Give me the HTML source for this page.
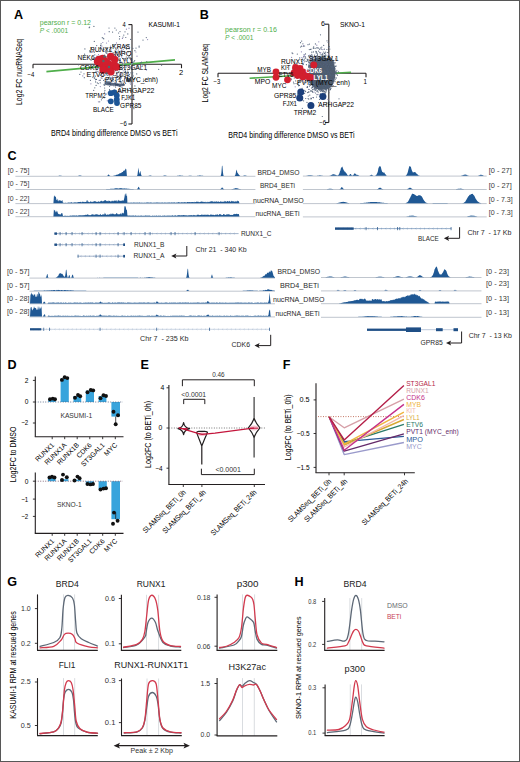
<!DOCTYPE html>
<html><head><meta charset="utf-8"><title>Figure</title><style>
html,body{margin:0;padding:0;background:#fff;}
svg{display:block;font-family:"Liberation Sans", sans-serif;}
</style></head><body>
<svg width="520" height="762" viewBox="0 0 520 762">
<text x="14.00" y="18.83" font-size="12.6" fill="#000" font-weight="bold">A</text>
<text x="199.80" y="18.53" font-size="12.6" fill="#000" font-weight="bold">B</text>
<text x="7.60" y="160.33" font-size="12.6" fill="#000" font-weight="bold">C</text>
<text x="7.60" y="369.23" font-size="12.6" fill="#000" font-weight="bold">D</text>
<text x="140.50" y="369.23" font-size="12.6" fill="#000" font-weight="bold">E</text>
<text x="282.80" y="369.23" font-size="12.6" fill="#000" font-weight="bold">F</text>
<text x="7.30" y="586.33" font-size="12.6" fill="#000" font-weight="bold">G</text>
<text x="294.50" y="586.33" font-size="12.6" fill="#000" font-weight="bold">H</text>
<line x1="33.00" y1="64.30" x2="181.50" y2="64.30" stroke="#231f20" stroke-width="1.1" />
<line x1="33.00" y1="64.30" x2="33.00" y2="68.20" stroke="#231f20" stroke-width="1.1" />
<line x1="181.50" y1="64.30" x2="181.50" y2="68.20" stroke="#231f20" stroke-width="1.1" />
<line x1="132.00" y1="24.60" x2="132.00" y2="124.00" stroke="#231f20" stroke-width="1.1" />
<line x1="128.40" y1="24.60" x2="132.00" y2="24.60" stroke="#231f20" stroke-width="1.1" />
<line x1="128.40" y1="124.00" x2="132.00" y2="124.00" stroke="#231f20" stroke-width="1.1" />
<line x1="46.40" y1="71.60" x2="175.00" y2="59.90" stroke="#4fae4a" stroke-width="1.6" />
<circle cx="100.5" cy="72.0" r="0.6" fill="#8f86b8"/>
<circle cx="130.4" cy="57.8" r="0.6" fill="#56667c"/>
<circle cx="99.1" cy="65.0" r="0.6" fill="#56667c"/>
<circle cx="123.5" cy="83.6" r="0.6" fill="#56667c"/>
<circle cx="100.6" cy="45.3" r="0.6" fill="#56667c"/>
<circle cx="126.5" cy="73.6" r="0.6" fill="#8f86b8"/>
<circle cx="137.7" cy="81.7" r="0.6" fill="#56667c"/>
<circle cx="154.0" cy="77.8" r="0.6" fill="#56667c"/>
<circle cx="106.4" cy="47.8" r="0.6" fill="#56667c"/>
<circle cx="118.3" cy="68.3" r="0.6" fill="#56667c"/>
<circle cx="112.3" cy="65.0" r="0.6" fill="#56667c"/>
<circle cx="120.7" cy="77.1" r="0.6" fill="#8f86b8"/>
<circle cx="131.8" cy="69.4" r="0.6" fill="#56667c"/>
<circle cx="92.8" cy="77.2" r="0.6" fill="#56667c"/>
<circle cx="97.8" cy="63.3" r="0.6" fill="#56667c"/>
<circle cx="97.1" cy="66.0" r="0.6" fill="#8f86b8"/>
<circle cx="106.5" cy="69.4" r="0.6" fill="#56667c"/>
<circle cx="161.6" cy="65.2" r="0.6" fill="#56667c"/>
<circle cx="113.9" cy="52.6" r="0.6" fill="#56667c"/>
<circle cx="118.4" cy="79.1" r="0.6" fill="#56667c"/>
<circle cx="124.6" cy="53.0" r="0.6" fill="#56667c"/>
<circle cx="124.4" cy="100.0" r="0.6" fill="#8f86b8"/>
<circle cx="79.8" cy="74.4" r="0.6" fill="#56667c"/>
<circle cx="112.8" cy="69.7" r="0.6" fill="#56667c"/>
<circle cx="100.9" cy="45.8" r="0.6" fill="#56667c"/>
<circle cx="116.3" cy="72.8" r="0.6" fill="#56667c"/>
<circle cx="99.7" cy="101.8" r="0.6" fill="#56667c"/>
<circle cx="117.3" cy="58.0" r="0.6" fill="#56667c"/>
<circle cx="117.1" cy="73.4" r="0.6" fill="#8f86b8"/>
<circle cx="103.3" cy="59.7" r="0.6" fill="#56667c"/>
<circle cx="125.0" cy="90.2" r="0.6" fill="#56667c"/>
<circle cx="130.2" cy="82.9" r="0.6" fill="#56667c"/>
<circle cx="127.5" cy="77.2" r="0.6" fill="#56667c"/>
<circle cx="119.5" cy="78.3" r="0.6" fill="#56667c"/>
<circle cx="124.0" cy="58.7" r="0.6" fill="#56667c"/>
<circle cx="96.1" cy="85.4" r="0.6" fill="#56667c"/>
<circle cx="113.1" cy="60.3" r="0.6" fill="#8f86b8"/>
<circle cx="126.3" cy="65.3" r="0.6" fill="#56667c"/>
<circle cx="115.8" cy="93.5" r="0.6" fill="#56667c"/>
<circle cx="111.6" cy="77.8" r="0.6" fill="#8f86b8"/>
<circle cx="122.3" cy="69.1" r="0.6" fill="#56667c"/>
<circle cx="108.3" cy="60.1" r="0.6" fill="#56667c"/>
<circle cx="106.5" cy="56.8" r="0.6" fill="#56667c"/>
<circle cx="84.3" cy="77.7" r="0.6" fill="#56667c"/>
<circle cx="99.4" cy="68.1" r="0.6" fill="#56667c"/>
<circle cx="122.7" cy="58.4" r="0.6" fill="#56667c"/>
<circle cx="133.7" cy="94.8" r="0.6" fill="#56667c"/>
<circle cx="117.0" cy="76.4" r="0.6" fill="#8f86b8"/>
<circle cx="114.9" cy="28.1" r="0.6" fill="#56667c"/>
<circle cx="127.9" cy="103.0" r="0.6" fill="#8f86b8"/>
<circle cx="130.6" cy="51.3" r="0.6" fill="#56667c"/>
<circle cx="111.4" cy="69.5" r="0.6" fill="#56667c"/>
<circle cx="114.1" cy="54.2" r="0.6" fill="#8f86b8"/>
<circle cx="125.1" cy="46.7" r="0.6" fill="#56667c"/>
<circle cx="114.7" cy="75.6" r="0.6" fill="#56667c"/>
<circle cx="116.1" cy="60.1" r="0.6" fill="#56667c"/>
<circle cx="119.3" cy="86.3" r="0.6" fill="#56667c"/>
<circle cx="128.2" cy="48.3" r="0.6" fill="#56667c"/>
<circle cx="111.3" cy="101.1" r="0.6" fill="#56667c"/>
<circle cx="117.7" cy="68.8" r="0.6" fill="#56667c"/>
<circle cx="115.2" cy="83.3" r="0.6" fill="#56667c"/>
<circle cx="124.8" cy="69.7" r="0.6" fill="#56667c"/>
<circle cx="105.1" cy="81.3" r="0.6" fill="#56667c"/>
<circle cx="125.7" cy="77.2" r="0.6" fill="#56667c"/>
<circle cx="146.3" cy="37.6" r="0.6" fill="#56667c"/>
<circle cx="110.5" cy="46.2" r="0.6" fill="#8f86b8"/>
<circle cx="119.3" cy="69.3" r="0.6" fill="#56667c"/>
<circle cx="146.5" cy="69.9" r="0.6" fill="#8f86b8"/>
<circle cx="119.7" cy="65.2" r="0.6" fill="#56667c"/>
<circle cx="106.8" cy="52.1" r="0.6" fill="#56667c"/>
<circle cx="115.6" cy="52.1" r="0.6" fill="#56667c"/>
<circle cx="122.3" cy="66.0" r="0.6" fill="#56667c"/>
<circle cx="95.9" cy="58.5" r="0.6" fill="#56667c"/>
<circle cx="134.9" cy="50.7" r="0.6" fill="#56667c"/>
<circle cx="125.0" cy="31.8" r="0.6" fill="#56667c"/>
<circle cx="104.7" cy="85.5" r="0.6" fill="#56667c"/>
<circle cx="123.8" cy="35.1" r="0.6" fill="#56667c"/>
<circle cx="100.0" cy="56.1" r="0.6" fill="#56667c"/>
<circle cx="103.8" cy="80.3" r="0.6" fill="#8f86b8"/>
<circle cx="112.7" cy="61.9" r="0.6" fill="#56667c"/>
<circle cx="89.6" cy="27.1" r="0.6" fill="#56667c"/>
<circle cx="132.9" cy="48.3" r="0.6" fill="#56667c"/>
<circle cx="100.2" cy="82.8" r="0.6" fill="#56667c"/>
<circle cx="104.3" cy="57.6" r="0.6" fill="#8f86b8"/>
<circle cx="120.0" cy="60.3" r="0.6" fill="#56667c"/>
<circle cx="117.0" cy="62.1" r="0.6" fill="#56667c"/>
<circle cx="104.6" cy="55.1" r="0.6" fill="#56667c"/>
<circle cx="119.6" cy="90.6" r="0.6" fill="#8f86b8"/>
<circle cx="98.4" cy="66.4" r="0.6" fill="#56667c"/>
<circle cx="126.1" cy="60.1" r="0.6" fill="#56667c"/>
<circle cx="128.4" cy="67.0" r="0.6" fill="#56667c"/>
<circle cx="113.0" cy="56.3" r="0.6" fill="#56667c"/>
<circle cx="131.2" cy="96.4" r="0.6" fill="#8f86b8"/>
<circle cx="109.2" cy="51.4" r="0.6" fill="#56667c"/>
<circle cx="126.3" cy="57.0" r="0.6" fill="#56667c"/>
<circle cx="112.5" cy="56.8" r="0.6" fill="#56667c"/>
<circle cx="94.8" cy="78.2" r="0.6" fill="#56667c"/>
<circle cx="106.8" cy="59.0" r="0.6" fill="#56667c"/>
<circle cx="127.4" cy="80.2" r="0.6" fill="#56667c"/>
<circle cx="130.7" cy="39.4" r="0.6" fill="#56667c"/>
<circle cx="109.0" cy="28.0" r="0.6" fill="#56667c"/>
<circle cx="115.6" cy="75.6" r="0.6" fill="#56667c"/>
<circle cx="106.7" cy="69.9" r="0.6" fill="#56667c"/>
<circle cx="120.1" cy="82.1" r="0.6" fill="#56667c"/>
<circle cx="105.9" cy="52.7" r="0.6" fill="#56667c"/>
<circle cx="106.7" cy="94.0" r="0.6" fill="#56667c"/>
<circle cx="131.7" cy="64.0" r="0.6" fill="#56667c"/>
<circle cx="120.0" cy="67.8" r="0.6" fill="#56667c"/>
<circle cx="119.7" cy="62.7" r="0.6" fill="#56667c"/>
<circle cx="112.5" cy="45.9" r="0.6" fill="#56667c"/>
<circle cx="108.3" cy="92.4" r="0.6" fill="#56667c"/>
<circle cx="124.2" cy="67.0" r="0.6" fill="#56667c"/>
<circle cx="114.1" cy="67.0" r="0.6" fill="#56667c"/>
<circle cx="121.8" cy="55.7" r="0.6" fill="#56667c"/>
<circle cx="119.7" cy="69.8" r="0.6" fill="#56667c"/>
<circle cx="106.9" cy="53.4" r="0.6" fill="#56667c"/>
<circle cx="103.5" cy="49.0" r="0.6" fill="#56667c"/>
<circle cx="129.0" cy="28.2" r="0.6" fill="#8f86b8"/>
<circle cx="113.4" cy="56.2" r="0.6" fill="#56667c"/>
<circle cx="108.6" cy="67.6" r="0.6" fill="#56667c"/>
<circle cx="132.2" cy="67.2" r="0.6" fill="#56667c"/>
<circle cx="115.1" cy="56.2" r="0.6" fill="#56667c"/>
<circle cx="115.3" cy="80.6" r="0.6" fill="#56667c"/>
<circle cx="111.7" cy="47.7" r="0.6" fill="#56667c"/>
<circle cx="99.9" cy="48.3" r="0.6" fill="#56667c"/>
<circle cx="98.2" cy="83.6" r="0.6" fill="#56667c"/>
<circle cx="121.8" cy="62.2" r="0.6" fill="#8f86b8"/>
<circle cx="98.9" cy="72.5" r="0.6" fill="#8f86b8"/>
<circle cx="128.1" cy="57.7" r="0.6" fill="#56667c"/>
<circle cx="91.8" cy="52.2" r="0.6" fill="#56667c"/>
<circle cx="126.4" cy="29.2" r="0.6" fill="#8f86b8"/>
<circle cx="97.9" cy="71.3" r="0.6" fill="#56667c"/>
<circle cx="123.0" cy="90.6" r="0.6" fill="#56667c"/>
<circle cx="125.1" cy="45.2" r="0.6" fill="#56667c"/>
<circle cx="115.1" cy="55.1" r="0.6" fill="#8f86b8"/>
<circle cx="147.6" cy="39.6" r="0.6" fill="#8f86b8"/>
<circle cx="93.8" cy="59.5" r="0.6" fill="#56667c"/>
<circle cx="104.3" cy="97.7" r="0.6" fill="#56667c"/>
<circle cx="124.7" cy="54.3" r="0.6" fill="#56667c"/>
<circle cx="129.6" cy="74.6" r="0.6" fill="#56667c"/>
<circle cx="95.1" cy="57.5" r="0.6" fill="#56667c"/>
<circle cx="113.8" cy="66.3" r="0.6" fill="#56667c"/>
<circle cx="118.8" cy="60.6" r="0.6" fill="#56667c"/>
<circle cx="119.6" cy="56.6" r="0.6" fill="#56667c"/>
<circle cx="104.9" cy="90.3" r="0.6" fill="#56667c"/>
<circle cx="121.9" cy="73.0" r="0.6" fill="#56667c"/>
<circle cx="95.5" cy="63.3" r="0.6" fill="#56667c"/>
<circle cx="128.1" cy="45.3" r="0.6" fill="#56667c"/>
<circle cx="131.8" cy="59.8" r="0.6" fill="#56667c"/>
<circle cx="122.4" cy="63.9" r="0.6" fill="#56667c"/>
<circle cx="119.9" cy="85.3" r="0.6" fill="#56667c"/>
<circle cx="111.6" cy="91.0" r="0.6" fill="#56667c"/>
<circle cx="106.4" cy="51.1" r="0.6" fill="#56667c"/>
<circle cx="126.6" cy="48.9" r="0.6" fill="#56667c"/>
<circle cx="112.0" cy="80.5" r="0.6" fill="#56667c"/>
<circle cx="138.0" cy="32.1" r="0.6" fill="#56667c"/>
<circle cx="108.9" cy="61.3" r="0.6" fill="#56667c"/>
<circle cx="101.4" cy="61.8" r="0.6" fill="#56667c"/>
<circle cx="114.5" cy="63.7" r="0.6" fill="#56667c"/>
<circle cx="133.0" cy="62.3" r="0.6" fill="#56667c"/>
<circle cx="97.3" cy="82.8" r="0.6" fill="#56667c"/>
<circle cx="102.5" cy="58.8" r="0.6" fill="#56667c"/>
<circle cx="115.2" cy="60.5" r="0.6" fill="#56667c"/>
<circle cx="103.5" cy="62.0" r="0.6" fill="#56667c"/>
<circle cx="110.1" cy="67.4" r="0.6" fill="#56667c"/>
<circle cx="94.3" cy="77.9" r="0.6" fill="#56667c"/>
<circle cx="129.5" cy="55.4" r="0.6" fill="#56667c"/>
<circle cx="113.4" cy="75.5" r="0.6" fill="#56667c"/>
<circle cx="94.3" cy="41.4" r="0.6" fill="#56667c"/>
<circle cx="120.3" cy="76.8" r="0.6" fill="#56667c"/>
<circle cx="112.4" cy="53.0" r="0.6" fill="#56667c"/>
<circle cx="105.5" cy="83.6" r="0.6" fill="#56667c"/>
<circle cx="106.8" cy="65.2" r="0.6" fill="#56667c"/>
<circle cx="122.4" cy="84.6" r="0.6" fill="#8f86b8"/>
<circle cx="104.9" cy="72.0" r="0.6" fill="#56667c"/>
<circle cx="102.8" cy="76.2" r="0.6" fill="#56667c"/>
<circle cx="121.9" cy="75.1" r="0.6" fill="#56667c"/>
<circle cx="103.9" cy="49.2" r="0.6" fill="#56667c"/>
<circle cx="91.1" cy="60.2" r="0.6" fill="#56667c"/>
<circle cx="96.7" cy="45.6" r="0.6" fill="#56667c"/>
<circle cx="119.4" cy="92.1" r="0.6" fill="#8f86b8"/>
<circle cx="127.8" cy="33.9" r="0.6" fill="#56667c"/>
<circle cx="112.3" cy="78.7" r="0.6" fill="#56667c"/>
<circle cx="125.4" cy="60.8" r="0.6" fill="#8f86b8"/>
<circle cx="118.5" cy="91.7" r="0.6" fill="#56667c"/>
<circle cx="116.6" cy="73.2" r="0.6" fill="#56667c"/>
<circle cx="124.0" cy="51.4" r="0.6" fill="#56667c"/>
<circle cx="118.7" cy="58.0" r="0.6" fill="#56667c"/>
<circle cx="100.2" cy="80.0" r="0.6" fill="#56667c"/>
<circle cx="126.0" cy="67.2" r="0.6" fill="#56667c"/>
<circle cx="104.7" cy="33.9" r="0.6" fill="#8f86b8"/>
<circle cx="123.6" cy="64.4" r="0.6" fill="#8f86b8"/>
<circle cx="94.3" cy="65.0" r="0.6" fill="#56667c"/>
<circle cx="96.5" cy="65.6" r="0.6" fill="#8f86b8"/>
<circle cx="118.9" cy="71.7" r="0.6" fill="#56667c"/>
<circle cx="119.9" cy="68.7" r="0.6" fill="#56667c"/>
<circle cx="101.6" cy="59.9" r="0.6" fill="#56667c"/>
<circle cx="110.1" cy="62.2" r="0.6" fill="#56667c"/>
<circle cx="120.6" cy="75.9" r="0.6" fill="#56667c"/>
<circle cx="121.0" cy="69.2" r="0.6" fill="#8f86b8"/>
<circle cx="131.3" cy="60.7" r="0.6" fill="#56667c"/>
<circle cx="118.1" cy="51.8" r="0.6" fill="#56667c"/>
<circle cx="101.1" cy="70.0" r="0.6" fill="#56667c"/>
<circle cx="100.4" cy="75.2" r="0.6" fill="#56667c"/>
<circle cx="137.9" cy="68.1" r="0.6" fill="#56667c"/>
<circle cx="123.2" cy="82.0" r="0.6" fill="#56667c"/>
<circle cx="116.1" cy="49.7" r="0.6" fill="#56667c"/>
<circle cx="119.7" cy="75.0" r="0.6" fill="#56667c"/>
<circle cx="114.6" cy="65.8" r="0.6" fill="#56667c"/>
<circle cx="136.0" cy="48.1" r="0.6" fill="#56667c"/>
<circle cx="129.2" cy="48.7" r="0.6" fill="#56667c"/>
<circle cx="101.9" cy="78.2" r="0.6" fill="#56667c"/>
<circle cx="78.6" cy="64.8" r="0.6" fill="#56667c"/>
<circle cx="120.5" cy="54.4" r="0.6" fill="#56667c"/>
<circle cx="135.9" cy="52.0" r="0.6" fill="#8f86b8"/>
<circle cx="122.4" cy="51.0" r="0.6" fill="#8f86b8"/>
<circle cx="139.1" cy="46.1" r="0.6" fill="#56667c"/>
<circle cx="119.5" cy="38.9" r="0.6" fill="#56667c"/>
<circle cx="99.1" cy="80.3" r="0.6" fill="#8f86b8"/>
<circle cx="128.2" cy="72.3" r="0.6" fill="#56667c"/>
<circle cx="115.1" cy="66.5" r="0.6" fill="#56667c"/>
<circle cx="105.1" cy="84.0" r="0.6" fill="#56667c"/>
<circle cx="110.0" cy="57.8" r="0.6" fill="#56667c"/>
<circle cx="107.6" cy="48.5" r="0.6" fill="#8f86b8"/>
<circle cx="103.9" cy="62.7" r="0.6" fill="#8f86b8"/>
<circle cx="136.4" cy="66.0" r="0.6" fill="#56667c"/>
<circle cx="135.5" cy="69.2" r="0.6" fill="#56667c"/>
<circle cx="116.4" cy="82.2" r="0.6" fill="#56667c"/>
<circle cx="125.5" cy="69.3" r="0.6" fill="#56667c"/>
<circle cx="112.6" cy="71.1" r="0.6" fill="#56667c"/>
<circle cx="116.8" cy="100.8" r="0.6" fill="#56667c"/>
<circle cx="101.7" cy="60.1" r="0.6" fill="#56667c"/>
<circle cx="134.1" cy="61.7" r="0.6" fill="#56667c"/>
<circle cx="101.1" cy="43.8" r="0.6" fill="#56667c"/>
<circle cx="133.2" cy="75.9" r="0.6" fill="#56667c"/>
<circle cx="108.9" cy="67.7" r="0.6" fill="#56667c"/>
<circle cx="98.5" cy="66.6" r="0.6" fill="#56667c"/>
<circle cx="99.0" cy="62.4" r="0.6" fill="#56667c"/>
<circle cx="109.6" cy="75.8" r="0.6" fill="#56667c"/>
<circle cx="107.3" cy="49.0" r="0.6" fill="#56667c"/>
<circle cx="112.5" cy="90.8" r="0.6" fill="#56667c"/>
<circle cx="116.4" cy="68.6" r="0.6" fill="#56667c"/>
<circle cx="117.1" cy="70.7" r="0.6" fill="#56667c"/>
<circle cx="129.5" cy="88.3" r="0.6" fill="#56667c"/>
<circle cx="94.8" cy="87.8" r="0.6" fill="#56667c"/>
<circle cx="117.0" cy="60.9" r="0.6" fill="#56667c"/>
<circle cx="128.9" cy="56.5" r="0.6" fill="#56667c"/>
<circle cx="81.0" cy="72.0" r="0.6" fill="#56667c"/>
<circle cx="117.6" cy="85.5" r="0.6" fill="#8f86b8"/>
<circle cx="137.0" cy="56.2" r="0.6" fill="#8f86b8"/>
<circle cx="141.6" cy="62.1" r="0.6" fill="#56667c"/>
<circle cx="131.2" cy="80.8" r="0.6" fill="#56667c"/>
<circle cx="108.2" cy="69.0" r="0.6" fill="#56667c"/>
<circle cx="132.7" cy="72.3" r="0.6" fill="#56667c"/>
<circle cx="127.4" cy="78.2" r="0.6" fill="#56667c"/>
<circle cx="109.7" cy="50.7" r="0.6" fill="#56667c"/>
<circle cx="115.6" cy="87.1" r="0.6" fill="#56667c"/>
<circle cx="96.5" cy="79.4" r="0.6" fill="#56667c"/>
<circle cx="138.5" cy="88.2" r="0.6" fill="#56667c"/>
<circle cx="108.0" cy="55.3" r="0.6" fill="#56667c"/>
<circle cx="114.2" cy="90.1" r="0.6" fill="#56667c"/>
<circle cx="100.4" cy="57.5" r="0.6" fill="#8f86b8"/>
<circle cx="101.9" cy="46.1" r="0.6" fill="#8f86b8"/>
<circle cx="120.8" cy="77.3" r="0.6" fill="#56667c"/>
<circle cx="146.8" cy="61.5" r="0.6" fill="#56667c"/>
<circle cx="121.6" cy="67.4" r="0.6" fill="#56667c"/>
<circle cx="115.1" cy="82.7" r="0.6" fill="#56667c"/>
<circle cx="112.5" cy="60.8" r="0.6" fill="#8f86b8"/>
<circle cx="111.9" cy="64.4" r="0.6" fill="#8f86b8"/>
<circle cx="134.4" cy="78.4" r="0.6" fill="#56667c"/>
<circle cx="108.1" cy="54.7" r="0.6" fill="#56667c"/>
<circle cx="107.8" cy="67.5" r="0.6" fill="#56667c"/>
<circle cx="104.6" cy="88.0" r="0.6" fill="#56667c"/>
<circle cx="119.8" cy="60.7" r="0.6" fill="#56667c"/>
<circle cx="134.9" cy="85.9" r="0.6" fill="#56667c"/>
<circle cx="118.1" cy="55.0" r="0.6" fill="#56667c"/>
<circle cx="107.7" cy="71.7" r="0.6" fill="#8f86b8"/>
<circle cx="121.8" cy="51.7" r="0.6" fill="#8f86b8"/>
<circle cx="93.9" cy="26.4" r="0.6" fill="#56667c"/>
<circle cx="109.2" cy="84.0" r="0.6" fill="#56667c"/>
<circle cx="116.3" cy="30.0" r="0.6" fill="#56667c"/>
<circle cx="105.4" cy="72.7" r="0.6" fill="#56667c"/>
<circle cx="132.1" cy="76.3" r="0.6" fill="#56667c"/>
<circle cx="96.6" cy="68.3" r="0.6" fill="#8f86b8"/>
<circle cx="109.9" cy="92.4" r="0.6" fill="#8f86b8"/>
<circle cx="125.3" cy="71.1" r="0.6" fill="#56667c"/>
<circle cx="114.1" cy="60.4" r="0.6" fill="#56667c"/>
<circle cx="109.8" cy="90.3" r="0.6" fill="#56667c"/>
<circle cx="113.2" cy="53.8" r="0.6" fill="#56667c"/>
<circle cx="124.9" cy="77.8" r="0.6" fill="#56667c"/>
<circle cx="115.1" cy="50.9" r="0.6" fill="#56667c"/>
<circle cx="132.7" cy="82.9" r="0.6" fill="#8f86b8"/>
<circle cx="89.6" cy="50.9" r="0.6" fill="#56667c"/>
<circle cx="120.8" cy="53.1" r="0.6" fill="#56667c"/>
<circle cx="111.4" cy="80.7" r="0.6" fill="#56667c"/>
<circle cx="108.7" cy="77.7" r="0.6" fill="#56667c"/>
<circle cx="108.1" cy="78.2" r="0.6" fill="#56667c"/>
<circle cx="110.2" cy="72.8" r="0.6" fill="#56667c"/>
<circle cx="94.8" cy="54.8" r="0.6" fill="#56667c"/>
<circle cx="92.1" cy="58.3" r="0.6" fill="#8f86b8"/>
<circle cx="109.2" cy="62.2" r="0.6" fill="#8f86b8"/>
<circle cx="118.6" cy="33.0" r="0.6" fill="#56667c"/>
<circle cx="116.4" cy="69.3" r="0.6" fill="#56667c"/>
<circle cx="100.2" cy="64.0" r="0.6" fill="#56667c"/>
<circle cx="84.9" cy="48.9" r="0.6" fill="#56667c"/>
<circle cx="102.8" cy="42.5" r="0.6" fill="#8f86b8"/>
<circle cx="132.6" cy="73.9" r="0.6" fill="#56667c"/>
<circle cx="118.3" cy="59.5" r="0.6" fill="#56667c"/>
<circle cx="136.2" cy="78.8" r="0.6" fill="#56667c"/>
<circle cx="116.5" cy="42.9" r="0.6" fill="#8f86b8"/>
<circle cx="117.3" cy="77.3" r="0.6" fill="#56667c"/>
<circle cx="118.6" cy="46.7" r="0.6" fill="#56667c"/>
<circle cx="118.2" cy="50.0" r="0.6" fill="#56667c"/>
<circle cx="98.4" cy="101.8" r="0.6" fill="#8f86b8"/>
<circle cx="109.6" cy="49.5" r="0.6" fill="#56667c"/>
<circle cx="96.0" cy="60.1" r="0.6" fill="#56667c"/>
<circle cx="109.2" cy="31.7" r="0.6" fill="#56667c"/>
<circle cx="95.6" cy="81.9" r="0.6" fill="#56667c"/>
<circle cx="103.8" cy="38.8" r="0.6" fill="#56667c"/>
<circle cx="125.8" cy="37.5" r="0.6" fill="#56667c"/>
<circle cx="143.0" cy="40.1" r="0.6" fill="#56667c"/>
<circle cx="96.0" cy="62.2" r="0.6" fill="#56667c"/>
<circle cx="121.6" cy="50.2" r="0.6" fill="#56667c"/>
<circle cx="110.3" cy="70.3" r="0.6" fill="#56667c"/>
<circle cx="111.2" cy="72.8" r="0.6" fill="#56667c"/>
<circle cx="121.0" cy="82.1" r="0.6" fill="#56667c"/>
<circle cx="107.7" cy="106.9" r="0.6" fill="#56667c"/>
<circle cx="127.8" cy="71.0" r="0.6" fill="#56667c"/>
<circle cx="131.6" cy="81.3" r="0.6" fill="#56667c"/>
<circle cx="118.4" cy="56.1" r="0.6" fill="#8f86b8"/>
<circle cx="130.8" cy="72.8" r="0.6" fill="#56667c"/>
<circle cx="91.5" cy="48.3" r="0.6" fill="#56667c"/>
<circle cx="123.3" cy="67.7" r="0.6" fill="#56667c"/>
<circle cx="120.8" cy="76.3" r="0.6" fill="#56667c"/>
<circle cx="119.0" cy="91.3" r="0.6" fill="#8f86b8"/>
<circle cx="109.0" cy="59.6" r="0.6" fill="#56667c"/>
<circle cx="121.4" cy="77.9" r="0.6" fill="#8f86b8"/>
<circle cx="127.6" cy="89.8" r="0.6" fill="#56667c"/>
<circle cx="110.6" cy="84.7" r="0.6" fill="#56667c"/>
<circle cx="123.3" cy="49.3" r="0.6" fill="#8f86b8"/>
<circle cx="115.1" cy="99.4" r="0.6" fill="#56667c"/>
<circle cx="127.6" cy="58.5" r="0.6" fill="#56667c"/>
<circle cx="84.6" cy="54.2" r="0.6" fill="#56667c"/>
<circle cx="107.5" cy="67.2" r="0.6" fill="#56667c"/>
<circle cx="148.2" cy="77.9" r="0.6" fill="#56667c"/>
<circle cx="104.6" cy="79.0" r="0.6" fill="#56667c"/>
<circle cx="106.2" cy="64.7" r="0.6" fill="#8f86b8"/>
<circle cx="132.2" cy="67.2" r="0.6" fill="#8f86b8"/>
<circle cx="100.3" cy="86.6" r="0.6" fill="#8f86b8"/>
<circle cx="112.8" cy="44.7" r="0.6" fill="#56667c"/>
<circle cx="121.3" cy="73.8" r="0.6" fill="#8f86b8"/>
<circle cx="112.4" cy="77.2" r="0.6" fill="#56667c"/>
<circle cx="128.1" cy="51.9" r="0.6" fill="#56667c"/>
<circle cx="89.2" cy="27.7" r="0.6" fill="#56667c"/>
<circle cx="115.3" cy="85.7" r="0.6" fill="#56667c"/>
<circle cx="130.5" cy="88.3" r="0.6" fill="#56667c"/>
<circle cx="142.1" cy="66.3" r="0.6" fill="#56667c"/>
<circle cx="119.5" cy="60.0" r="0.6" fill="#56667c"/>
<circle cx="114.3" cy="91.2" r="0.6" fill="#56667c"/>
<circle cx="129.7" cy="76.5" r="0.6" fill="#56667c"/>
<circle cx="84.0" cy="73.8" r="0.6" fill="#56667c"/>
<circle cx="94.2" cy="49.6" r="0.6" fill="#56667c"/>
<circle cx="109.1" cy="92.7" r="0.6" fill="#56667c"/>
<circle cx="90.9" cy="83.8" r="0.6" fill="#8f86b8"/>
<circle cx="101.1" cy="60.7" r="0.6" fill="#56667c"/>
<circle cx="131.0" cy="91.3" r="0.6" fill="#56667c"/>
<circle cx="112.6" cy="78.8" r="0.6" fill="#8f86b8"/>
<circle cx="127.2" cy="72.3" r="0.6" fill="#56667c"/>
<circle cx="96.1" cy="71.2" r="0.6" fill="#56667c"/>
<circle cx="103.9" cy="84.8" r="0.6" fill="#56667c"/>
<circle cx="127.6" cy="75.9" r="0.6" fill="#8f86b8"/>
<circle cx="82.8" cy="75.9" r="0.6" fill="#8f86b8"/>
<circle cx="126.4" cy="45.6" r="0.6" fill="#56667c"/>
<circle cx="130.1" cy="67.2" r="0.6" fill="#8f86b8"/>
<circle cx="114.5" cy="54.6" r="0.6" fill="#56667c"/>
<circle cx="103.3" cy="59.1" r="0.6" fill="#8f86b8"/>
<circle cx="158.7" cy="69.3" r="0.6" fill="#56667c"/>
<circle cx="122.0" cy="87.3" r="0.6" fill="#56667c"/>
<circle cx="113.7" cy="81.0" r="0.6" fill="#56667c"/>
<circle cx="106.0" cy="62.7" r="0.6" fill="#8f86b8"/>
<circle cx="110.0" cy="79.6" r="0.6" fill="#56667c"/>
<circle cx="111.8" cy="55.3" r="0.6" fill="#56667c"/>
<circle cx="123.8" cy="90.7" r="0.6" fill="#56667c"/>
<circle cx="101.4" cy="99.8" r="0.6" fill="#56667c"/>
<circle cx="97.0" cy="56.1" r="0.6" fill="#56667c"/>
<circle cx="104.6" cy="92.1" r="0.6" fill="#56667c"/>
<circle cx="123.2" cy="70.8" r="0.6" fill="#8f86b8"/>
<circle cx="133.8" cy="79.5" r="0.6" fill="#56667c"/>
<circle cx="122.8" cy="80.7" r="0.6" fill="#56667c"/>
<circle cx="126.4" cy="47.7" r="0.6" fill="#56667c"/>
<circle cx="125.2" cy="72.2" r="0.6" fill="#56667c"/>
<circle cx="120.8" cy="72.9" r="0.6" fill="#8f86b8"/>
<circle cx="112.6" cy="69.4" r="0.6" fill="#56667c"/>
<circle cx="129.5" cy="57.9" r="0.6" fill="#56667c"/>
<circle cx="97.6" cy="64.3" r="0.6" fill="#56667c"/>
<circle cx="119.6" cy="36.5" r="0.6" fill="#56667c"/>
<circle cx="107.9" cy="75.4" r="0.6" fill="#56667c"/>
<circle cx="115.0" cy="67.5" r="0.6" fill="#56667c"/>
<circle cx="100.0" cy="80.5" r="0.6" fill="#56667c"/>
<circle cx="140.7" cy="62.8" r="0.6" fill="#56667c"/>
<circle cx="115.0" cy="64.0" r="0.6" fill="#56667c"/>
<circle cx="111.0" cy="78.8" r="0.6" fill="#56667c"/>
<circle cx="113.3" cy="59.8" r="0.6" fill="#56667c"/>
<circle cx="105.4" cy="79.3" r="0.6" fill="#56667c"/>
<circle cx="123.0" cy="37.0" r="0.6" fill="#56667c"/>
<circle cx="110.9" cy="59.9" r="0.6" fill="#56667c"/>
<circle cx="120.0" cy="31.6" r="0.6" fill="#56667c"/>
<circle cx="105.0" cy="61.5" r="0.6" fill="#56667c"/>
<circle cx="109.5" cy="66.0" r="0.6" fill="#56667c"/>
<circle cx="95.7" cy="63.4" r="0.6" fill="#56667c"/>
<circle cx="121.6" cy="56.9" r="0.6" fill="#8f86b8"/>
<circle cx="125.8" cy="72.0" r="0.6" fill="#56667c"/>
<circle cx="98.5" cy="54.6" r="0.6" fill="#8f86b8"/>
<circle cx="102.2" cy="98.3" r="0.6" fill="#56667c"/>
<circle cx="107.3" cy="79.7" r="0.6" fill="#56667c"/>
<circle cx="130.9" cy="54.6" r="0.6" fill="#56667c"/>
<circle cx="100.9" cy="58.4" r="0.6" fill="#8f86b8"/>
<circle cx="114.3" cy="100.9" r="0.6" fill="#56667c"/>
<circle cx="141.9" cy="64.5" r="0.6" fill="#8f86b8"/>
<circle cx="125.0" cy="58.8" r="0.6" fill="#56667c"/>
<circle cx="94.2" cy="52.5" r="0.6" fill="#56667c"/>
<circle cx="123.7" cy="84.5" r="0.6" fill="#56667c"/>
<circle cx="120.1" cy="67.9" r="0.6" fill="#56667c"/>
<circle cx="133.9" cy="108.7" r="0.6" fill="#56667c"/>
<circle cx="110.7" cy="54.5" r="0.6" fill="#56667c"/>
<circle cx="106.5" cy="43.0" r="0.6" fill="#8f86b8"/>
<circle cx="103.7" cy="80.5" r="0.6" fill="#56667c"/>
<circle cx="117.8" cy="63.3" r="0.6" fill="#56667c"/>
<circle cx="121.7" cy="83.1" r="0.6" fill="#56667c"/>
<circle cx="125.3" cy="78.4" r="0.6" fill="#8f86b8"/>
<circle cx="109.4" cy="61.8" r="0.6" fill="#56667c"/>
<circle cx="106.5" cy="64.4" r="0.6" fill="#56667c"/>
<circle cx="106.0" cy="60.0" r="0.6" fill="#56667c"/>
<circle cx="114.6" cy="62.5" r="0.6" fill="#56667c"/>
<circle cx="113.4" cy="58.1" r="0.6" fill="#56667c"/>
<circle cx="134.7" cy="60.5" r="0.6" fill="#56667c"/>
<circle cx="101.0" cy="77.8" r="0.6" fill="#8f86b8"/>
<circle cx="108.5" cy="41.0" r="0.6" fill="#8f86b8"/>
<circle cx="117.2" cy="47.5" r="0.6" fill="#56667c"/>
<circle cx="142.8" cy="65.0" r="0.6" fill="#56667c"/>
<circle cx="104.9" cy="75.2" r="0.6" fill="#56667c"/>
<circle cx="90.2" cy="52.0" r="0.6" fill="#56667c"/>
<circle cx="100.7" cy="62.8" r="0.6" fill="#8f86b8"/>
<circle cx="90.4" cy="80.3" r="0.6" fill="#56667c"/>
<circle cx="115.1" cy="70.8" r="0.6" fill="#56667c"/>
<circle cx="112.6" cy="32.1" r="0.6" fill="#56667c"/>
<circle cx="114.9" cy="44.6" r="0.6" fill="#56667c"/>
<circle cx="117.1" cy="52.4" r="0.6" fill="#56667c"/>
<circle cx="112.7" cy="62.6" r="0.6" fill="#56667c"/>
<circle cx="127.4" cy="78.3" r="0.6" fill="#56667c"/>
<circle cx="103.4" cy="65.7" r="0.6" fill="#56667c"/>
<circle cx="136.7" cy="73.9" r="0.6" fill="#56667c"/>
<circle cx="117.8" cy="79.7" r="0.6" fill="#56667c"/>
<circle cx="109.2" cy="73.2" r="0.6" fill="#56667c"/>
<circle cx="144.0" cy="80.7" r="0.6" fill="#56667c"/>
<circle cx="103.3" cy="38.3" r="0.6" fill="#56667c"/>
<circle cx="95.5" cy="79.7" r="0.6" fill="#56667c"/>
<circle cx="120.9" cy="92.1" r="0.6" fill="#8f86b8"/>
<circle cx="90.3" cy="51.9" r="0.6" fill="#56667c"/>
<circle cx="84.8" cy="56.8" r="0.6" fill="#56667c"/>
<circle cx="127.1" cy="66.0" r="0.6" fill="#8f86b8"/>
<circle cx="113.4" cy="79.5" r="0.6" fill="#56667c"/>
<circle cx="143.5" cy="79.0" r="0.6" fill="#56667c"/>
<circle cx="106.9" cy="75.0" r="0.6" fill="#56667c"/>
<circle cx="113.4" cy="63.5" r="0.6" fill="#8f86b8"/>
<circle cx="85.5" cy="66.4" r="0.6" fill="#56667c"/>
<circle cx="132.1" cy="63.4" r="0.6" fill="#8f86b8"/>
<circle cx="120.0" cy="78.9" r="0.6" fill="#56667c"/>
<circle cx="123.6" cy="53.3" r="0.6" fill="#8f86b8"/>
<circle cx="108.8" cy="67.7" r="0.6" fill="#56667c"/>
<circle cx="111.1" cy="58.3" r="0.6" fill="#56667c"/>
<circle cx="120.2" cy="62.5" r="0.6" fill="#8f86b8"/>
<circle cx="139.1" cy="47.1" r="0.6" fill="#56667c"/>
<circle cx="130.8" cy="84.5" r="0.6" fill="#8f86b8"/>
<circle cx="130.5" cy="59.4" r="0.6" fill="#8f86b8"/>
<circle cx="125.4" cy="71.4" r="0.6" fill="#56667c"/>
<circle cx="109.5" cy="89.6" r="0.6" fill="#56667c"/>
<circle cx="119.8" cy="75.5" r="0.6" fill="#8f86b8"/>
<circle cx="118.8" cy="89.6" r="0.6" fill="#56667c"/>
<circle cx="120.3" cy="51.1" r="0.6" fill="#8f86b8"/>
<circle cx="102.3" cy="37.7" r="0.6" fill="#56667c"/>
<circle cx="108.8" cy="59.8" r="0.6" fill="#56667c"/>
<circle cx="107.3" cy="100.7" r="0.6" fill="#8f86b8"/>
<circle cx="111.6" cy="54.8" r="0.6" fill="#56667c"/>
<circle cx="113.3" cy="60.6" r="0.6" fill="#56667c"/>
<circle cx="131.5" cy="64.2" r="0.6" fill="#8f86b8"/>
<circle cx="100.7" cy="62.5" r="0.6" fill="#56667c"/>
<circle cx="116.9" cy="94.8" r="0.6" fill="#56667c"/>
<circle cx="126.4" cy="72.8" r="0.6" fill="#56667c"/>
<circle cx="117.4" cy="54.0" r="0.6" fill="#56667c"/>
<circle cx="113.9" cy="85.8" r="0.6" fill="#56667c"/>
<circle cx="128.2" cy="97.4" r="0.6" fill="#56667c"/>
<circle cx="120.5" cy="65.7" r="0.6" fill="#56667c"/>
<circle cx="95.2" cy="72.4" r="0.6" fill="#56667c"/>
<circle cx="93.7" cy="90.4" r="0.6" fill="#56667c"/>
<circle cx="108.5" cy="66.0" r="0.6" fill="#8f86b8"/>
<circle cx="98.8" cy="58.1" r="0.6" fill="#56667c"/>
<circle cx="104.4" cy="84.1" r="0.6" fill="#56667c"/>
<circle cx="120.4" cy="47.1" r="0.6" fill="#8f86b8"/>
<circle cx="90.9" cy="64.9" r="0.6" fill="#56667c"/>
<circle cx="110.4" cy="48.2" r="0.6" fill="#56667c"/>
<circle cx="125.0" cy="63.0" r="0.6" fill="#56667c"/>
<circle cx="118.5" cy="56.6" r="0.6" fill="#56667c"/>
<circle cx="109.3" cy="58.6" r="0.6" fill="#56667c"/>
<circle cx="95.4" cy="76.1" r="0.6" fill="#56667c"/>
<circle cx="122.4" cy="38.4" r="0.6" fill="#8f86b8"/>
<circle cx="118.4" cy="84.5" r="0.6" fill="#8f86b8"/>
<circle cx="120.2" cy="86.7" r="0.6" fill="#56667c"/>
<circle cx="113.4" cy="66.0" r="0.6" fill="#56667c"/>
<circle cx="99.5" cy="51.5" r="0.6" fill="#56667c"/>
<circle cx="92.4" cy="51.7" r="0.6" fill="#8f86b8"/>
<circle cx="120.3" cy="74.3" r="0.6" fill="#56667c"/>
<circle cx="132.7" cy="68.1" r="0.6" fill="#8f86b8"/>
<circle cx="103.6" cy="72.9" r="0.6" fill="#56667c"/>
<circle cx="115.0" cy="94.5" r="0.6" fill="#8f86b8"/>
<circle cx="143.4" cy="81.4" r="0.6" fill="#56667c"/>
<circle cx="94.0" cy="58.4" r="0.6" fill="#56667c"/>
<circle cx="117.6" cy="75.0" r="0.6" fill="#8f86b8"/>
<circle cx="115.5" cy="70.4" r="0.6" fill="#56667c"/>
<circle cx="109.6" cy="86.5" r="0.6" fill="#56667c"/>
<circle cx="106.5" cy="64.0" r="0.6" fill="#56667c"/>
<circle cx="112.1" cy="62.4" r="0.6" fill="#56667c"/>
<ellipse cx="112" cy="84.3" rx="7" ry="1.5" fill="#2f4260" opacity="0.8"/>
<ellipse cx="120" cy="85" rx="5" ry="1.4" fill="#2f4260" opacity="0.8"/>
<ellipse cx="108" cy="82.5" rx="3.5" ry="1.3" fill="#2f4260" opacity="0.8"/>
<ellipse cx="128.5" cy="80" rx="2.5" ry="2.2" fill="#2f4260" opacity="0.8"/>
<ellipse cx="104" cy="64" rx="2" ry="4" fill="#2f4260" opacity="0.8"/>
<circle cx="99.00" cy="59.50" r="3.7" fill="#d21f2e"/>
<circle cx="102.60" cy="58.50" r="3.7" fill="#d21f2e"/>
<circle cx="110.70" cy="56.50" r="3.7" fill="#d21f2e"/>
<circle cx="114.60" cy="59.50" r="3.7" fill="#d21f2e"/>
<circle cx="103.40" cy="65.70" r="3.7" fill="#d21f2e"/>
<circle cx="108.00" cy="63.40" r="3.7" fill="#d21f2e"/>
<circle cx="112.60" cy="66.50" r="3.7" fill="#d21f2e"/>
<circle cx="107.20" cy="70.30" r="3.7" fill="#d21f2e"/>
<circle cx="111.00" cy="71.80" r="3.7" fill="#d21f2e"/>
<circle cx="114.00" cy="64.50" r="3.7" fill="#d21f2e"/>
<circle cx="99.50" cy="63.00" r="3.7" fill="#d21f2e"/>
<circle cx="105.00" cy="61.00" r="3.7" fill="#d21f2e"/>
<circle cx="116.50" cy="67.00" r="3.7" fill="#d21f2e"/>
<circle cx="103.00" cy="70.00" r="3.7" fill="#d21f2e"/>
<circle cx="97.50" cy="61.50" r="3.7" fill="#d21f2e"/>
<circle cx="104.50" cy="56.50" r="1.2" fill="#4c6a6e"/>
<circle cx="103.40" cy="61.00" r="1.2" fill="#4c6a6e"/>
<circle cx="106.50" cy="73.40" r="1.2" fill="#4c6a6e"/>
<circle cx="109.00" cy="67.00" r="1.2" fill="#4c6a6e"/>
<circle cx="110.80" cy="93.20" r="2.9" fill="#1c5596"/>
<circle cx="114.50" cy="92.50" r="2.9" fill="#1c5596"/>
<circle cx="116.80" cy="95.50" r="2.9" fill="#1c5596"/>
<circle cx="116.80" cy="99.50" r="2.9" fill="#1c5596"/>
<circle cx="117.00" cy="103.00" r="2.9" fill="#1c5596"/>
<circle cx="110.80" cy="101.30" r="2.9" fill="#1c5596"/>
<text x="90.00" y="52.45" font-size="8.0" textLength="22.30" lengthAdjust="spacingAndGlyphs">RUNX1</text>
<text x="112.30" y="48.95" font-size="8.0" textLength="17.70" lengthAdjust="spacingAndGlyphs">KRAS</text>
<text x="77.40" y="60.15" font-size="8.0" textLength="17.20" lengthAdjust="spacingAndGlyphs">NEK6</text>
<text x="114.60" y="56.15" font-size="8.0" textLength="16.90" lengthAdjust="spacingAndGlyphs">MPO</text>
<text x="119.20" y="62.75" font-size="8.0" textLength="13.80" lengthAdjust="spacingAndGlyphs">LYL1</text>
<text x="80.00" y="70.45" font-size="8.0" textLength="18.50" lengthAdjust="spacingAndGlyphs">CDK6</text>
<text x="118.50" y="70.45" font-size="8.0" textLength="28.50" lengthAdjust="spacingAndGlyphs">ST3GAL1</text>
<text x="86.60" y="77.35" font-size="8.0" textLength="18.00" lengthAdjust="spacingAndGlyphs">ETV6</text>
<text x="116.00" y="76.55" font-size="8.0" textLength="13.00" lengthAdjust="spacingAndGlyphs">CD34</text>
<text x="105.00" y="82.45" font-size="8.0" textLength="53.00" lengthAdjust="spacingAndGlyphs">PVT1 (MYC_enh)</text>
<text x="117.20" y="92.85" font-size="8.0" textLength="37.20" lengthAdjust="spacingAndGlyphs">ARHGAP22</text>
<text x="85.20" y="98.05" font-size="8.0" textLength="20.80" lengthAdjust="spacingAndGlyphs">TRPM2</text>
<text x="121.20" y="100.25" font-size="8.0" textLength="13.80" lengthAdjust="spacingAndGlyphs">FJX1</text>
<text x="120.10" y="107.85" font-size="8.0" textLength="21.30" lengthAdjust="spacingAndGlyphs">GPR85</text>
<text x="93.00" y="111.85" font-size="8.0" textLength="20.70" lengthAdjust="spacingAndGlyphs">BLACE</text>
<text x="122.40" y="26.87" font-size="6.6" textLength="3.20" lengthAdjust="spacingAndGlyphs">4</text>
<text x="126.80" y="126.07" font-size="6.6" text-anchor="end" textLength="6.80" lengthAdjust="spacingAndGlyphs">−6</text>
<text x="27.60" y="77.47" font-size="6.6" textLength="6.80" lengthAdjust="spacingAndGlyphs">−4</text>
<text x="178.90" y="75.17" font-size="6.6" textLength="4.20" lengthAdjust="spacingAndGlyphs">2</text>
<text x="148.50" y="27.20" font-size="6.7" textLength="31.50" lengthAdjust="spacingAndGlyphs">KASUMI-1</text>
<text x="39.75" y="25.10" font-size="6.4" fill="#4fae4a" textLength="51.20" lengthAdjust="spacingAndGlyphs">pearson r = 0.12</text>
<text x="39.75" y="33.2" font-size="6.6" fill="#4fae4a" textLength="28.3" lengthAdjust="spacingAndGlyphs"><tspan font-style="italic">P</tspan> &lt; .0001</text>
<text x="51.00" y="135.50" font-size="8.7" textLength="126.50" lengthAdjust="spacingAndGlyphs">BRD4 binding difference DMSO vs BETi</text>
<text x="0" y="0" font-size="8.7" transform="translate(22.20,105.00) rotate(-90)" textLength="66.00" lengthAdjust="spacingAndGlyphs">Log2 FC nucRNASeq</text>
<line x1="218.00" y1="73.20" x2="366.00" y2="73.20" stroke="#231f20" stroke-width="1.1" />
<line x1="218.00" y1="73.20" x2="218.00" y2="77.20" stroke="#231f20" stroke-width="1.1" />
<line x1="366.00" y1="73.20" x2="366.00" y2="77.20" stroke="#231f20" stroke-width="1.1" />
<line x1="328.80" y1="24.20" x2="328.80" y2="122.50" stroke="#231f20" stroke-width="1.1" />
<line x1="325.00" y1="24.20" x2="328.80" y2="24.20" stroke="#231f20" stroke-width="1.1" />
<line x1="325.00" y1="122.50" x2="328.80" y2="122.50" stroke="#231f20" stroke-width="1.1" />
<line x1="249.60" y1="78.30" x2="351.00" y2="72.20" stroke="#4fae4a" stroke-width="1.6" />
<circle cx="304.0" cy="54.8" r="0.6" fill="#56667c"/>
<circle cx="333.9" cy="63.3" r="0.6" fill="#56667c"/>
<circle cx="291.3" cy="79.7" r="0.6" fill="#56667c"/>
<circle cx="321.4" cy="67.7" r="0.6" fill="#56667c"/>
<circle cx="317.3" cy="90.8" r="0.6" fill="#56667c"/>
<circle cx="324.7" cy="72.9" r="0.6" fill="#56667c"/>
<circle cx="318.8" cy="64.2" r="0.6" fill="#56667c"/>
<circle cx="317.5" cy="72.6" r="0.6" fill="#8f86b8"/>
<circle cx="318.9" cy="82.1" r="0.6" fill="#8f86b8"/>
<circle cx="323.3" cy="63.1" r="0.6" fill="#8f86b8"/>
<circle cx="300.9" cy="66.5" r="0.6" fill="#56667c"/>
<circle cx="332.7" cy="63.7" r="0.6" fill="#8f86b8"/>
<circle cx="324.3" cy="64.2" r="0.6" fill="#56667c"/>
<circle cx="320.1" cy="79.3" r="0.6" fill="#56667c"/>
<circle cx="312.3" cy="91.3" r="0.6" fill="#56667c"/>
<circle cx="312.6" cy="59.8" r="0.6" fill="#56667c"/>
<circle cx="322.3" cy="56.4" r="0.6" fill="#56667c"/>
<circle cx="299.9" cy="74.8" r="0.6" fill="#56667c"/>
<circle cx="319.3" cy="71.5" r="0.6" fill="#56667c"/>
<circle cx="318.2" cy="69.6" r="0.6" fill="#56667c"/>
<circle cx="307.4" cy="86.7" r="0.6" fill="#56667c"/>
<circle cx="323.7" cy="74.7" r="0.6" fill="#8f86b8"/>
<circle cx="323.1" cy="95.8" r="0.6" fill="#8f86b8"/>
<circle cx="326.4" cy="67.1" r="0.6" fill="#56667c"/>
<circle cx="298.2" cy="68.0" r="0.6" fill="#56667c"/>
<circle cx="316.8" cy="45.2" r="0.6" fill="#8f86b8"/>
<circle cx="308.8" cy="89.3" r="0.6" fill="#8f86b8"/>
<circle cx="303.6" cy="100.8" r="0.6" fill="#56667c"/>
<circle cx="313.3" cy="84.1" r="0.6" fill="#56667c"/>
<circle cx="322.5" cy="76.0" r="0.6" fill="#56667c"/>
<circle cx="323.5" cy="71.8" r="0.6" fill="#56667c"/>
<circle cx="330.5" cy="70.5" r="0.6" fill="#56667c"/>
<circle cx="318.2" cy="92.1" r="0.6" fill="#56667c"/>
<circle cx="305.9" cy="76.3" r="0.6" fill="#56667c"/>
<circle cx="319.5" cy="70.1" r="0.6" fill="#56667c"/>
<circle cx="320.1" cy="65.3" r="0.6" fill="#56667c"/>
<circle cx="331.8" cy="65.4" r="0.6" fill="#56667c"/>
<circle cx="326.2" cy="81.9" r="0.6" fill="#56667c"/>
<circle cx="322.2" cy="61.6" r="0.6" fill="#56667c"/>
<circle cx="338.5" cy="71.9" r="0.6" fill="#56667c"/>
<circle cx="299.3" cy="73.8" r="0.6" fill="#56667c"/>
<circle cx="314.1" cy="86.8" r="0.6" fill="#56667c"/>
<circle cx="293.5" cy="103.3" r="0.6" fill="#8f86b8"/>
<circle cx="308.0" cy="59.4" r="0.6" fill="#56667c"/>
<circle cx="324.4" cy="78.4" r="0.6" fill="#56667c"/>
<circle cx="324.0" cy="61.5" r="0.6" fill="#56667c"/>
<circle cx="319.6" cy="49.2" r="0.6" fill="#56667c"/>
<circle cx="317.6" cy="57.8" r="0.6" fill="#56667c"/>
<circle cx="314.6" cy="89.0" r="0.6" fill="#56667c"/>
<circle cx="313.7" cy="60.3" r="0.6" fill="#8f86b8"/>
<circle cx="308.5" cy="56.0" r="0.6" fill="#56667c"/>
<circle cx="309.0" cy="68.7" r="0.6" fill="#56667c"/>
<circle cx="297.3" cy="78.4" r="0.6" fill="#56667c"/>
<circle cx="320.0" cy="58.7" r="0.6" fill="#56667c"/>
<circle cx="315.4" cy="43.9" r="0.6" fill="#56667c"/>
<circle cx="329.2" cy="46.7" r="0.6" fill="#56667c"/>
<circle cx="310.5" cy="70.3" r="0.6" fill="#56667c"/>
<circle cx="328.6" cy="65.5" r="0.6" fill="#56667c"/>
<circle cx="313.6" cy="48.2" r="0.6" fill="#56667c"/>
<circle cx="319.8" cy="52.6" r="0.6" fill="#56667c"/>
<circle cx="303.5" cy="82.0" r="0.6" fill="#56667c"/>
<circle cx="305.5" cy="53.9" r="0.6" fill="#56667c"/>
<circle cx="323.4" cy="85.7" r="0.6" fill="#56667c"/>
<circle cx="320.2" cy="94.4" r="0.6" fill="#56667c"/>
<circle cx="329.0" cy="76.4" r="0.6" fill="#56667c"/>
<circle cx="322.6" cy="74.7" r="0.6" fill="#56667c"/>
<circle cx="320.0" cy="80.9" r="0.6" fill="#56667c"/>
<circle cx="306.5" cy="75.2" r="0.6" fill="#56667c"/>
<circle cx="310.2" cy="66.1" r="0.6" fill="#8f86b8"/>
<circle cx="328.2" cy="72.1" r="0.6" fill="#56667c"/>
<circle cx="312.4" cy="76.0" r="0.6" fill="#56667c"/>
<circle cx="314.9" cy="74.9" r="0.6" fill="#56667c"/>
<circle cx="328.4" cy="82.6" r="0.6" fill="#56667c"/>
<circle cx="292.8" cy="53.6" r="0.6" fill="#56667c"/>
<circle cx="299.4" cy="85.4" r="0.6" fill="#56667c"/>
<circle cx="312.8" cy="78.1" r="0.6" fill="#56667c"/>
<circle cx="291.6" cy="57.3" r="0.6" fill="#8f86b8"/>
<circle cx="309.1" cy="63.2" r="0.6" fill="#8f86b8"/>
<circle cx="322.3" cy="72.0" r="0.6" fill="#56667c"/>
<circle cx="312.5" cy="66.5" r="0.6" fill="#56667c"/>
<circle cx="325.3" cy="62.8" r="0.6" fill="#56667c"/>
<circle cx="318.4" cy="84.3" r="0.6" fill="#8f86b8"/>
<circle cx="296.6" cy="98.2" r="0.6" fill="#8f86b8"/>
<circle cx="310.0" cy="65.4" r="0.6" fill="#8f86b8"/>
<circle cx="305.6" cy="72.4" r="0.6" fill="#56667c"/>
<circle cx="329.7" cy="70.3" r="0.6" fill="#56667c"/>
<circle cx="311.5" cy="73.1" r="0.6" fill="#56667c"/>
<circle cx="308.4" cy="76.3" r="0.6" fill="#56667c"/>
<circle cx="317.8" cy="69.8" r="0.6" fill="#56667c"/>
<circle cx="313.2" cy="106.7" r="0.6" fill="#56667c"/>
<circle cx="317.2" cy="83.8" r="0.6" fill="#56667c"/>
<circle cx="326.1" cy="71.1" r="0.6" fill="#56667c"/>
<circle cx="301.4" cy="75.4" r="0.6" fill="#56667c"/>
<circle cx="316.8" cy="64.5" r="0.6" fill="#56667c"/>
<circle cx="312.7" cy="89.6" r="0.6" fill="#56667c"/>
<circle cx="313.1" cy="89.6" r="0.6" fill="#56667c"/>
<circle cx="305.3" cy="91.0" r="0.6" fill="#56667c"/>
<circle cx="325.2" cy="74.6" r="0.6" fill="#56667c"/>
<circle cx="301.6" cy="61.2" r="0.6" fill="#56667c"/>
<circle cx="292.9" cy="75.8" r="0.6" fill="#56667c"/>
<circle cx="300.3" cy="90.4" r="0.6" fill="#56667c"/>
<circle cx="311.0" cy="99.0" r="0.6" fill="#56667c"/>
<circle cx="325.7" cy="52.2" r="0.6" fill="#56667c"/>
<circle cx="312.7" cy="97.5" r="0.6" fill="#8f86b8"/>
<circle cx="324.8" cy="85.4" r="0.6" fill="#56667c"/>
<circle cx="307.1" cy="72.2" r="0.6" fill="#56667c"/>
<circle cx="299.7" cy="57.9" r="0.6" fill="#56667c"/>
<circle cx="319.5" cy="99.5" r="0.6" fill="#56667c"/>
<circle cx="315.7" cy="69.1" r="0.6" fill="#56667c"/>
<circle cx="300.5" cy="42.7" r="0.6" fill="#56667c"/>
<circle cx="323.1" cy="81.3" r="0.6" fill="#8f86b8"/>
<circle cx="325.9" cy="88.6" r="0.6" fill="#56667c"/>
<circle cx="325.1" cy="89.8" r="0.6" fill="#56667c"/>
<circle cx="325.4" cy="81.2" r="0.6" fill="#56667c"/>
<circle cx="330.5" cy="78.9" r="0.6" fill="#56667c"/>
<circle cx="321.3" cy="66.4" r="0.6" fill="#56667c"/>
<circle cx="311.1" cy="90.7" r="0.6" fill="#56667c"/>
<circle cx="326.9" cy="66.5" r="0.6" fill="#56667c"/>
<circle cx="315.0" cy="63.9" r="0.6" fill="#56667c"/>
<circle cx="292.9" cy="70.8" r="0.6" fill="#56667c"/>
<circle cx="310.8" cy="63.9" r="0.6" fill="#56667c"/>
<circle cx="316.5" cy="97.0" r="0.6" fill="#56667c"/>
<circle cx="322.4" cy="80.2" r="0.6" fill="#56667c"/>
<circle cx="316.4" cy="62.6" r="0.6" fill="#56667c"/>
<circle cx="314.4" cy="66.8" r="0.6" fill="#56667c"/>
<circle cx="321.8" cy="76.2" r="0.6" fill="#56667c"/>
<circle cx="318.6" cy="102.6" r="0.6" fill="#56667c"/>
<circle cx="308.3" cy="96.0" r="0.6" fill="#56667c"/>
<circle cx="316.4" cy="67.1" r="0.6" fill="#56667c"/>
<circle cx="332.9" cy="65.3" r="0.6" fill="#56667c"/>
<circle cx="339.0" cy="98.8" r="0.6" fill="#56667c"/>
<circle cx="326.8" cy="88.2" r="0.6" fill="#56667c"/>
<circle cx="317.9" cy="85.4" r="0.6" fill="#56667c"/>
<circle cx="310.7" cy="84.1" r="0.6" fill="#56667c"/>
<circle cx="324.8" cy="53.1" r="0.6" fill="#56667c"/>
<circle cx="297.4" cy="83.9" r="0.6" fill="#56667c"/>
<circle cx="305.0" cy="61.2" r="0.6" fill="#56667c"/>
<circle cx="313.1" cy="76.1" r="0.6" fill="#56667c"/>
<circle cx="317.9" cy="76.1" r="0.6" fill="#8f86b8"/>
<circle cx="298.5" cy="75.0" r="0.6" fill="#56667c"/>
<circle cx="294.3" cy="77.9" r="0.6" fill="#56667c"/>
<circle cx="305.9" cy="79.3" r="0.6" fill="#56667c"/>
<circle cx="320.7" cy="79.3" r="0.6" fill="#56667c"/>
<circle cx="299.9" cy="92.3" r="0.6" fill="#56667c"/>
<circle cx="316.8" cy="84.1" r="0.6" fill="#56667c"/>
<circle cx="315.1" cy="82.7" r="0.6" fill="#56667c"/>
<circle cx="332.5" cy="63.3" r="0.6" fill="#56667c"/>
<circle cx="290.9" cy="78.4" r="0.6" fill="#56667c"/>
<circle cx="312.5" cy="61.2" r="0.6" fill="#56667c"/>
<circle cx="316.1" cy="63.1" r="0.6" fill="#56667c"/>
<circle cx="324.9" cy="73.7" r="0.6" fill="#56667c"/>
<circle cx="292.9" cy="95.5" r="0.6" fill="#56667c"/>
<circle cx="312.3" cy="87.6" r="0.6" fill="#56667c"/>
<circle cx="315.1" cy="48.3" r="0.6" fill="#56667c"/>
<circle cx="318.0" cy="94.4" r="0.6" fill="#8f86b8"/>
<circle cx="309.9" cy="59.4" r="0.6" fill="#8f86b8"/>
<circle cx="320.9" cy="72.2" r="0.6" fill="#56667c"/>
<circle cx="314.2" cy="74.4" r="0.6" fill="#56667c"/>
<circle cx="330.3" cy="70.8" r="0.6" fill="#56667c"/>
<circle cx="320.5" cy="75.2" r="0.6" fill="#8f86b8"/>
<circle cx="291.3" cy="74.0" r="0.6" fill="#56667c"/>
<circle cx="317.1" cy="76.8" r="0.6" fill="#56667c"/>
<circle cx="324.9" cy="76.3" r="0.6" fill="#56667c"/>
<circle cx="315.8" cy="76.6" r="0.6" fill="#56667c"/>
<circle cx="323.8" cy="70.3" r="0.6" fill="#56667c"/>
<circle cx="305.9" cy="82.6" r="0.6" fill="#56667c"/>
<circle cx="314.9" cy="78.6" r="0.6" fill="#56667c"/>
<circle cx="330.1" cy="62.4" r="0.6" fill="#8f86b8"/>
<circle cx="317.5" cy="74.7" r="0.6" fill="#56667c"/>
<circle cx="302.7" cy="73.6" r="0.6" fill="#56667c"/>
<circle cx="304.5" cy="54.9" r="0.6" fill="#8f86b8"/>
<circle cx="312.7" cy="87.3" r="0.6" fill="#56667c"/>
<circle cx="317.9" cy="79.3" r="0.6" fill="#56667c"/>
<circle cx="333.1" cy="85.5" r="0.6" fill="#56667c"/>
<circle cx="320.1" cy="76.5" r="0.6" fill="#56667c"/>
<circle cx="327.0" cy="80.0" r="0.6" fill="#56667c"/>
<circle cx="317.1" cy="77.3" r="0.6" fill="#56667c"/>
<circle cx="324.0" cy="75.0" r="0.6" fill="#56667c"/>
<circle cx="313.5" cy="76.9" r="0.6" fill="#56667c"/>
<circle cx="309.8" cy="95.1" r="0.6" fill="#56667c"/>
<circle cx="329.7" cy="58.7" r="0.6" fill="#56667c"/>
<circle cx="306.4" cy="64.7" r="0.6" fill="#56667c"/>
<circle cx="301.7" cy="41.1" r="0.6" fill="#56667c"/>
<circle cx="314.4" cy="60.7" r="0.6" fill="#56667c"/>
<circle cx="312.7" cy="77.3" r="0.6" fill="#56667c"/>
<circle cx="321.2" cy="82.2" r="0.6" fill="#56667c"/>
<circle cx="316.1" cy="77.3" r="0.6" fill="#56667c"/>
<circle cx="314.6" cy="70.8" r="0.6" fill="#56667c"/>
<circle cx="324.1" cy="82.3" r="0.6" fill="#8f86b8"/>
<circle cx="331.4" cy="65.5" r="0.6" fill="#56667c"/>
<circle cx="307.6" cy="78.1" r="0.6" fill="#56667c"/>
<circle cx="331.5" cy="73.6" r="0.6" fill="#56667c"/>
<circle cx="316.3" cy="65.4" r="0.6" fill="#56667c"/>
<circle cx="325.2" cy="92.8" r="0.6" fill="#56667c"/>
<circle cx="307.0" cy="102.4" r="0.6" fill="#56667c"/>
<circle cx="306.1" cy="78.5" r="0.6" fill="#56667c"/>
<circle cx="329.5" cy="64.8" r="0.6" fill="#8f86b8"/>
<circle cx="312.8" cy="68.0" r="0.6" fill="#56667c"/>
<circle cx="313.8" cy="74.4" r="0.6" fill="#8f86b8"/>
<circle cx="331.1" cy="76.0" r="0.6" fill="#56667c"/>
<circle cx="325.1" cy="61.9" r="0.6" fill="#56667c"/>
<circle cx="315.8" cy="81.9" r="0.6" fill="#56667c"/>
<circle cx="305.6" cy="91.6" r="0.6" fill="#56667c"/>
<circle cx="312.0" cy="81.1" r="0.6" fill="#8f86b8"/>
<circle cx="328.5" cy="47.4" r="0.6" fill="#56667c"/>
<circle cx="312.0" cy="76.9" r="0.6" fill="#56667c"/>
<circle cx="314.0" cy="72.3" r="0.6" fill="#56667c"/>
<circle cx="331.2" cy="85.9" r="0.6" fill="#8f86b8"/>
<circle cx="323.2" cy="97.4" r="0.6" fill="#56667c"/>
<circle cx="308.0" cy="44.7" r="0.6" fill="#56667c"/>
<circle cx="320.3" cy="58.1" r="0.6" fill="#56667c"/>
<circle cx="302.4" cy="70.5" r="0.6" fill="#56667c"/>
<circle cx="309.6" cy="80.4" r="0.6" fill="#56667c"/>
<circle cx="312.9" cy="85.6" r="0.6" fill="#56667c"/>
<circle cx="313.8" cy="57.5" r="0.6" fill="#8f86b8"/>
<circle cx="327.0" cy="40.8" r="0.6" fill="#56667c"/>
<circle cx="310.4" cy="55.7" r="0.6" fill="#56667c"/>
<circle cx="307.4" cy="87.3" r="0.6" fill="#56667c"/>
<circle cx="308.1" cy="70.3" r="0.6" fill="#56667c"/>
<circle cx="325.8" cy="79.3" r="0.6" fill="#56667c"/>
<circle cx="318.1" cy="48.3" r="0.6" fill="#56667c"/>
<circle cx="325.0" cy="66.8" r="0.6" fill="#56667c"/>
<circle cx="333.6" cy="83.0" r="0.6" fill="#8f86b8"/>
<circle cx="330.4" cy="58.2" r="0.6" fill="#56667c"/>
<circle cx="315.9" cy="51.4" r="0.6" fill="#56667c"/>
<circle cx="293.7" cy="68.7" r="0.6" fill="#56667c"/>
<circle cx="330.6" cy="69.0" r="0.6" fill="#56667c"/>
<circle cx="327.9" cy="72.3" r="0.6" fill="#56667c"/>
<circle cx="303.5" cy="45.6" r="0.6" fill="#8f86b8"/>
<circle cx="308.8" cy="62.3" r="0.6" fill="#56667c"/>
<circle cx="311.8" cy="54.3" r="0.6" fill="#56667c"/>
<circle cx="300.9" cy="94.3" r="0.6" fill="#56667c"/>
<circle cx="314.0" cy="83.1" r="0.6" fill="#56667c"/>
<circle cx="322.3" cy="66.5" r="0.6" fill="#56667c"/>
<circle cx="317.8" cy="61.4" r="0.6" fill="#56667c"/>
<circle cx="298.0" cy="60.6" r="0.6" fill="#8f86b8"/>
<circle cx="315.4" cy="56.6" r="0.6" fill="#56667c"/>
<circle cx="293.5" cy="66.2" r="0.6" fill="#56667c"/>
<circle cx="314.1" cy="92.1" r="0.6" fill="#8f86b8"/>
<circle cx="318.1" cy="75.4" r="0.6" fill="#56667c"/>
<circle cx="303.2" cy="64.2" r="0.6" fill="#56667c"/>
<circle cx="322.4" cy="90.8" r="0.6" fill="#56667c"/>
<circle cx="310.5" cy="49.5" r="0.6" fill="#56667c"/>
<circle cx="296.2" cy="74.7" r="0.6" fill="#8f86b8"/>
<circle cx="308.1" cy="98.6" r="0.6" fill="#56667c"/>
<circle cx="324.1" cy="67.2" r="0.6" fill="#56667c"/>
<circle cx="323.8" cy="57.6" r="0.6" fill="#56667c"/>
<circle cx="319.2" cy="80.2" r="0.6" fill="#56667c"/>
<circle cx="325.8" cy="88.9" r="0.6" fill="#56667c"/>
<circle cx="317.9" cy="47.5" r="0.6" fill="#56667c"/>
<circle cx="322.8" cy="49.6" r="0.6" fill="#8f86b8"/>
<circle cx="331.8" cy="66.4" r="0.6" fill="#8f86b8"/>
<circle cx="321.1" cy="76.2" r="0.6" fill="#56667c"/>
<circle cx="319.9" cy="86.0" r="0.6" fill="#56667c"/>
<circle cx="309.3" cy="49.6" r="0.6" fill="#56667c"/>
<circle cx="305.7" cy="82.7" r="0.6" fill="#56667c"/>
<circle cx="328.0" cy="85.6" r="0.6" fill="#56667c"/>
<circle cx="311.8" cy="56.0" r="0.6" fill="#8f86b8"/>
<circle cx="321.0" cy="70.0" r="0.6" fill="#56667c"/>
<circle cx="315.3" cy="59.6" r="0.6" fill="#56667c"/>
<circle cx="306.8" cy="73.8" r="0.6" fill="#56667c"/>
<circle cx="326.4" cy="64.8" r="0.6" fill="#56667c"/>
<circle cx="300.0" cy="72.2" r="0.6" fill="#56667c"/>
<circle cx="308.8" cy="66.2" r="0.6" fill="#56667c"/>
<circle cx="324.7" cy="57.2" r="0.6" fill="#56667c"/>
<circle cx="309.9" cy="77.3" r="0.6" fill="#56667c"/>
<circle cx="324.8" cy="77.3" r="0.6" fill="#56667c"/>
<circle cx="285.5" cy="78.1" r="0.6" fill="#56667c"/>
<circle cx="297.6" cy="94.9" r="0.6" fill="#56667c"/>
<circle cx="304.6" cy="93.5" r="0.6" fill="#56667c"/>
<circle cx="318.0" cy="57.9" r="0.6" fill="#56667c"/>
<circle cx="316.9" cy="88.6" r="0.6" fill="#56667c"/>
<circle cx="313.4" cy="71.5" r="0.6" fill="#56667c"/>
<circle cx="328.7" cy="69.4" r="0.6" fill="#56667c"/>
<circle cx="324.7" cy="78.2" r="0.6" fill="#8f86b8"/>
<circle cx="312.0" cy="55.5" r="0.6" fill="#56667c"/>
<circle cx="302.1" cy="88.3" r="0.6" fill="#56667c"/>
<circle cx="297.3" cy="54.1" r="0.6" fill="#56667c"/>
<circle cx="315.0" cy="68.9" r="0.6" fill="#56667c"/>
<circle cx="318.4" cy="56.6" r="0.6" fill="#8f86b8"/>
<circle cx="328.2" cy="42.4" r="0.6" fill="#56667c"/>
<circle cx="335.5" cy="71.8" r="0.6" fill="#56667c"/>
<circle cx="319.2" cy="56.6" r="0.6" fill="#8f86b8"/>
<circle cx="324.7" cy="71.6" r="0.6" fill="#56667c"/>
<circle cx="315.4" cy="88.8" r="0.6" fill="#56667c"/>
<circle cx="314.2" cy="65.3" r="0.6" fill="#56667c"/>
<circle cx="312.8" cy="73.5" r="0.6" fill="#56667c"/>
<circle cx="337.5" cy="75.3" r="0.6" fill="#56667c"/>
<circle cx="322.3" cy="80.3" r="0.6" fill="#8f86b8"/>
<circle cx="319.6" cy="70.6" r="0.6" fill="#56667c"/>
<circle cx="309.2" cy="77.1" r="0.6" fill="#56667c"/>
<circle cx="303.7" cy="90.6" r="0.6" fill="#56667c"/>
<circle cx="287.3" cy="67.3" r="0.6" fill="#56667c"/>
<circle cx="321.5" cy="75.9" r="0.6" fill="#56667c"/>
<circle cx="309.5" cy="82.2" r="0.6" fill="#56667c"/>
<circle cx="292.1" cy="52.9" r="0.6" fill="#56667c"/>
<circle cx="309.2" cy="67.1" r="0.6" fill="#56667c"/>
<circle cx="316.3" cy="64.0" r="0.6" fill="#56667c"/>
<circle cx="316.6" cy="70.2" r="0.6" fill="#56667c"/>
<circle cx="305.6" cy="80.7" r="0.6" fill="#56667c"/>
<circle cx="318.0" cy="67.1" r="0.6" fill="#56667c"/>
<circle cx="327.5" cy="75.5" r="0.6" fill="#56667c"/>
<circle cx="326.2" cy="73.7" r="0.6" fill="#56667c"/>
<circle cx="302.9" cy="43.8" r="0.6" fill="#56667c"/>
<circle cx="299.9" cy="67.5" r="0.6" fill="#8f86b8"/>
<circle cx="329.8" cy="102.1" r="0.6" fill="#56667c"/>
<circle cx="300.0" cy="79.8" r="0.6" fill="#56667c"/>
<circle cx="297.9" cy="93.9" r="0.6" fill="#56667c"/>
<circle cx="297.4" cy="63.0" r="0.6" fill="#56667c"/>
<circle cx="309.4" cy="86.1" r="0.6" fill="#56667c"/>
<circle cx="320.2" cy="87.9" r="0.6" fill="#56667c"/>
<circle cx="325.6" cy="79.2" r="0.6" fill="#56667c"/>
<circle cx="325.4" cy="69.6" r="0.6" fill="#56667c"/>
<circle cx="320.8" cy="47.9" r="0.6" fill="#56667c"/>
<circle cx="324.4" cy="53.5" r="0.6" fill="#56667c"/>
<circle cx="311.3" cy="63.8" r="0.6" fill="#56667c"/>
<circle cx="325.4" cy="60.7" r="0.6" fill="#8f86b8"/>
<circle cx="319.6" cy="79.3" r="0.6" fill="#56667c"/>
<circle cx="316.1" cy="52.8" r="0.6" fill="#56667c"/>
<circle cx="319.2" cy="68.9" r="0.6" fill="#56667c"/>
<circle cx="330.0" cy="88.1" r="0.6" fill="#56667c"/>
<circle cx="311.1" cy="65.1" r="0.6" fill="#8f86b8"/>
<circle cx="320.1" cy="75.5" r="0.6" fill="#56667c"/>
<circle cx="320.4" cy="75.1" r="0.6" fill="#56667c"/>
<circle cx="303.2" cy="46.5" r="0.6" fill="#56667c"/>
<circle cx="331.3" cy="81.1" r="0.6" fill="#56667c"/>
<circle cx="330.4" cy="89.3" r="0.6" fill="#56667c"/>
<circle cx="316.8" cy="72.8" r="0.6" fill="#56667c"/>
<circle cx="293.4" cy="68.8" r="0.6" fill="#56667c"/>
<circle cx="321.3" cy="80.7" r="0.6" fill="#56667c"/>
<circle cx="324.0" cy="68.7" r="0.6" fill="#56667c"/>
<circle cx="314.3" cy="76.9" r="0.6" fill="#56667c"/>
<circle cx="305.5" cy="56.9" r="0.6" fill="#56667c"/>
<circle cx="325.2" cy="85.4" r="0.6" fill="#56667c"/>
<circle cx="303.4" cy="78.4" r="0.6" fill="#8f86b8"/>
<circle cx="322.3" cy="81.4" r="0.6" fill="#56667c"/>
<circle cx="294.0" cy="64.8" r="0.6" fill="#56667c"/>
<circle cx="311.0" cy="58.7" r="0.6" fill="#56667c"/>
<circle cx="321.7" cy="61.3" r="0.6" fill="#56667c"/>
<circle cx="316.4" cy="86.1" r="0.6" fill="#8f86b8"/>
<circle cx="315.6" cy="93.0" r="0.6" fill="#56667c"/>
<circle cx="322.3" cy="70.0" r="0.6" fill="#56667c"/>
<circle cx="314.4" cy="78.0" r="0.6" fill="#56667c"/>
<circle cx="325.1" cy="55.6" r="0.6" fill="#56667c"/>
<circle cx="327.7" cy="69.4" r="0.6" fill="#56667c"/>
<circle cx="315.6" cy="60.5" r="0.6" fill="#56667c"/>
<circle cx="314.6" cy="77.9" r="0.6" fill="#56667c"/>
<circle cx="314.7" cy="56.9" r="0.6" fill="#8f86b8"/>
<circle cx="325.6" cy="76.9" r="0.6" fill="#56667c"/>
<circle cx="335.2" cy="62.8" r="0.6" fill="#56667c"/>
<circle cx="326.1" cy="81.5" r="0.6" fill="#56667c"/>
<circle cx="331.0" cy="75.3" r="0.6" fill="#56667c"/>
<circle cx="327.3" cy="83.3" r="0.6" fill="#8f86b8"/>
<circle cx="328.6" cy="66.4" r="0.6" fill="#56667c"/>
<circle cx="317.6" cy="64.6" r="0.6" fill="#56667c"/>
<circle cx="308.9" cy="76.6" r="0.6" fill="#56667c"/>
<circle cx="328.5" cy="69.3" r="0.6" fill="#56667c"/>
<circle cx="292.5" cy="68.9" r="0.6" fill="#56667c"/>
<circle cx="300.6" cy="47.0" r="0.6" fill="#56667c"/>
<circle cx="322.0" cy="54.9" r="0.6" fill="#56667c"/>
<circle cx="294.0" cy="83.7" r="0.6" fill="#56667c"/>
<circle cx="308.0" cy="72.0" r="0.6" fill="#56667c"/>
<circle cx="316.5" cy="88.9" r="0.6" fill="#56667c"/>
<circle cx="312.3" cy="67.1" r="0.6" fill="#56667c"/>
<circle cx="311.0" cy="49.2" r="0.6" fill="#56667c"/>
<circle cx="322.9" cy="71.9" r="0.6" fill="#56667c"/>
<circle cx="327.1" cy="80.7" r="0.6" fill="#56667c"/>
<circle cx="321.1" cy="65.0" r="0.6" fill="#56667c"/>
<circle cx="328.4" cy="84.1" r="0.6" fill="#56667c"/>
<circle cx="314.8" cy="75.9" r="0.6" fill="#56667c"/>
<circle cx="330.4" cy="89.7" r="0.6" fill="#56667c"/>
<circle cx="303.8" cy="60.3" r="0.6" fill="#56667c"/>
<circle cx="305.7" cy="98.5" r="0.6" fill="#56667c"/>
<circle cx="307.0" cy="79.5" r="0.6" fill="#8f86b8"/>
<circle cx="328.1" cy="87.8" r="0.6" fill="#56667c"/>
<circle cx="316.9" cy="71.3" r="0.6" fill="#8f86b8"/>
<circle cx="308.8" cy="99.1" r="0.6" fill="#56667c"/>
<circle cx="298.6" cy="85.7" r="0.6" fill="#56667c"/>
<circle cx="307.5" cy="92.6" r="0.6" fill="#56667c"/>
<circle cx="313.4" cy="51.9" r="0.6" fill="#56667c"/>
<circle cx="323.9" cy="86.8" r="0.6" fill="#56667c"/>
<circle cx="321.8" cy="47.1" r="0.6" fill="#56667c"/>
<circle cx="330.1" cy="77.0" r="0.6" fill="#56667c"/>
<circle cx="322.4" cy="78.9" r="0.6" fill="#8f86b8"/>
<circle cx="321.9" cy="63.2" r="0.6" fill="#56667c"/>
<circle cx="310.7" cy="60.0" r="0.6" fill="#56667c"/>
<circle cx="318.2" cy="83.9" r="0.6" fill="#56667c"/>
<circle cx="309.0" cy="55.5" r="0.6" fill="#56667c"/>
<circle cx="305.3" cy="71.6" r="0.6" fill="#56667c"/>
<circle cx="316.0" cy="57.6" r="0.6" fill="#56667c"/>
<circle cx="317.6" cy="55.8" r="0.6" fill="#56667c"/>
<circle cx="324.9" cy="76.4" r="0.6" fill="#56667c"/>
<circle cx="319.3" cy="76.1" r="0.6" fill="#56667c"/>
<circle cx="317.5" cy="64.9" r="0.6" fill="#56667c"/>
<circle cx="298.6" cy="82.2" r="0.6" fill="#56667c"/>
<circle cx="314.6" cy="71.5" r="0.6" fill="#56667c"/>
<circle cx="318.7" cy="51.2" r="0.6" fill="#56667c"/>
<circle cx="303.8" cy="56.4" r="0.6" fill="#8f86b8"/>
<circle cx="315.4" cy="70.0" r="0.6" fill="#8f86b8"/>
<circle cx="324.4" cy="71.3" r="0.6" fill="#56667c"/>
<circle cx="314.3" cy="77.8" r="0.6" fill="#56667c"/>
<circle cx="323.6" cy="77.6" r="0.6" fill="#56667c"/>
<circle cx="308.6" cy="77.5" r="0.6" fill="#56667c"/>
<circle cx="311.9" cy="77.8" r="0.6" fill="#8f86b8"/>
<circle cx="330.3" cy="57.9" r="0.6" fill="#56667c"/>
<circle cx="307.1" cy="81.4" r="0.6" fill="#56667c"/>
<circle cx="329.0" cy="74.7" r="0.6" fill="#56667c"/>
<circle cx="309.4" cy="44.1" r="0.6" fill="#56667c"/>
<circle cx="318.8" cy="41.8" r="0.6" fill="#8f86b8"/>
<circle cx="320.0" cy="57.0" r="0.6" fill="#56667c"/>
<circle cx="304.6" cy="46.0" r="0.6" fill="#56667c"/>
<circle cx="310.3" cy="75.4" r="0.6" fill="#56667c"/>
<circle cx="317.0" cy="94.7" r="0.6" fill="#56667c"/>
<circle cx="321.8" cy="89.3" r="0.6" fill="#56667c"/>
<circle cx="313.7" cy="77.0" r="0.6" fill="#56667c"/>
<circle cx="313.0" cy="78.4" r="0.6" fill="#56667c"/>
<circle cx="323.2" cy="72.4" r="0.6" fill="#56667c"/>
<circle cx="318.0" cy="73.0" r="0.6" fill="#56667c"/>
<circle cx="321.0" cy="69.2" r="0.6" fill="#56667c"/>
<circle cx="320.8" cy="72.2" r="0.6" fill="#56667c"/>
<circle cx="317.5" cy="54.9" r="0.6" fill="#56667c"/>
<circle cx="293.5" cy="82.1" r="0.6" fill="#56667c"/>
<circle cx="310.5" cy="69.9" r="0.6" fill="#56667c"/>
<circle cx="298.0" cy="82.2" r="0.6" fill="#56667c"/>
<circle cx="311.4" cy="98.5" r="0.6" fill="#56667c"/>
<circle cx="309.5" cy="69.6" r="0.6" fill="#56667c"/>
<circle cx="312.9" cy="68.3" r="0.6" fill="#56667c"/>
<circle cx="308.9" cy="79.3" r="0.6" fill="#8f86b8"/>
<circle cx="318.7" cy="59.3" r="0.6" fill="#56667c"/>
<circle cx="326.5" cy="84.7" r="0.6" fill="#56667c"/>
<circle cx="301.5" cy="46.2" r="0.6" fill="#56667c"/>
<circle cx="329.8" cy="76.6" r="0.6" fill="#56667c"/>
<circle cx="311.1" cy="75.0" r="0.6" fill="#56667c"/>
<circle cx="313.0" cy="73.8" r="0.6" fill="#56667c"/>
<circle cx="317.4" cy="84.4" r="0.6" fill="#56667c"/>
<circle cx="308.7" cy="104.8" r="0.6" fill="#56667c"/>
<circle cx="325.3" cy="79.8" r="0.6" fill="#8f86b8"/>
<circle cx="325.6" cy="79.2" r="0.6" fill="#56667c"/>
<circle cx="311.9" cy="56.8" r="0.6" fill="#56667c"/>
<circle cx="323.4" cy="61.8" r="0.6" fill="#56667c"/>
<circle cx="295.7" cy="80.9" r="0.6" fill="#56667c"/>
<circle cx="318.2" cy="84.2" r="0.6" fill="#56667c"/>
<circle cx="322.7" cy="56.1" r="0.6" fill="#56667c"/>
<circle cx="295.7" cy="70.7" r="0.6" fill="#56667c"/>
<circle cx="301.7" cy="78.6" r="0.6" fill="#56667c"/>
<circle cx="307.4" cy="80.8" r="0.6" fill="#56667c"/>
<circle cx="296.0" cy="83.5" r="0.6" fill="#56667c"/>
<circle cx="307.1" cy="87.3" r="0.6" fill="#56667c"/>
<circle cx="322.4" cy="86.5" r="0.6" fill="#56667c"/>
<circle cx="322.1" cy="73.9" r="0.6" fill="#56667c"/>
<circle cx="320.4" cy="68.9" r="0.6" fill="#56667c"/>
<circle cx="310.7" cy="63.2" r="0.6" fill="#56667c"/>
<circle cx="328.9" cy="75.5" r="0.6" fill="#56667c"/>
<circle cx="308.6" cy="92.1" r="0.6" fill="#56667c"/>
<circle cx="329.8" cy="49.1" r="0.6" fill="#56667c"/>
<circle cx="321.0" cy="64.3" r="0.6" fill="#56667c"/>
<circle cx="310.5" cy="91.0" r="0.6" fill="#56667c"/>
<circle cx="325.0" cy="62.5" r="0.6" fill="#56667c"/>
<circle cx="316.7" cy="47.8" r="0.6" fill="#56667c"/>
<circle cx="315.8" cy="81.1" r="0.6" fill="#56667c"/>
<circle cx="327.1" cy="65.7" r="0.6" fill="#56667c"/>
<circle cx="308.4" cy="61.0" r="0.6" fill="#56667c"/>
<circle cx="308.3" cy="75.5" r="0.6" fill="#56667c"/>
<circle cx="323.7" cy="52.0" r="0.6" fill="#56667c"/>
<circle cx="302.5" cy="72.1" r="0.6" fill="#56667c"/>
<circle cx="332.5" cy="56.8" r="0.6" fill="#56667c"/>
<circle cx="309.0" cy="89.5" r="0.6" fill="#56667c"/>
<circle cx="320.1" cy="70.2" r="0.6" fill="#56667c"/>
<circle cx="315.0" cy="90.1" r="0.6" fill="#56667c"/>
<circle cx="322.3" cy="116.5" r="0.6" fill="#56667c"/>
<circle cx="319.2" cy="88.3" r="0.6" fill="#56667c"/>
<circle cx="322.2" cy="78.8" r="0.6" fill="#8f86b8"/>
<circle cx="313.9" cy="82.5" r="0.6" fill="#56667c"/>
<circle cx="344.8" cy="103.3" r="0.6" fill="#8f86b8"/>
<circle cx="326.9" cy="49.5" r="0.6" fill="#56667c"/>
<circle cx="321.2" cy="82.4" r="0.6" fill="#56667c"/>
<circle cx="324.9" cy="93.4" r="0.6" fill="#56667c"/>
<circle cx="326.4" cy="72.8" r="0.6" fill="#56667c"/>
<circle cx="327.5" cy="52.5" r="0.6" fill="#56667c"/>
<circle cx="328.9" cy="61.9" r="0.6" fill="#56667c"/>
<circle cx="309.0" cy="66.6" r="0.6" fill="#56667c"/>
<circle cx="316.2" cy="88.6" r="0.6" fill="#56667c"/>
<circle cx="324.3" cy="77.5" r="0.6" fill="#56667c"/>
<circle cx="329.2" cy="67.4" r="0.6" fill="#56667c"/>
<circle cx="316.5" cy="51.9" r="0.6" fill="#56667c"/>
<circle cx="309.5" cy="80.2" r="0.6" fill="#56667c"/>
<circle cx="328.9" cy="51.0" r="0.6" fill="#56667c"/>
<circle cx="317.9" cy="73.6" r="0.6" fill="#56667c"/>
<circle cx="317.2" cy="73.6" r="0.6" fill="#56667c"/>
<circle cx="318.0" cy="82.1" r="0.6" fill="#56667c"/>
<circle cx="309.3" cy="65.8" r="0.6" fill="#56667c"/>
<circle cx="323.7" cy="104.6" r="0.6" fill="#56667c"/>
<circle cx="302.6" cy="59.2" r="0.6" fill="#56667c"/>
<circle cx="294.8" cy="74.4" r="0.6" fill="#56667c"/>
<circle cx="315.4" cy="66.3" r="0.6" fill="#56667c"/>
<circle cx="303.5" cy="76.0" r="0.6" fill="#56667c"/>
<circle cx="316.5" cy="58.2" r="0.6" fill="#56667c"/>
<circle cx="296.2" cy="68.1" r="0.6" fill="#56667c"/>
<circle cx="303.0" cy="64.5" r="0.6" fill="#56667c"/>
<circle cx="313.6" cy="83.2" r="0.6" fill="#56667c"/>
<circle cx="304.3" cy="59.2" r="0.6" fill="#56667c"/>
<circle cx="303.7" cy="78.4" r="0.6" fill="#56667c"/>
<circle cx="307.8" cy="72.1" r="0.6" fill="#56667c"/>
<circle cx="316.2" cy="80.8" r="0.6" fill="#56667c"/>
<circle cx="320.8" cy="68.7" r="0.6" fill="#56667c"/>
<circle cx="311.8" cy="52.2" r="0.6" fill="#56667c"/>
<circle cx="318.2" cy="84.1" r="0.6" fill="#8f86b8"/>
<circle cx="309.1" cy="76.1" r="0.6" fill="#56667c"/>
<circle cx="310.8" cy="72.8" r="0.6" fill="#56667c"/>
<circle cx="314.7" cy="55.2" r="0.6" fill="#56667c"/>
<circle cx="320.5" cy="34.8" r="0.6" fill="#56667c"/>
<circle cx="329.5" cy="76.9" r="0.6" fill="#56667c"/>
<circle cx="308.9" cy="91.9" r="0.6" fill="#56667c"/>
<circle cx="305.7" cy="58.2" r="0.6" fill="#56667c"/>
<circle cx="332.4" cy="61.4" r="0.6" fill="#56667c"/>
<circle cx="314.7" cy="61.6" r="0.6" fill="#56667c"/>
<circle cx="314.2" cy="68.3" r="0.6" fill="#56667c"/>
<circle cx="318.9" cy="89.3" r="0.6" fill="#56667c"/>
<circle cx="313.7" cy="46.9" r="0.6" fill="#56667c"/>
<circle cx="328.1" cy="66.0" r="0.6" fill="#56667c"/>
<circle cx="326.7" cy="71.3" r="0.6" fill="#56667c"/>
<circle cx="321.4" cy="70.3" r="0.6" fill="#56667c"/>
<circle cx="309.1" cy="56.8" r="0.6" fill="#56667c"/>
<circle cx="320.9" cy="65.5" r="0.6" fill="#56667c"/>
<circle cx="304.2" cy="56.6" r="0.6" fill="#8f86b8"/>
<circle cx="323.7" cy="45.4" r="0.6" fill="#56667c"/>
<circle cx="295.2" cy="86.8" r="0.6" fill="#8f86b8"/>
<circle cx="317.4" cy="58.5" r="0.6" fill="#56667c"/>
<circle cx="301.0" cy="67.6" r="0.6" fill="#56667c"/>
<circle cx="328.5" cy="54.2" r="0.6" fill="#8f86b8"/>
<circle cx="304.2" cy="72.7" r="0.6" fill="#56667c"/>
<circle cx="313.8" cy="70.2" r="0.6" fill="#8f86b8"/>
<circle cx="311.6" cy="88.0" r="0.6" fill="#56667c"/>
<circle cx="326.3" cy="104.1" r="0.6" fill="#56667c"/>
<circle cx="311.0" cy="98.2" r="0.6" fill="#56667c"/>
<circle cx="309.9" cy="55.1" r="0.6" fill="#8f86b8"/>
<circle cx="307.3" cy="73.9" r="0.6" fill="#56667c"/>
<circle cx="316.9" cy="72.2" r="0.6" fill="#56667c"/>
<circle cx="322.7" cy="82.5" r="0.6" fill="#56667c"/>
<circle cx="326.6" cy="67.0" r="0.6" fill="#56667c"/>
<circle cx="312.8" cy="92.3" r="0.6" fill="#56667c"/>
<circle cx="326.9" cy="84.3" r="0.6" fill="#56667c"/>
<circle cx="328.9" cy="92.7" r="0.6" fill="#56667c"/>
<circle cx="299.6" cy="81.5" r="0.6" fill="#56667c"/>
<circle cx="323.7" cy="62.7" r="0.6" fill="#8f86b8"/>
<circle cx="325.5" cy="72.2" r="0.6" fill="#8f86b8"/>
<circle cx="313.2" cy="48.0" r="0.6" fill="#56667c"/>
<circle cx="326.4" cy="72.5" r="0.6" fill="#56667c"/>
<circle cx="330.9" cy="70.5" r="0.6" fill="#56667c"/>
<circle cx="327.1" cy="79.9" r="0.6" fill="#56667c"/>
<circle cx="307.9" cy="75.7" r="0.6" fill="#8f86b8"/>
<circle cx="307.7" cy="74.0" r="0.6" fill="#56667c"/>
<circle cx="317.4" cy="87.7" r="0.6" fill="#56667c"/>
<circle cx="307.3" cy="59.4" r="0.6" fill="#56667c"/>
<circle cx="310.7" cy="55.9" r="0.6" fill="#56667c"/>
<circle cx="318.6" cy="74.9" r="0.6" fill="#56667c"/>
<circle cx="315.7" cy="73.2" r="0.6" fill="#56667c"/>
<circle cx="312.8" cy="81.3" r="0.6" fill="#56667c"/>
<circle cx="309.5" cy="72.5" r="0.6" fill="#8f86b8"/>
<circle cx="312.9" cy="72.6" r="0.6" fill="#56667c"/>
<circle cx="328.2" cy="59.5" r="0.6" fill="#56667c"/>
<circle cx="316.2" cy="67.5" r="0.6" fill="#8f86b8"/>
<circle cx="332.0" cy="63.4" r="0.6" fill="#56667c"/>
<circle cx="298.3" cy="84.8" r="0.6" fill="#56667c"/>
<circle cx="319.0" cy="82.6" r="0.6" fill="#56667c"/>
<circle cx="310.1" cy="70.7" r="0.6" fill="#56667c"/>
<circle cx="318.3" cy="64.1" r="0.6" fill="#8f86b8"/>
<circle cx="325.4" cy="59.1" r="0.6" fill="#8f86b8"/>
<circle cx="308.0" cy="112.2" r="0.6" fill="#56667c"/>
<circle cx="335.6" cy="58.9" r="0.6" fill="#56667c"/>
<circle cx="325.0" cy="77.4" r="0.6" fill="#56667c"/>
<circle cx="331.0" cy="59.7" r="0.6" fill="#56667c"/>
<circle cx="311.2" cy="83.3" r="0.6" fill="#56667c"/>
<circle cx="319.1" cy="89.9" r="0.6" fill="#56667c"/>
<circle cx="315.8" cy="87.4" r="0.6" fill="#8f86b8"/>
<circle cx="301.9" cy="57.7" r="0.6" fill="#8f86b8"/>
<circle cx="323.0" cy="95.2" r="0.6" fill="#56667c"/>
<circle cx="307.6" cy="60.7" r="0.6" fill="#56667c"/>
<circle cx="310.5" cy="76.3" r="0.6" fill="#56667c"/>
<circle cx="319.3" cy="74.7" r="0.6" fill="#8f86b8"/>
<circle cx="326.7" cy="67.7" r="0.6" fill="#56667c"/>
<circle cx="313.5" cy="97.7" r="0.6" fill="#56667c"/>
<circle cx="327.9" cy="99.3" r="0.6" fill="#8f86b8"/>
<circle cx="328.7" cy="76.8" r="0.6" fill="#56667c"/>
<circle cx="310.3" cy="61.2" r="0.6" fill="#56667c"/>
<circle cx="312.1" cy="91.4" r="0.6" fill="#56667c"/>
<circle cx="300.4" cy="73.7" r="0.6" fill="#56667c"/>
<circle cx="328.2" cy="66.7" r="0.6" fill="#56667c"/>
<circle cx="330.9" cy="63.2" r="0.6" fill="#56667c"/>
<circle cx="321.3" cy="49.1" r="0.6" fill="#56667c"/>
<circle cx="311.4" cy="76.4" r="0.6" fill="#56667c"/>
<circle cx="313.2" cy="59.6" r="0.6" fill="#56667c"/>
<circle cx="319.3" cy="72.5" r="0.6" fill="#56667c"/>
<circle cx="309.6" cy="84.5" r="0.6" fill="#56667c"/>
<circle cx="331.3" cy="59.2" r="0.6" fill="#56667c"/>
<circle cx="324.0" cy="71.3" r="0.6" fill="#56667c"/>
<circle cx="311.4" cy="62.3" r="0.6" fill="#8f86b8"/>
<circle cx="303.7" cy="57.0" r="0.6" fill="#56667c"/>
<circle cx="321.5" cy="61.3" r="0.6" fill="#56667c"/>
<circle cx="316.2" cy="58.8" r="0.6" fill="#56667c"/>
<circle cx="302.3" cy="108.3" r="0.6" fill="#56667c"/>
<circle cx="303.1" cy="75.5" r="0.6" fill="#56667c"/>
<circle cx="316.7" cy="77.9" r="0.6" fill="#56667c"/>
<circle cx="304.1" cy="62.0" r="0.6" fill="#8f86b8"/>
<circle cx="301.4" cy="51.8" r="0.6" fill="#8f86b8"/>
<circle cx="305.5" cy="72.4" r="0.6" fill="#56667c"/>
<circle cx="304.1" cy="90.3" r="0.6" fill="#56667c"/>
<circle cx="316.9" cy="53.1" r="0.6" fill="#56667c"/>
<circle cx="312.2" cy="68.6" r="0.6" fill="#56667c"/>
<circle cx="315.8" cy="58.2" r="0.6" fill="#56667c"/>
<circle cx="324.3" cy="49.2" r="0.6" fill="#56667c"/>
<circle cx="312.6" cy="77.2" r="0.6" fill="#56667c"/>
<circle cx="320.5" cy="93.8" r="0.6" fill="#56667c"/>
<circle cx="316.9" cy="73.0" r="0.6" fill="#56667c"/>
<circle cx="320.7" cy="52.7" r="0.6" fill="#8f86b8"/>
<circle cx="319.4" cy="96.1" r="0.6" fill="#56667c"/>
<circle cx="308.8" cy="65.8" r="0.6" fill="#56667c"/>
<circle cx="302.6" cy="65.9" r="0.6" fill="#8f86b8"/>
<circle cx="306.7" cy="61.3" r="0.6" fill="#56667c"/>
<circle cx="309.2" cy="60.9" r="0.6" fill="#56667c"/>
<circle cx="312.5" cy="58.5" r="0.6" fill="#56667c"/>
<circle cx="322.0" cy="84.4" r="0.6" fill="#56667c"/>
<circle cx="309.9" cy="57.5" r="0.6" fill="#56667c"/>
<circle cx="312.3" cy="84.4" r="0.6" fill="#56667c"/>
<circle cx="312.0" cy="57.7" r="0.6" fill="#8f86b8"/>
<path d="M313,60 C317,56 329,56 333,62 C337,68 336,80 332,86 C329,90 321,91 315,88 C310,85 308,80 309,74 C309,68 310,63 313,60 Z" fill="#4f5d6e"/>
<circle cx="332.8" cy="75.4" r="0.65" fill="#52627a" opacity="0.7"/>
<circle cx="330.8" cy="58.4" r="0.65" fill="#52627a" opacity="0.7"/>
<circle cx="326.7" cy="89.8" r="0.65" fill="#52627a" opacity="0.7"/>
<circle cx="307.8" cy="69.0" r="0.65" fill="#52627a" opacity="0.7"/>
<circle cx="316.2" cy="87.4" r="0.65" fill="#52627a" opacity="0.7"/>
<circle cx="312.6" cy="57.5" r="0.65" fill="#52627a" opacity="0.7"/>
<circle cx="317.0" cy="83.6" r="0.65" fill="#52627a" opacity="0.7"/>
<circle cx="330.8" cy="84.7" r="0.65" fill="#52627a" opacity="0.7"/>
<circle cx="334.5" cy="80.9" r="0.65" fill="#52627a" opacity="0.7"/>
<circle cx="326.0" cy="79.9" r="0.65" fill="#52627a" opacity="0.7"/>
<circle cx="332.1" cy="68.6" r="0.65" fill="#52627a" opacity="0.7"/>
<circle cx="322.3" cy="61.2" r="0.65" fill="#52627a" opacity="0.7"/>
<circle cx="322.4" cy="85.1" r="0.65" fill="#52627a" opacity="0.7"/>
<circle cx="328.5" cy="72.1" r="0.65" fill="#52627a" opacity="0.7"/>
<circle cx="333.7" cy="62.4" r="0.65" fill="#52627a" opacity="0.7"/>
<circle cx="318.7" cy="63.7" r="0.65" fill="#52627a" opacity="0.7"/>
<circle cx="320.3" cy="54.1" r="0.65" fill="#52627a" opacity="0.7"/>
<circle cx="316.1" cy="67.8" r="0.65" fill="#52627a" opacity="0.7"/>
<circle cx="310.7" cy="60.5" r="0.65" fill="#52627a" opacity="0.7"/>
<circle cx="317.1" cy="68.8" r="0.65" fill="#52627a" opacity="0.7"/>
<circle cx="325.5" cy="88.2" r="0.65" fill="#52627a" opacity="0.7"/>
<circle cx="322.5" cy="73.2" r="0.65" fill="#52627a" opacity="0.7"/>
<circle cx="316.7" cy="80.2" r="0.65" fill="#52627a" opacity="0.7"/>
<circle cx="317.9" cy="73.2" r="0.65" fill="#52627a" opacity="0.7"/>
<circle cx="310.5" cy="67.0" r="0.65" fill="#52627a" opacity="0.7"/>
<circle cx="317.3" cy="86.9" r="0.65" fill="#52627a" opacity="0.7"/>
<circle cx="308.9" cy="70.0" r="0.65" fill="#52627a" opacity="0.7"/>
<circle cx="311.4" cy="65.6" r="0.65" fill="#52627a" opacity="0.7"/>
<circle cx="309.5" cy="65.9" r="0.65" fill="#52627a" opacity="0.7"/>
<circle cx="326.2" cy="76.8" r="0.65" fill="#52627a" opacity="0.7"/>
<circle cx="331.1" cy="59.4" r="0.65" fill="#52627a" opacity="0.7"/>
<circle cx="336.2" cy="74.0" r="0.65" fill="#52627a" opacity="0.7"/>
<circle cx="311.2" cy="61.3" r="0.65" fill="#52627a" opacity="0.7"/>
<circle cx="319.2" cy="61.3" r="0.65" fill="#52627a" opacity="0.7"/>
<circle cx="331.9" cy="84.5" r="0.65" fill="#52627a" opacity="0.7"/>
<circle cx="319.4" cy="59.7" r="0.65" fill="#52627a" opacity="0.7"/>
<circle cx="320.8" cy="85.0" r="0.65" fill="#52627a" opacity="0.7"/>
<circle cx="331.4" cy="67.7" r="0.65" fill="#52627a" opacity="0.7"/>
<circle cx="325.7" cy="92.2" r="0.65" fill="#52627a" opacity="0.7"/>
<circle cx="328.2" cy="71.9" r="0.65" fill="#52627a" opacity="0.7"/>
<circle cx="326.2" cy="89.1" r="0.65" fill="#52627a" opacity="0.7"/>
<circle cx="314.2" cy="82.0" r="0.65" fill="#52627a" opacity="0.7"/>
<circle cx="318.8" cy="63.4" r="0.65" fill="#52627a" opacity="0.7"/>
<circle cx="316.4" cy="67.9" r="0.65" fill="#52627a" opacity="0.7"/>
<circle cx="324.0" cy="87.5" r="0.65" fill="#52627a" opacity="0.7"/>
<circle cx="309.3" cy="81.3" r="0.65" fill="#52627a" opacity="0.7"/>
<circle cx="330.9" cy="88.0" r="0.65" fill="#52627a" opacity="0.7"/>
<circle cx="321.3" cy="84.7" r="0.65" fill="#52627a" opacity="0.7"/>
<circle cx="328.6" cy="80.0" r="0.65" fill="#52627a" opacity="0.7"/>
<circle cx="331.0" cy="71.6" r="0.65" fill="#52627a" opacity="0.7"/>
<circle cx="329.6" cy="56.0" r="0.65" fill="#52627a" opacity="0.7"/>
<circle cx="319.8" cy="64.9" r="0.65" fill="#52627a" opacity="0.7"/>
<circle cx="316.4" cy="76.4" r="0.65" fill="#52627a" opacity="0.7"/>
<circle cx="322.0" cy="84.6" r="0.65" fill="#52627a" opacity="0.7"/>
<circle cx="328.2" cy="87.2" r="0.65" fill="#52627a" opacity="0.7"/>
<circle cx="314.0" cy="71.5" r="0.65" fill="#52627a" opacity="0.7"/>
<circle cx="321.8" cy="80.5" r="0.65" fill="#52627a" opacity="0.7"/>
<circle cx="329.5" cy="81.7" r="0.65" fill="#52627a" opacity="0.7"/>
<circle cx="331.7" cy="79.6" r="0.65" fill="#52627a" opacity="0.7"/>
<circle cx="321.6" cy="90.6" r="0.65" fill="#52627a" opacity="0.7"/>
<circle cx="320.5" cy="91.4" r="0.65" fill="#52627a" opacity="0.7"/>
<circle cx="335.6" cy="66.5" r="0.65" fill="#52627a" opacity="0.7"/>
<circle cx="324.0" cy="92.1" r="0.65" fill="#52627a" opacity="0.7"/>
<circle cx="308.1" cy="76.3" r="0.65" fill="#52627a" opacity="0.7"/>
<circle cx="311.2" cy="76.3" r="0.65" fill="#52627a" opacity="0.7"/>
<circle cx="321.3" cy="90.4" r="0.65" fill="#52627a" opacity="0.7"/>
<circle cx="312.5" cy="86.9" r="0.65" fill="#52627a" opacity="0.7"/>
<circle cx="319.4" cy="60.4" r="0.65" fill="#52627a" opacity="0.7"/>
<circle cx="329.6" cy="75.0" r="0.65" fill="#52627a" opacity="0.7"/>
<circle cx="314.1" cy="79.0" r="0.65" fill="#52627a" opacity="0.7"/>
<circle cx="321.1" cy="72.3" r="0.65" fill="#52627a" opacity="0.7"/>
<circle cx="308.1" cy="76.8" r="0.65" fill="#52627a" opacity="0.7"/>
<circle cx="333.9" cy="68.2" r="0.65" fill="#52627a" opacity="0.7"/>
<circle cx="317.5" cy="58.7" r="0.65" fill="#52627a" opacity="0.7"/>
<circle cx="335.3" cy="72.9" r="0.65" fill="#52627a" opacity="0.7"/>
<circle cx="311.8" cy="76.5" r="0.65" fill="#52627a" opacity="0.7"/>
<circle cx="332.3" cy="67.5" r="0.65" fill="#52627a" opacity="0.7"/>
<circle cx="315.2" cy="66.6" r="0.65" fill="#52627a" opacity="0.7"/>
<circle cx="316.6" cy="61.0" r="0.65" fill="#52627a" opacity="0.7"/>
<circle cx="336.1" cy="66.0" r="0.65" fill="#52627a" opacity="0.7"/>
<circle cx="336.6" cy="72.5" r="0.65" fill="#52627a" opacity="0.7"/>
<circle cx="325.9" cy="74.5" r="0.65" fill="#52627a" opacity="0.7"/>
<circle cx="314.8" cy="88.4" r="0.65" fill="#52627a" opacity="0.7"/>
<circle cx="314.9" cy="69.4" r="0.65" fill="#52627a" opacity="0.7"/>
<circle cx="328.1" cy="78.9" r="0.65" fill="#52627a" opacity="0.7"/>
<circle cx="326.0" cy="78.4" r="0.65" fill="#52627a" opacity="0.7"/>
<circle cx="321.8" cy="64.2" r="0.65" fill="#52627a" opacity="0.7"/>
<circle cx="327.9" cy="86.6" r="0.65" fill="#52627a" opacity="0.7"/>
<circle cx="331.3" cy="86.3" r="0.65" fill="#52627a" opacity="0.7"/>
<circle cx="313.8" cy="57.8" r="0.65" fill="#52627a" opacity="0.7"/>
<circle cx="320.1" cy="56.1" r="0.65" fill="#52627a" opacity="0.7"/>
<circle cx="320.9" cy="85.9" r="0.65" fill="#52627a" opacity="0.7"/>
<circle cx="315.2" cy="81.6" r="0.65" fill="#52627a" opacity="0.7"/>
<circle cx="330.4" cy="66.1" r="0.65" fill="#52627a" opacity="0.7"/>
<circle cx="325.6" cy="57.9" r="0.65" fill="#52627a" opacity="0.7"/>
<circle cx="328.0" cy="77.6" r="0.65" fill="#52627a" opacity="0.7"/>
<circle cx="310.2" cy="64.7" r="0.65" fill="#52627a" opacity="0.7"/>
<circle cx="322.8" cy="82.9" r="0.65" fill="#52627a" opacity="0.7"/>
<circle cx="314.7" cy="82.5" r="0.65" fill="#52627a" opacity="0.7"/>
<circle cx="309.4" cy="82.3" r="0.65" fill="#52627a" opacity="0.7"/>
<circle cx="315.8" cy="66.4" r="0.65" fill="#52627a" opacity="0.7"/>
<circle cx="316.0" cy="84.8" r="0.65" fill="#52627a" opacity="0.7"/>
<circle cx="327.0" cy="83.6" r="0.65" fill="#52627a" opacity="0.7"/>
<circle cx="333.2" cy="79.4" r="0.65" fill="#52627a" opacity="0.7"/>
<circle cx="331.6" cy="59.0" r="0.65" fill="#52627a" opacity="0.7"/>
<circle cx="314.4" cy="65.9" r="0.65" fill="#52627a" opacity="0.7"/>
<circle cx="311.6" cy="67.5" r="0.65" fill="#52627a" opacity="0.7"/>
<circle cx="326.9" cy="86.2" r="0.65" fill="#52627a" opacity="0.7"/>
<circle cx="315.3" cy="73.2" r="0.65" fill="#52627a" opacity="0.7"/>
<circle cx="309.2" cy="79.4" r="0.65" fill="#52627a" opacity="0.7"/>
<circle cx="316.6" cy="64.1" r="0.65" fill="#52627a" opacity="0.7"/>
<circle cx="322.9" cy="88.8" r="0.65" fill="#52627a" opacity="0.7"/>
<circle cx="314.3" cy="69.4" r="0.65" fill="#52627a" opacity="0.7"/>
<circle cx="312.6" cy="75.3" r="0.65" fill="#52627a" opacity="0.7"/>
<circle cx="312.2" cy="59.6" r="0.65" fill="#52627a" opacity="0.7"/>
<circle cx="314.3" cy="83.5" r="0.65" fill="#52627a" opacity="0.7"/>
<circle cx="310.7" cy="66.8" r="0.65" fill="#52627a" opacity="0.7"/>
<circle cx="322.3" cy="82.9" r="0.65" fill="#52627a" opacity="0.7"/>
<circle cx="327.1" cy="69.4" r="0.65" fill="#52627a" opacity="0.7"/>
<circle cx="318.8" cy="63.7" r="0.65" fill="#52627a" opacity="0.7"/>
<circle cx="311.9" cy="73.7" r="0.65" fill="#52627a" opacity="0.7"/>
<circle cx="322.4" cy="81.4" r="0.65" fill="#52627a" opacity="0.7"/>
<circle cx="324.8" cy="72.0" r="0.65" fill="#52627a" opacity="0.7"/>
<circle cx="330.1" cy="86.4" r="0.65" fill="#52627a" opacity="0.7"/>
<circle cx="317.4" cy="79.4" r="0.65" fill="#52627a" opacity="0.7"/>
<circle cx="324.4" cy="53.5" r="0.65" fill="#52627a" opacity="0.7"/>
<circle cx="325.3" cy="89.2" r="0.65" fill="#52627a" opacity="0.7"/>
<circle cx="310.1" cy="85.1" r="0.65" fill="#52627a" opacity="0.7"/>
<circle cx="310.4" cy="62.2" r="0.65" fill="#52627a" opacity="0.7"/>
<circle cx="319.2" cy="66.8" r="0.65" fill="#52627a" opacity="0.7"/>
<circle cx="310.2" cy="79.0" r="0.65" fill="#52627a" opacity="0.7"/>
<circle cx="324.5" cy="77.9" r="0.65" fill="#52627a" opacity="0.7"/>
<circle cx="336.4" cy="71.9" r="0.65" fill="#52627a" opacity="0.7"/>
<circle cx="319.8" cy="68.9" r="0.65" fill="#52627a" opacity="0.7"/>
<circle cx="317.5" cy="54.0" r="0.65" fill="#52627a" opacity="0.7"/>
<circle cx="324.6" cy="56.4" r="0.65" fill="#52627a" opacity="0.7"/>
<circle cx="310.9" cy="78.9" r="0.65" fill="#52627a" opacity="0.7"/>
<circle cx="331.5" cy="66.7" r="0.65" fill="#52627a" opacity="0.7"/>
<circle cx="327.1" cy="76.4" r="0.65" fill="#52627a" opacity="0.7"/>
<circle cx="334.1" cy="68.0" r="0.65" fill="#52627a" opacity="0.7"/>
<circle cx="327.3" cy="70.0" r="0.65" fill="#52627a" opacity="0.7"/>
<circle cx="331.8" cy="83.2" r="0.65" fill="#52627a" opacity="0.7"/>
<circle cx="312.8" cy="78.9" r="0.65" fill="#52627a" opacity="0.7"/>
<circle cx="323.4" cy="90.4" r="0.65" fill="#52627a" opacity="0.7"/>
<circle cx="324.5" cy="56.3" r="0.65" fill="#52627a" opacity="0.7"/>
<circle cx="312.5" cy="79.0" r="0.65" fill="#52627a" opacity="0.7"/>
<circle cx="313.9" cy="81.3" r="0.65" fill="#52627a" opacity="0.7"/>
<circle cx="317.3" cy="85.2" r="0.65" fill="#52627a" opacity="0.7"/>
<circle cx="335.1" cy="68.8" r="0.65" fill="#52627a" opacity="0.7"/>
<circle cx="330.1" cy="85.3" r="0.65" fill="#52627a" opacity="0.7"/>
<circle cx="325.7" cy="62.4" r="0.65" fill="#52627a" opacity="0.7"/>
<circle cx="333.1" cy="60.5" r="0.65" fill="#52627a" opacity="0.7"/>
<circle cx="332.7" cy="79.8" r="0.65" fill="#52627a" opacity="0.7"/>
<circle cx="314.5" cy="82.3" r="0.65" fill="#52627a" opacity="0.7"/>
<circle cx="308.7" cy="67.5" r="0.65" fill="#52627a" opacity="0.7"/>
<circle cx="312.4" cy="59.2" r="0.65" fill="#52627a" opacity="0.7"/>
<circle cx="322.1" cy="90.9" r="0.65" fill="#52627a" opacity="0.7"/>
<circle cx="317.0" cy="78.4" r="0.65" fill="#52627a" opacity="0.7"/>
<circle cx="325.7" cy="58.6" r="0.65" fill="#52627a" opacity="0.7"/>
<circle cx="324.2" cy="91.7" r="0.65" fill="#52627a" opacity="0.7"/>
<circle cx="309.7" cy="73.9" r="0.65" fill="#52627a" opacity="0.7"/>
<circle cx="330.5" cy="72.0" r="0.65" fill="#52627a" opacity="0.7"/>
<circle cx="311.3" cy="69.0" r="0.65" fill="#52627a" opacity="0.7"/>
<circle cx="319.6" cy="87.3" r="0.65" fill="#52627a" opacity="0.7"/>
<circle cx="334.2" cy="69.5" r="0.65" fill="#52627a" opacity="0.7"/>
<circle cx="320.8" cy="89.5" r="0.65" fill="#52627a" opacity="0.7"/>
<circle cx="315.2" cy="64.9" r="0.65" fill="#52627a" opacity="0.7"/>
<circle cx="317.6" cy="62.2" r="0.65" fill="#52627a" opacity="0.7"/>
<circle cx="323.8" cy="60.8" r="0.65" fill="#52627a" opacity="0.7"/>
<circle cx="325.7" cy="63.3" r="0.65" fill="#52627a" opacity="0.7"/>
<circle cx="326.1" cy="83.1" r="0.65" fill="#52627a" opacity="0.7"/>
<circle cx="331.9" cy="86.3" r="0.65" fill="#52627a" opacity="0.7"/>
<circle cx="331.7" cy="72.6" r="0.65" fill="#52627a" opacity="0.7"/>
<circle cx="322.9" cy="91.7" r="0.65" fill="#52627a" opacity="0.7"/>
<circle cx="326.4" cy="65.0" r="0.65" fill="#52627a" opacity="0.7"/>
<circle cx="318.4" cy="86.3" r="0.65" fill="#52627a" opacity="0.7"/>
<circle cx="326.6" cy="79.8" r="0.65" fill="#52627a" opacity="0.7"/>
<circle cx="317.9" cy="77.2" r="0.65" fill="#52627a" opacity="0.7"/>
<circle cx="329.2" cy="85.3" r="0.65" fill="#52627a" opacity="0.7"/>
<circle cx="317.5" cy="91.2" r="0.65" fill="#52627a" opacity="0.7"/>
<circle cx="333.9" cy="69.1" r="0.65" fill="#52627a" opacity="0.7"/>
<circle cx="320.0" cy="90.2" r="0.65" fill="#52627a" opacity="0.7"/>
<circle cx="314.6" cy="88.8" r="0.65" fill="#52627a" opacity="0.7"/>
<circle cx="310.9" cy="80.7" r="0.65" fill="#52627a" opacity="0.7"/>
<circle cx="322.1" cy="56.2" r="0.65" fill="#52627a" opacity="0.7"/>
<circle cx="322.1" cy="61.3" r="0.65" fill="#52627a" opacity="0.7"/>
<circle cx="327.3" cy="82.9" r="0.65" fill="#52627a" opacity="0.7"/>
<circle cx="324.8" cy="72.0" r="0.65" fill="#52627a" opacity="0.7"/>
<circle cx="320.3" cy="83.9" r="0.65" fill="#52627a" opacity="0.7"/>
<circle cx="309.0" cy="79.8" r="0.65" fill="#52627a" opacity="0.7"/>
<circle cx="324.3" cy="78.7" r="0.65" fill="#52627a" opacity="0.7"/>
<circle cx="330.7" cy="74.3" r="0.65" fill="#52627a" opacity="0.7"/>
<circle cx="320.5" cy="59.7" r="0.65" fill="#52627a" opacity="0.7"/>
<circle cx="315.5" cy="61.6" r="0.65" fill="#52627a" opacity="0.7"/>
<circle cx="315.9" cy="82.8" r="0.65" fill="#52627a" opacity="0.7"/>
<circle cx="336.2" cy="78.0" r="0.65" fill="#52627a" opacity="0.7"/>
<circle cx="321.5" cy="66.8" r="0.65" fill="#52627a" opacity="0.7"/>
<circle cx="325.9" cy="89.9" r="0.65" fill="#52627a" opacity="0.7"/>
<circle cx="309.0" cy="72.2" r="0.65" fill="#52627a" opacity="0.7"/>
<circle cx="322.1" cy="65.4" r="0.65" fill="#52627a" opacity="0.7"/>
<circle cx="325.0" cy="64.9" r="0.65" fill="#52627a" opacity="0.7"/>
<circle cx="330.4" cy="86.2" r="0.65" fill="#52627a" opacity="0.7"/>
<circle cx="325.3" cy="62.9" r="0.65" fill="#52627a" opacity="0.7"/>
<circle cx="312.3" cy="84.3" r="0.65" fill="#52627a" opacity="0.7"/>
<circle cx="319.3" cy="85.8" r="0.65" fill="#52627a" opacity="0.7"/>
<circle cx="327.4" cy="72.6" r="0.65" fill="#52627a" opacity="0.7"/>
<circle cx="335.2" cy="66.4" r="0.65" fill="#52627a" opacity="0.7"/>
<circle cx="329.4" cy="72.8" r="0.65" fill="#52627a" opacity="0.7"/>
<circle cx="325.2" cy="85.5" r="0.65" fill="#52627a" opacity="0.7"/>
<circle cx="328.9" cy="89.9" r="0.65" fill="#52627a" opacity="0.7"/>
<circle cx="309.6" cy="65.1" r="0.65" fill="#52627a" opacity="0.7"/>
<circle cx="311.4" cy="73.8" r="0.65" fill="#52627a" opacity="0.7"/>
<circle cx="327.1" cy="71.1" r="0.65" fill="#52627a" opacity="0.7"/>
<circle cx="324.1" cy="91.3" r="0.65" fill="#52627a" opacity="0.7"/>
<circle cx="310.8" cy="63.6" r="0.65" fill="#52627a" opacity="0.7"/>
<circle cx="335.2" cy="72.5" r="0.65" fill="#52627a" opacity="0.7"/>
<circle cx="312.0" cy="61.9" r="0.65" fill="#52627a" opacity="0.7"/>
<circle cx="315.1" cy="71.1" r="0.65" fill="#52627a" opacity="0.7"/>
<circle cx="315.4" cy="90.1" r="0.65" fill="#52627a" opacity="0.7"/>
<circle cx="319.3" cy="72.4" r="0.65" fill="#52627a" opacity="0.7"/>
<circle cx="312.6" cy="57.5" r="0.65" fill="#52627a" opacity="0.7"/>
<circle cx="314.6" cy="63.0" r="0.65" fill="#52627a" opacity="0.7"/>
<circle cx="310.5" cy="77.3" r="0.65" fill="#52627a" opacity="0.7"/>
<circle cx="314.1" cy="63.8" r="0.65" fill="#52627a" opacity="0.7"/>
<circle cx="333.6" cy="62.3" r="0.65" fill="#52627a" opacity="0.7"/>
<circle cx="324.6" cy="56.3" r="0.65" fill="#52627a" opacity="0.7"/>
<circle cx="320.7" cy="64.3" r="0.65" fill="#52627a" opacity="0.7"/>
<circle cx="314.3" cy="73.6" r="0.65" fill="#52627a" opacity="0.7"/>
<circle cx="326.1" cy="91.7" r="0.65" fill="#52627a" opacity="0.7"/>
<circle cx="323.6" cy="90.9" r="0.65" fill="#52627a" opacity="0.7"/>
<circle cx="326.8" cy="62.0" r="0.65" fill="#52627a" opacity="0.7"/>
<circle cx="328.2" cy="74.3" r="0.65" fill="#52627a" opacity="0.7"/>
<circle cx="314.3" cy="59.7" r="0.65" fill="#52627a" opacity="0.7"/>
<circle cx="314.9" cy="85.2" r="0.65" fill="#52627a" opacity="0.7"/>
<circle cx="328.3" cy="86.9" r="0.65" fill="#52627a" opacity="0.7"/>
<circle cx="324.6" cy="55.7" r="0.65" fill="#52627a" opacity="0.7"/>
<circle cx="311.5" cy="67.2" r="0.65" fill="#52627a" opacity="0.7"/>
<circle cx="329.7" cy="73.1" r="0.65" fill="#52627a" opacity="0.7"/>
<circle cx="318.6" cy="76.0" r="0.65" fill="#52627a" opacity="0.7"/>
<circle cx="335.1" cy="81.7" r="0.65" fill="#52627a" opacity="0.7"/>
<circle cx="317.4" cy="59.3" r="0.65" fill="#52627a" opacity="0.7"/>
<circle cx="316.8" cy="55.7" r="0.65" fill="#52627a" opacity="0.7"/>
<circle cx="315.5" cy="63.2" r="0.65" fill="#52627a" opacity="0.7"/>
<circle cx="310.5" cy="85.3" r="0.65" fill="#52627a" opacity="0.7"/>
<circle cx="327.6" cy="70.8" r="0.65" fill="#52627a" opacity="0.7"/>
<circle cx="327.0" cy="58.4" r="0.65" fill="#52627a" opacity="0.7"/>
<circle cx="315.1" cy="86.9" r="0.65" fill="#52627a" opacity="0.7"/>
<circle cx="320.0" cy="90.1" r="0.65" fill="#52627a" opacity="0.7"/>
<circle cx="311.3" cy="67.5" r="0.65" fill="#52627a" opacity="0.7"/>
<circle cx="335.4" cy="79.6" r="0.65" fill="#52627a" opacity="0.7"/>
<circle cx="334.6" cy="68.2" r="0.65" fill="#52627a" opacity="0.7"/>
<circle cx="318.6" cy="89.4" r="0.65" fill="#52627a" opacity="0.7"/>
<circle cx="330.3" cy="82.9" r="0.65" fill="#52627a" opacity="0.7"/>
<circle cx="316.2" cy="84.3" r="0.65" fill="#52627a" opacity="0.7"/>
<circle cx="321.0" cy="78.2" r="0.65" fill="#52627a" opacity="0.7"/>
<circle cx="315.3" cy="76.9" r="0.65" fill="#52627a" opacity="0.7"/>
<circle cx="325.9" cy="83.3" r="0.65" fill="#52627a" opacity="0.7"/>
<circle cx="323.6" cy="75.1" r="0.65" fill="#52627a" opacity="0.7"/>
<circle cx="325.5" cy="72.2" r="0.65" fill="#52627a" opacity="0.7"/>
<circle cx="329.6" cy="64.9" r="0.65" fill="#52627a" opacity="0.7"/>
<circle cx="329.1" cy="82.0" r="0.65" fill="#52627a" opacity="0.7"/>
<circle cx="318.5" cy="72.8" r="0.65" fill="#52627a" opacity="0.7"/>
<circle cx="320.8" cy="72.5" r="0.65" fill="#52627a" opacity="0.7"/>
<circle cx="318.2" cy="89.1" r="0.65" fill="#52627a" opacity="0.7"/>
<circle cx="325.5" cy="66.0" r="0.65" fill="#52627a" opacity="0.7"/>
<circle cx="309.8" cy="83.8" r="0.65" fill="#52627a" opacity="0.7"/>
<circle cx="320.0" cy="79.3" r="0.65" fill="#52627a" opacity="0.7"/>
<circle cx="322.3" cy="91.6" r="0.65" fill="#52627a" opacity="0.7"/>
<circle cx="315.1" cy="86.5" r="0.65" fill="#52627a" opacity="0.7"/>
<circle cx="332.9" cy="67.0" r="0.65" fill="#52627a" opacity="0.7"/>
<circle cx="325.4" cy="86.1" r="0.65" fill="#52627a" opacity="0.7"/>
<circle cx="317.3" cy="85.3" r="0.65" fill="#52627a" opacity="0.7"/>
<circle cx="310.9" cy="59.9" r="0.65" fill="#52627a" opacity="0.7"/>
<circle cx="318.0" cy="59.8" r="0.65" fill="#52627a" opacity="0.7"/>
<circle cx="326.0" cy="59.8" r="0.65" fill="#52627a" opacity="0.7"/>
<circle cx="326.3" cy="88.3" r="0.65" fill="#52627a" opacity="0.7"/>
<circle cx="321.1" cy="82.1" r="0.65" fill="#52627a" opacity="0.7"/>
<circle cx="314.0" cy="82.0" r="0.65" fill="#52627a" opacity="0.7"/>
<circle cx="330.8" cy="75.4" r="0.65" fill="#52627a" opacity="0.7"/>
<circle cx="332.4" cy="69.5" r="0.65" fill="#52627a" opacity="0.7"/>
<circle cx="315.2" cy="83.0" r="0.65" fill="#52627a" opacity="0.7"/>
<circle cx="318.6" cy="59.6" r="0.65" fill="#52627a" opacity="0.7"/>
<circle cx="312.5" cy="81.6" r="0.65" fill="#52627a" opacity="0.7"/>
<circle cx="320.0" cy="89.3" r="0.65" fill="#52627a" opacity="0.7"/>
<circle cx="310.8" cy="80.7" r="0.65" fill="#52627a" opacity="0.7"/>
<circle cx="315.1" cy="86.0" r="0.65" fill="#52627a" opacity="0.7"/>
<circle cx="325.5" cy="86.1" r="0.65" fill="#52627a" opacity="0.7"/>
<circle cx="320.2" cy="73.1" r="0.65" fill="#52627a" opacity="0.7"/>
<circle cx="329.1" cy="82.7" r="0.65" fill="#52627a" opacity="0.7"/>
<circle cx="323.3" cy="55.1" r="0.65" fill="#52627a" opacity="0.7"/>
<circle cx="329.5" cy="58.1" r="0.65" fill="#52627a" opacity="0.7"/>
<circle cx="328.5" cy="71.2" r="0.65" fill="#52627a" opacity="0.7"/>
<circle cx="325.3" cy="79.1" r="0.65" fill="#52627a" opacity="0.7"/>
<circle cx="323.7" cy="64.6" r="0.65" fill="#52627a" opacity="0.7"/>
<circle cx="319.7" cy="79.8" r="0.65" fill="#52627a" opacity="0.7"/>
<circle cx="327.8" cy="68.0" r="0.65" fill="#52627a" opacity="0.7"/>
<circle cx="323.1" cy="88.4" r="0.65" fill="#52627a" opacity="0.7"/>
<circle cx="321.1" cy="69.2" r="0.65" fill="#52627a" opacity="0.7"/>
<circle cx="312.4" cy="66.0" r="0.65" fill="#52627a" opacity="0.7"/>
<circle cx="311.8" cy="68.2" r="0.65" fill="#52627a" opacity="0.7"/>
<circle cx="326.0" cy="55.7" r="0.65" fill="#52627a" opacity="0.7"/>
<circle cx="327.5" cy="64.2" r="0.65" fill="#52627a" opacity="0.7"/>
<circle cx="331.9" cy="76.6" r="0.65" fill="#52627a" opacity="0.7"/>
<circle cx="333.8" cy="75.7" r="0.65" fill="#52627a" opacity="0.7"/>
<circle cx="309.1" cy="75.2" r="0.65" fill="#52627a" opacity="0.7"/>
<circle cx="328.4" cy="58.2" r="0.65" fill="#52627a" opacity="0.7"/>
<circle cx="319.0" cy="62.2" r="0.65" fill="#52627a" opacity="0.7"/>
<circle cx="320.2" cy="57.2" r="0.65" fill="#52627a" opacity="0.7"/>
<circle cx="324.7" cy="91.3" r="0.65" fill="#52627a" opacity="0.7"/>
<circle cx="311.2" cy="75.5" r="0.65" fill="#52627a" opacity="0.7"/>
<circle cx="326.4" cy="90.3" r="0.65" fill="#52627a" opacity="0.7"/>
<circle cx="309.3" cy="75.8" r="0.65" fill="#52627a" opacity="0.7"/>
<circle cx="327.9" cy="60.9" r="0.65" fill="#52627a" opacity="0.7"/>
<circle cx="313.2" cy="66.1" r="0.65" fill="#52627a" opacity="0.7"/>
<circle cx="323.0" cy="90.8" r="0.65" fill="#52627a" opacity="0.7"/>
<circle cx="324.5" cy="71.2" r="0.65" fill="#52627a" opacity="0.7"/>
<circle cx="332.1" cy="75.8" r="0.65" fill="#52627a" opacity="0.7"/>
<circle cx="330.7" cy="79.4" r="0.65" fill="#52627a" opacity="0.7"/>
<circle cx="318.0" cy="81.2" r="0.65" fill="#52627a" opacity="0.7"/>
<circle cx="323.8" cy="57.9" r="0.65" fill="#52627a" opacity="0.7"/>
<circle cx="327.8" cy="68.8" r="0.65" fill="#52627a" opacity="0.7"/>
<circle cx="313.4" cy="83.7" r="0.65" fill="#52627a" opacity="0.7"/>
<circle cx="323.4" cy="60.1" r="0.65" fill="#52627a" opacity="0.7"/>
<circle cx="325.6" cy="84.4" r="0.65" fill="#52627a" opacity="0.7"/>
<circle cx="308.6" cy="64.8" r="0.65" fill="#52627a" opacity="0.7"/>
<circle cx="314.0" cy="58.1" r="0.65" fill="#52627a" opacity="0.7"/>
<circle cx="326.9" cy="61.7" r="0.65" fill="#52627a" opacity="0.7"/>
<circle cx="308.3" cy="72.3" r="0.65" fill="#52627a" opacity="0.7"/>
<circle cx="320.4" cy="60.5" r="0.65" fill="#52627a" opacity="0.7"/>
<circle cx="326.8" cy="88.9" r="0.65" fill="#52627a" opacity="0.7"/>
<circle cx="320.0" cy="82.9" r="0.65" fill="#52627a" opacity="0.7"/>
<circle cx="321.9" cy="89.6" r="0.65" fill="#52627a" opacity="0.7"/>
<circle cx="313.2" cy="57.6" r="0.65" fill="#52627a" opacity="0.7"/>
<circle cx="313.2" cy="65.6" r="0.65" fill="#52627a" opacity="0.7"/>
<circle cx="326.2" cy="68.1" r="0.65" fill="#52627a" opacity="0.7"/>
<circle cx="309.4" cy="62.5" r="0.65" fill="#52627a" opacity="0.7"/>
<circle cx="319.1" cy="79.8" r="0.65" fill="#52627a" opacity="0.7"/>
<circle cx="323.9" cy="75.2" r="0.65" fill="#52627a" opacity="0.7"/>
<circle cx="320.9" cy="60.2" r="0.65" fill="#52627a" opacity="0.7"/>
<circle cx="327.9" cy="56.5" r="0.65" fill="#52627a" opacity="0.7"/>
<circle cx="330.2" cy="74.8" r="0.65" fill="#52627a" opacity="0.7"/>
<circle cx="321.3" cy="83.2" r="0.65" fill="#52627a" opacity="0.7"/>
<circle cx="329.5" cy="74.8" r="0.65" fill="#52627a" opacity="0.7"/>
<circle cx="316.6" cy="84.4" r="0.65" fill="#52627a" opacity="0.7"/>
<circle cx="307.4" cy="69.2" r="0.65" fill="#52627a" opacity="0.7"/>
<circle cx="326.3" cy="77.6" r="0.65" fill="#52627a" opacity="0.7"/>
<circle cx="328.6" cy="66.9" r="0.65" fill="#52627a" opacity="0.7"/>
<circle cx="314.0" cy="70.3" r="0.65" fill="#52627a" opacity="0.7"/>
<circle cx="333.5" cy="61.2" r="0.65" fill="#52627a" opacity="0.7"/>
<circle cx="317.8" cy="70.4" r="0.65" fill="#52627a" opacity="0.7"/>
<circle cx="313.3" cy="85.1" r="0.65" fill="#52627a" opacity="0.7"/>
<circle cx="314.7" cy="68.7" r="0.65" fill="#52627a" opacity="0.7"/>
<circle cx="319.0" cy="76.0" r="0.65" fill="#52627a" opacity="0.7"/>
<circle cx="310.8" cy="83.3" r="0.65" fill="#52627a" opacity="0.7"/>
<circle cx="314.2" cy="81.9" r="0.65" fill="#52627a" opacity="0.7"/>
<circle cx="328.3" cy="87.7" r="0.65" fill="#52627a" opacity="0.7"/>
<circle cx="313.9" cy="79.2" r="0.65" fill="#52627a" opacity="0.7"/>
<circle cx="323.2" cy="62.2" r="0.65" fill="#52627a" opacity="0.7"/>
<circle cx="332.6" cy="80.5" r="0.65" fill="#52627a" opacity="0.7"/>
<circle cx="321.7" cy="68.4" r="0.65" fill="#52627a" opacity="0.7"/>
<circle cx="314.1" cy="88.6" r="0.65" fill="#52627a" opacity="0.7"/>
<circle cx="312.4" cy="72.3" r="0.65" fill="#52627a" opacity="0.7"/>
<circle cx="327.5" cy="80.8" r="0.65" fill="#52627a" opacity="0.7"/>
<circle cx="309.7" cy="63.1" r="0.65" fill="#52627a" opacity="0.7"/>
<circle cx="314.3" cy="56.2" r="0.65" fill="#52627a" opacity="0.7"/>
<circle cx="318.7" cy="75.9" r="0.65" fill="#52627a" opacity="0.7"/>
<circle cx="317.1" cy="83.2" r="0.65" fill="#52627a" opacity="0.7"/>
<circle cx="326.0" cy="75.0" r="0.65" fill="#52627a" opacity="0.7"/>
<circle cx="334.0" cy="63.0" r="0.65" fill="#52627a" opacity="0.7"/>
<circle cx="324.9" cy="77.2" r="0.65" fill="#52627a" opacity="0.7"/>
<circle cx="328.1" cy="72.0" r="0.65" fill="#52627a" opacity="0.7"/>
<circle cx="319.7" cy="82.0" r="0.65" fill="#52627a" opacity="0.7"/>
<circle cx="322.7" cy="76.4" r="0.65" fill="#52627a" opacity="0.7"/>
<circle cx="309.2" cy="77.2" r="0.65" fill="#52627a" opacity="0.7"/>
<circle cx="331.5" cy="79.1" r="0.65" fill="#52627a" opacity="0.7"/>
<circle cx="331.0" cy="86.1" r="0.65" fill="#52627a" opacity="0.7"/>
<circle cx="333.6" cy="62.4" r="0.65" fill="#52627a" opacity="0.7"/>
<circle cx="316.5" cy="71.4" r="0.65" fill="#52627a" opacity="0.7"/>
<circle cx="321.2" cy="67.8" r="0.65" fill="#52627a" opacity="0.7"/>
<circle cx="323.3" cy="62.2" r="0.65" fill="#52627a" opacity="0.7"/>
<circle cx="328.2" cy="66.3" r="0.65" fill="#52627a" opacity="0.7"/>
<circle cx="321.3" cy="59.0" r="0.65" fill="#52627a" opacity="0.7"/>
<circle cx="322.7" cy="87.0" r="0.65" fill="#52627a" opacity="0.7"/>
<circle cx="316.6" cy="76.3" r="0.65" fill="#52627a" opacity="0.7"/>
<circle cx="311.5" cy="68.8" r="0.65" fill="#52627a" opacity="0.7"/>
<circle cx="319.3" cy="61.9" r="0.65" fill="#52627a" opacity="0.7"/>
<circle cx="317.0" cy="67.1" r="0.65" fill="#52627a" opacity="0.7"/>
<circle cx="314.7" cy="71.6" r="0.65" fill="#52627a" opacity="0.7"/>
<circle cx="323.5" cy="64.5" r="0.65" fill="#52627a" opacity="0.7"/>
<circle cx="321.0" cy="78.1" r="0.65" fill="#52627a" opacity="0.7"/>
<circle cx="318.6" cy="87.0" r="0.65" fill="#52627a" opacity="0.7"/>
<circle cx="322.7" cy="79.9" r="0.65" fill="#52627a" opacity="0.7"/>
<circle cx="328.5" cy="66.1" r="0.65" fill="#52627a" opacity="0.7"/>
<circle cx="324.0" cy="85.3" r="0.65" fill="#52627a" opacity="0.7"/>
<circle cx="329.0" cy="58.5" r="0.65" fill="#52627a" opacity="0.7"/>
<circle cx="331.1" cy="64.5" r="0.65" fill="#52627a" opacity="0.7"/>
<circle cx="316.6" cy="85.2" r="0.65" fill="#52627a" opacity="0.7"/>
<circle cx="333.6" cy="78.9" r="0.65" fill="#52627a" opacity="0.7"/>
<circle cx="329.6" cy="56.8" r="0.65" fill="#52627a" opacity="0.7"/>
<circle cx="327.8" cy="58.9" r="0.65" fill="#52627a" opacity="0.7"/>
<circle cx="324.7" cy="62.8" r="0.65" fill="#52627a" opacity="0.7"/>
<circle cx="316.4" cy="69.9" r="0.65" fill="#52627a" opacity="0.7"/>
<circle cx="331.9" cy="67.4" r="0.65" fill="#52627a" opacity="0.7"/>
<circle cx="328.6" cy="90.8" r="0.65" fill="#52627a" opacity="0.7"/>
<circle cx="317.0" cy="66.7" r="0.65" fill="#52627a" opacity="0.7"/>
<circle cx="328.7" cy="59.9" r="0.65" fill="#52627a" opacity="0.7"/>
<circle cx="311.9" cy="60.0" r="0.65" fill="#52627a" opacity="0.7"/>
<circle cx="318.8" cy="82.6" r="0.65" fill="#52627a" opacity="0.7"/>
<circle cx="315.9" cy="69.1" r="0.65" fill="#52627a" opacity="0.7"/>
<circle cx="318.7" cy="59.9" r="0.65" fill="#52627a" opacity="0.7"/>
<circle cx="323.6" cy="79.7" r="0.65" fill="#52627a" opacity="0.7"/>
<circle cx="328.0" cy="85.9" r="0.65" fill="#52627a" opacity="0.7"/>
<circle cx="333.5" cy="63.9" r="0.65" fill="#52627a" opacity="0.7"/>
<circle cx="328.5" cy="60.7" r="0.65" fill="#52627a" opacity="0.7"/>
<circle cx="324.7" cy="62.1" r="0.65" fill="#52627a" opacity="0.7"/>
<circle cx="312.4" cy="87.0" r="0.65" fill="#52627a" opacity="0.7"/>
<circle cx="321.4" cy="88.8" r="0.65" fill="#52627a" opacity="0.7"/>
<circle cx="318.9" cy="71.1" r="0.65" fill="#52627a" opacity="0.7"/>
<circle cx="309.8" cy="65.8" r="0.65" fill="#52627a" opacity="0.7"/>
<circle cx="329.4" cy="64.7" r="0.65" fill="#52627a" opacity="0.7"/>
<circle cx="324.4" cy="70.7" r="0.65" fill="#52627a" opacity="0.7"/>
<circle cx="332.3" cy="63.9" r="0.65" fill="#52627a" opacity="0.7"/>
<circle cx="325.7" cy="60.6" r="0.65" fill="#52627a" opacity="0.7"/>
<circle cx="310.4" cy="63.5" r="0.65" fill="#52627a" opacity="0.7"/>
<circle cx="323.1" cy="81.4" r="0.65" fill="#52627a" opacity="0.7"/>
<circle cx="322.3" cy="54.3" r="0.65" fill="#52627a" opacity="0.7"/>
<circle cx="323.6" cy="87.6" r="0.65" fill="#52627a" opacity="0.7"/>
<circle cx="313.6" cy="72.5" r="0.65" fill="#52627a" opacity="0.7"/>
<circle cx="326.4" cy="64.1" r="0.65" fill="#52627a" opacity="0.7"/>
<circle cx="323.8" cy="60.4" r="0.65" fill="#52627a" opacity="0.7"/>
<circle cx="330.9" cy="88.6" r="0.65" fill="#52627a" opacity="0.7"/>
<circle cx="324.9" cy="78.1" r="0.65" fill="#52627a" opacity="0.7"/>
<circle cx="330.7" cy="75.2" r="0.65" fill="#52627a" opacity="0.7"/>
<circle cx="327.8" cy="74.3" r="0.65" fill="#52627a" opacity="0.7"/>
<circle cx="329.1" cy="69.3" r="0.65" fill="#52627a" opacity="0.7"/>
<circle cx="320.5" cy="64.0" r="0.65" fill="#52627a" opacity="0.7"/>
<circle cx="323.3" cy="73.1" r="0.65" fill="#52627a" opacity="0.7"/>
<circle cx="332.6" cy="86.5" r="0.65" fill="#52627a" opacity="0.7"/>
<circle cx="314.8" cy="75.7" r="0.65" fill="#52627a" opacity="0.7"/>
<circle cx="333.5" cy="77.7" r="0.65" fill="#52627a" opacity="0.7"/>
<circle cx="319.4" cy="80.8" r="0.65" fill="#52627a" opacity="0.7"/>
<circle cx="310.3" cy="79.5" r="0.65" fill="#52627a" opacity="0.7"/>
<circle cx="315.9" cy="85.6" r="0.65" fill="#52627a" opacity="0.7"/>
<circle cx="326.2" cy="86.8" r="0.65" fill="#52627a" opacity="0.7"/>
<circle cx="335.9" cy="78.0" r="0.65" fill="#52627a" opacity="0.7"/>
<circle cx="332.2" cy="66.4" r="0.65" fill="#52627a" opacity="0.7"/>
<circle cx="312.7" cy="75.1" r="0.65" fill="#52627a" opacity="0.7"/>
<circle cx="321.9" cy="57.8" r="0.65" fill="#52627a" opacity="0.7"/>
<circle cx="319.5" cy="60.1" r="0.65" fill="#52627a" opacity="0.7"/>
<circle cx="311.7" cy="83.0" r="0.65" fill="#52627a" opacity="0.7"/>
<circle cx="325.7" cy="83.6" r="0.65" fill="#52627a" opacity="0.7"/>
<circle cx="322.4" cy="82.1" r="0.65" fill="#52627a" opacity="0.7"/>
<circle cx="327.5" cy="64.5" r="0.65" fill="#52627a" opacity="0.7"/>
<circle cx="321.7" cy="68.6" r="0.65" fill="#52627a" opacity="0.7"/>
<circle cx="331.1" cy="66.7" r="0.65" fill="#52627a" opacity="0.7"/>
<circle cx="321.8" cy="66.5" r="0.65" fill="#52627a" opacity="0.7"/>
<circle cx="311.2" cy="62.1" r="0.65" fill="#52627a" opacity="0.7"/>
<circle cx="320.9" cy="78.9" r="0.65" fill="#52627a" opacity="0.7"/>
<circle cx="312.2" cy="84.8" r="0.65" fill="#52627a" opacity="0.7"/>
<circle cx="322.3" cy="67.9" r="0.65" fill="#52627a" opacity="0.7"/>
<circle cx="315.6" cy="90.1" r="0.65" fill="#52627a" opacity="0.7"/>
<circle cx="320.9" cy="78.7" r="0.65" fill="#52627a" opacity="0.7"/>
<circle cx="331.2" cy="59.7" r="0.65" fill="#52627a" opacity="0.7"/>
<circle cx="310.2" cy="78.6" r="0.65" fill="#52627a" opacity="0.7"/>
<circle cx="322.1" cy="54.7" r="0.65" fill="#52627a" opacity="0.7"/>
<circle cx="326.8" cy="88.9" r="0.65" fill="#52627a" opacity="0.7"/>
<circle cx="333.8" cy="64.8" r="0.65" fill="#52627a" opacity="0.7"/>
<circle cx="312.7" cy="71.3" r="0.65" fill="#52627a" opacity="0.7"/>
<circle cx="336.8" cy="70.5" r="0.65" fill="#52627a" opacity="0.7"/>
<circle cx="325.6" cy="59.6" r="0.65" fill="#52627a" opacity="0.7"/>
<circle cx="333.0" cy="61.4" r="0.65" fill="#52627a" opacity="0.7"/>
<circle cx="316.6" cy="72.8" r="0.65" fill="#52627a" opacity="0.7"/>
<circle cx="317.8" cy="68.2" r="0.65" fill="#52627a" opacity="0.7"/>
<circle cx="316.3" cy="86.0" r="0.65" fill="#52627a" opacity="0.7"/>
<circle cx="310.0" cy="72.8" r="0.65" fill="#52627a" opacity="0.7"/>
<circle cx="328.3" cy="55.4" r="0.65" fill="#52627a" opacity="0.7"/>
<circle cx="316.6" cy="91.1" r="0.65" fill="#52627a" opacity="0.7"/>
<circle cx="318.1" cy="83.6" r="0.65" fill="#52627a" opacity="0.7"/>
<circle cx="322.6" cy="53.3" r="0.65" fill="#52627a" opacity="0.7"/>
<circle cx="308.6" cy="72.2" r="0.65" fill="#52627a" opacity="0.7"/>
<circle cx="325.9" cy="63.0" r="0.65" fill="#52627a" opacity="0.7"/>
<circle cx="311.2" cy="60.0" r="0.65" fill="#52627a" opacity="0.7"/>
<circle cx="327.2" cy="73.9" r="0.65" fill="#52627a" opacity="0.7"/>
<circle cx="329.9" cy="62.2" r="0.65" fill="#52627a" opacity="0.7"/>
<circle cx="310.3" cy="81.6" r="0.65" fill="#52627a" opacity="0.7"/>
<circle cx="316.8" cy="75.6" r="0.65" fill="#52627a" opacity="0.7"/>
<circle cx="314.3" cy="87.1" r="0.65" fill="#52627a" opacity="0.7"/>
<circle cx="315.4" cy="62.1" r="0.65" fill="#52627a" opacity="0.7"/>
<circle cx="336.9" cy="74.4" r="0.65" fill="#52627a" opacity="0.7"/>
<circle cx="329.0" cy="78.0" r="0.65" fill="#52627a" opacity="0.7"/>
<circle cx="325.6" cy="54.2" r="0.65" fill="#52627a" opacity="0.7"/>
<circle cx="318.5" cy="61.6" r="0.65" fill="#52627a" opacity="0.7"/>
<circle cx="321.7" cy="56.7" r="0.65" fill="#52627a" opacity="0.7"/>
<circle cx="310.3" cy="64.6" r="0.65" fill="#52627a" opacity="0.7"/>
<circle cx="311.6" cy="68.2" r="0.65" fill="#52627a" opacity="0.7"/>
<circle cx="321.3" cy="90.6" r="0.65" fill="#52627a" opacity="0.7"/>
<circle cx="325.6" cy="76.8" r="0.65" fill="#52627a" opacity="0.7"/>
<circle cx="319.8" cy="69.9" r="0.65" fill="#52627a" opacity="0.7"/>
<circle cx="326.6" cy="66.8" r="0.65" fill="#52627a" opacity="0.7"/>
<circle cx="314.5" cy="75.1" r="0.65" fill="#52627a" opacity="0.7"/>
<circle cx="276.00" cy="72.00" r="3.4" fill="#d21f2e"/>
<circle cx="276.00" cy="77.30" r="3.4" fill="#d21f2e"/>
<circle cx="287.50" cy="79.80" r="3.4" fill="#d21f2e"/>
<circle cx="295.50" cy="67.50" r="3.4" fill="#d21f2e"/>
<circle cx="300.00" cy="68.50" r="3.4" fill="#d21f2e"/>
<circle cx="303.00" cy="72.00" r="3.4" fill="#d21f2e"/>
<circle cx="302.90" cy="77.00" r="3.4" fill="#d21f2e"/>
<circle cx="308.70" cy="77.00" r="3.4" fill="#d21f2e"/>
<circle cx="313.80" cy="65.00" r="3.4" fill="#d21f2e"/>
<circle cx="297.70" cy="75.40" r="3.4" fill="#d21f2e"/>
<circle cx="294.00" cy="73.00" r="3.4" fill="#d21f2e"/>
<circle cx="306.00" cy="73.50" r="3.4" fill="#d21f2e"/>
<circle cx="311.00" cy="77.50" r="3.4" fill="#d21f2e"/>
<circle cx="297.00" cy="71.00" r="3.4" fill="#d21f2e"/>
<circle cx="300.80" cy="91.90" r="3.5" fill="#1b3f7c"/>
<circle cx="299.80" cy="98.10" r="3.5" fill="#1b3f7c"/>
<circle cx="310.90" cy="105.40" r="3.5" fill="#1b3f7c"/>
<circle cx="322.90" cy="96.50" r="3.5" fill="#1b3f7c"/>
<text x="308.70" y="60.75" font-size="8.0" textLength="29.80" lengthAdjust="spacingAndGlyphs">ST3GAL1</text>
<text x="281.00" y="63.95" font-size="8.0" textLength="22.80" lengthAdjust="spacingAndGlyphs">RUNX1</text>
<text x="281.00" y="69.75" font-size="8.0" textLength="9.40" lengthAdjust="spacingAndGlyphs">KIT</text>
<text x="257.30" y="72.35" font-size="8.0" textLength="13.70" lengthAdjust="spacingAndGlyphs">MYB</text>
<text x="278.80" y="76.75" font-size="8.0" textLength="14.50" lengthAdjust="spacingAndGlyphs">ETV6</text>
<text x="254.80" y="84.45" font-size="8.0" textLength="15.40" lengthAdjust="spacingAndGlyphs">MPO</text>
<text x="272.00" y="87.75" font-size="8.0" textLength="14.50" lengthAdjust="spacingAndGlyphs">MYC</text>
<text x="297.00" y="85.45" font-size="8.0" textLength="53.00" lengthAdjust="spacingAndGlyphs">PVT1 (MYC_enh)</text>
<text x="274.00" y="97.95" font-size="8.0" textLength="22.20" lengthAdjust="spacingAndGlyphs">GPR85</text>
<text x="282.70" y="105.65" font-size="8.0" textLength="14.30" lengthAdjust="spacingAndGlyphs">FJX1</text>
<text x="293.80" y="114.65" font-size="8.0" textLength="22.50" lengthAdjust="spacingAndGlyphs">TRPM2</text>
<text x="318.30" y="106.55" font-size="8.0" textLength="35.70" lengthAdjust="spacingAndGlyphs">ARHGAP22</text>
<text x="305.80" y="72.95" font-size="8.0" fill="#fff" font-weight="bold" textLength="16.20" lengthAdjust="spacingAndGlyphs">CDK6</text>
<text x="313.50" y="79.75" font-size="8.0" fill="#fff" font-weight="bold" textLength="14.50" lengthAdjust="spacingAndGlyphs">LYL1</text>
<text x="321.00" y="26.47" font-size="6.6" textLength="4.00" lengthAdjust="spacingAndGlyphs">6</text>
<text x="326.00" y="124.77" font-size="6.6" text-anchor="end" textLength="6.80" lengthAdjust="spacingAndGlyphs">−6</text>
<text x="213.50" y="84.27" font-size="6.6" textLength="6.80" lengthAdjust="spacingAndGlyphs">−3</text>
<text x="363.50" y="84.27" font-size="6.6" textLength="3.40" lengthAdjust="spacingAndGlyphs">1</text>
<text x="340.00" y="26.50" font-size="6.7" textLength="25.00" lengthAdjust="spacingAndGlyphs">SKNO-1</text>
<text x="225.00" y="31.50" font-size="6.4" fill="#4fae4a" textLength="52.00" lengthAdjust="spacingAndGlyphs">pearson r = 0.16</text>
<text x="225" y="39.5" font-size="6.6" fill="#4fae4a" textLength="28.3" lengthAdjust="spacingAndGlyphs"><tspan font-style="italic">P</tspan> &lt; .0001</text>
<text x="228.30" y="138.00" font-size="8.7" textLength="126.30" lengthAdjust="spacingAndGlyphs">BRD4 binding difference DMSO vs BETi</text>
<text x="0" y="0" font-size="8.7" transform="translate(207.80,102.40) rotate(-90)" textLength="58.50" lengthAdjust="spacingAndGlyphs">Log2 FC SLAMSeq</text>
<text x="7.80" y="173.31" font-size="7.3" fill="#3a3a3a" textLength="21.60" lengthAdjust="spacingAndGlyphs">[0 - 75]</text>
<text x="7.80" y="186.31" font-size="7.3" fill="#3a3a3a" textLength="21.60" lengthAdjust="spacingAndGlyphs">[0 - 75]</text>
<text x="7.80" y="200.91" font-size="7.3" fill="#3a3a3a" textLength="21.60" lengthAdjust="spacingAndGlyphs">[0 - 22]</text>
<text x="7.80" y="214.01" font-size="7.3" fill="#3a3a3a" textLength="21.60" lengthAdjust="spacingAndGlyphs">[0 - 22]</text>
<text x="488.70" y="173.31" font-size="7.3" fill="#3a3a3a" textLength="23.00" lengthAdjust="spacingAndGlyphs">[0 - 27]</text>
<text x="488.70" y="187.71" font-size="7.3" fill="#3a3a3a" textLength="23.00" lengthAdjust="spacingAndGlyphs">[0 - 27]</text>
<text x="488.70" y="201.51" font-size="7.3" fill="#3a3a3a" textLength="24.00" lengthAdjust="spacingAndGlyphs">[0 - 7.3]</text>
<text x="488.70" y="215.01" font-size="7.3" fill="#3a3a3a" textLength="24.00" lengthAdjust="spacingAndGlyphs">[0 - 7.3]</text>
<line x1="15.40" y1="176.30" x2="255.40" y2="176.30" stroke="#b9bfc8" stroke-width="0.9" />
<path d="M15.40,176.00 L15.40,176.00 L15.90,176.00 L16.40,176.00 L16.90,176.00 L17.40,176.00 L17.90,176.00 L18.40,176.00 L18.90,176.00 L19.40,176.00 L19.90,176.00 L20.40,176.00 L20.90,176.00 L21.40,176.00 L21.90,176.00 L22.40,176.00 L22.90,176.00 L23.40,176.00 L23.90,176.00 L24.40,176.00 L24.90,176.00 L25.40,176.00 L25.90,176.00 L26.40,176.00 L26.90,176.00 L27.40,176.00 L27.90,176.00 L28.40,176.00 L28.90,176.00 L29.40,176.00 L29.90,176.00 L30.40,176.00 L30.90,176.00 L31.40,176.00 L31.90,176.00 L32.40,176.00 L32.90,176.00 L33.40,176.00 L33.90,176.00 L34.40,176.00 L34.90,176.00 L35.40,176.00 L35.90,176.00 L36.40,176.00 L36.90,176.00 L37.40,176.00 L37.90,176.00 L38.40,176.00 L38.90,176.00 L39.40,176.00 L39.90,176.00 L40.40,176.00 L40.90,176.00 L41.40,176.00 L41.90,176.00 L42.40,176.00 L42.90,176.00 L43.40,176.00 L43.90,176.00 L44.40,176.00 L44.90,176.00 L45.40,176.00 L45.90,176.00 L46.40,176.00 L46.90,176.00 L47.40,176.00 L47.90,176.00 L48.40,176.00 L48.90,176.00 L49.40,176.00 L49.90,176.00 L50.40,176.00 L50.90,176.00 L51.40,176.00 L51.90,176.00 L52.40,176.00 L52.90,176.00 L53.40,176.00 L53.90,176.00 L54.40,176.00 L54.90,176.00 L55.40,176.00 L55.90,176.00 L56.40,176.00 L56.90,176.00 L57.40,175.99 L57.90,175.96 L58.40,175.89 L58.90,175.81 L59.40,175.63 L59.90,175.57 L60.40,175.66 L60.90,175.73 L61.40,175.85 L61.90,175.93 L62.40,175.98 L62.90,175.99 L63.40,176.00 L63.90,176.00 L64.40,176.00 L64.90,176.00 L65.40,176.00 L65.90,176.00 L66.40,176.00 L66.90,176.00 L67.40,176.00 L67.90,176.00 L68.40,176.00 L68.90,176.00 L69.40,176.00 L69.90,176.00 L70.40,176.00 L70.90,176.00 L71.40,176.00 L71.90,176.00 L72.40,176.00 L72.90,176.00 L73.40,176.00 L73.90,176.00 L74.40,176.00 L74.90,176.00 L75.40,176.00 L75.90,176.00 L76.40,176.00 L76.90,176.00 L77.40,175.98 L77.90,175.94 L78.40,175.86 L78.90,175.71 L79.40,175.55 L79.90,175.56 L80.40,175.60 L80.90,175.63 L81.40,175.82 L81.90,175.92 L82.40,175.97 L82.90,175.99 L83.40,176.00 L83.90,176.00 L84.40,176.00 L84.90,176.00 L85.40,176.00 L85.90,176.00 L86.40,176.00 L86.90,176.00 L87.40,176.00 L87.90,176.00 L88.40,176.00 L88.90,176.00 L89.40,176.00 L89.90,176.00 L90.40,176.00 L90.90,176.00 L91.40,176.00 L91.90,176.00 L92.40,176.00 L92.90,176.00 L93.40,176.00 L93.90,176.00 L94.40,176.00 L94.90,176.00 L95.40,176.00 L95.90,176.00 L96.40,176.00 L96.90,176.00 L97.40,176.00 L97.90,176.00 L98.40,176.00 L98.90,176.00 L99.40,176.00 L99.90,176.00 L100.40,176.00 L100.90,176.00 L101.40,176.00 L101.90,176.00 L102.40,176.00 L102.90,176.00 L103.40,176.00 L103.90,176.00 L104.40,176.00 L104.90,176.00 L105.40,176.00 L105.90,176.00 L106.40,176.00 L106.90,175.97 L107.40,175.78 L107.90,175.35 L108.40,174.60 L108.90,174.59 L109.40,175.43 L109.90,175.86 L110.40,175.98 L110.90,176.00 L111.40,176.00 L111.90,176.00 L112.40,176.00 L112.90,175.95 L113.40,175.87 L113.90,175.72 L114.40,175.58 L114.90,175.55 L115.40,175.40 L115.90,175.11 L116.40,174.79 L116.90,174.77 L117.40,174.63 L117.90,174.32 L118.40,174.31 L118.90,173.97 L119.40,173.57 L119.90,173.26 L120.40,173.22 L120.90,172.96 L121.40,172.70 L121.90,172.13 L122.40,172.04 L122.90,172.11 L123.40,170.63 L123.90,170.70 L124.40,170.21 L124.90,170.65 L125.40,168.81 L125.90,168.66 L126.40,169.80 L126.90,176.00 L127.40,176.00 L127.90,176.00 L128.40,176.00 L128.90,176.00 L129.40,176.00 L129.90,176.00 L130.40,176.00 L130.90,176.00 L131.40,176.00 L131.90,176.00 L132.40,176.00 L132.90,176.00 L133.40,176.00 L133.90,176.00 L134.40,176.00 L134.90,176.00 L135.40,176.00 L135.90,176.00 L136.40,176.00 L136.90,175.97 L137.40,175.36 L137.90,171.40 L138.40,167.49 L138.90,171.01 L139.40,174.37 L139.90,171.98 L140.40,170.85 L140.90,173.71 L141.40,175.54 L141.90,175.97 L142.40,176.00 L142.90,176.00 L143.40,176.00 L143.90,176.00 L144.40,176.00 L144.90,176.00 L145.40,176.00 L145.90,176.00 L146.40,176.00 L146.90,176.00 L147.40,175.99 L147.90,175.96 L148.40,175.89 L148.90,175.76 L149.40,175.63 L149.90,175.60 L150.40,175.62 L150.90,175.77 L151.40,175.86 L151.90,175.93 L152.40,175.98 L152.90,175.99 L153.40,176.00 L153.90,176.00 L154.40,176.00 L154.90,176.00 L155.40,176.00 L155.90,176.00 L156.40,176.00 L156.90,176.00 L157.40,176.00 L157.90,176.00 L158.40,176.00 L158.90,176.00 L159.40,176.00 L159.90,176.00 L160.40,176.00 L160.90,176.00 L161.40,176.00 L161.90,176.00 L162.40,175.98 L162.90,175.94 L163.40,175.86 L163.90,175.70 L164.40,175.59 L164.90,175.55 L165.40,175.53 L165.90,175.65 L166.40,175.80 L166.90,175.92 L167.40,175.97 L167.90,175.99 L168.40,176.00 L168.90,176.00 L169.40,176.00 L169.90,176.00 L170.40,176.00 L170.90,176.00 L171.40,176.00 L171.90,176.00 L172.40,176.00 L172.90,176.00 L173.40,176.00 L173.90,176.00 L174.40,175.99 L174.90,175.98 L175.40,175.97 L175.90,175.95 L176.40,175.92 L176.90,175.88 L177.40,175.83 L177.90,175.77 L178.40,175.71 L178.90,175.63 L179.40,175.62 L179.90,175.61 L180.40,175.61 L180.90,175.69 L181.40,175.73 L181.90,175.73 L182.40,175.78 L182.90,175.86 L183.40,175.91 L183.90,175.94 L184.40,175.96 L184.90,175.98 L185.40,175.99 L185.90,175.99 L186.40,176.00 L186.90,176.00 L187.40,175.99 L187.90,175.96 L188.40,175.89 L188.90,175.78 L189.40,175.68 L189.90,175.64 L190.40,175.63 L190.90,175.69 L191.40,175.84 L191.90,175.93 L192.40,175.98 L192.90,175.99 L193.40,176.00 L193.90,176.00 L194.40,175.99 L194.90,175.98 L195.40,175.97 L195.90,175.95 L196.40,175.92 L196.90,175.88 L197.40,175.83 L197.90,175.74 L198.40,175.73 L198.90,175.65 L199.40,175.57 L199.90,175.59 L200.40,175.61 L200.90,175.66 L201.40,175.68 L201.90,175.71 L202.40,175.83 L202.90,175.86 L203.40,175.91 L203.90,175.94 L204.40,175.96 L204.90,175.98 L205.40,175.99 L205.90,175.99 L206.40,176.00 L206.90,176.00 L207.40,176.00 L207.90,176.00 L208.40,176.00 L208.90,176.00 L209.40,176.00 L209.90,176.00 L210.40,176.00 L210.90,176.00 L211.40,176.00 L211.90,176.00 L212.40,176.00 L212.90,176.00 L213.40,176.00 L213.90,176.00 L214.40,176.00 L214.90,176.00 L215.40,176.00 L215.90,176.00 L216.40,176.00 L216.90,176.00 L217.40,176.00 L217.90,176.00 L218.40,176.00 L218.90,176.00 L219.40,176.00 L219.90,176.00 L220.40,175.98 L220.90,175.61 L221.40,172.80 L221.90,166.21 L222.40,165.61 L222.90,171.69 L223.40,175.41 L223.90,175.97 L224.40,176.00 L224.90,176.00 L225.40,176.00 L225.90,176.00 L226.40,176.00 L226.90,176.00 L227.40,176.00 L227.90,176.00 L228.40,176.00 L228.90,176.00 L229.40,176.00 L229.90,176.00 L230.40,176.00 L230.90,176.00 L231.40,176.00 L231.90,176.00 L232.40,176.00 L232.90,176.00 L233.40,176.00 L233.90,176.00 L234.40,175.97 L234.90,175.74 L235.40,174.64 L235.90,172.58 L236.40,169.40 L236.90,170.69 L237.40,172.77 L237.90,173.29 L238.40,173.90 L238.90,174.69 L239.40,175.34 L239.90,175.72 L240.40,175.91 L240.90,175.98 L241.40,176.00 L241.90,176.00 L242.40,175.98 L242.90,175.94 L243.40,175.86 L243.90,175.72 L244.40,175.57 L244.90,175.51 L245.40,175.60 L245.90,175.69 L246.40,175.83 L246.90,175.92 L247.40,175.97 L247.90,175.99 L248.40,176.00 L248.90,176.00 L249.40,176.00 L249.90,176.00 L250.40,176.00 L250.90,176.00 L251.40,176.00 L251.90,176.00 L252.40,176.00 L252.90,176.00 L253.40,176.00 L253.90,176.00 L254.40,176.00 L254.90,176.00 L255.40,176.00 L255.40,176.00 Z" fill="#1f5894"/>
<line x1="15.40" y1="189.50" x2="255.40" y2="189.50" stroke="#b9bfc8" stroke-width="0.9" />
<path d="M15.40,189.20 L15.40,189.20 L15.90,189.20 L16.40,189.20 L16.90,189.20 L17.40,189.20 L17.90,189.20 L18.40,189.20 L18.90,189.20 L19.40,189.20 L19.90,189.20 L20.40,189.20 L20.90,189.20 L21.40,189.20 L21.90,189.20 L22.40,189.20 L22.90,189.20 L23.40,189.20 L23.90,189.20 L24.40,189.20 L24.90,189.20 L25.40,189.20 L25.90,189.20 L26.40,189.20 L26.90,189.20 L27.40,189.20 L27.90,189.20 L28.40,189.20 L28.90,189.20 L29.40,189.20 L29.90,189.20 L30.40,189.20 L30.90,189.20 L31.40,189.20 L31.90,189.20 L32.40,189.20 L32.90,189.20 L33.40,189.20 L33.90,189.20 L34.40,189.20 L34.90,189.20 L35.40,189.20 L35.90,189.20 L36.40,189.20 L36.90,189.20 L37.40,189.20 L37.90,189.20 L38.40,189.20 L38.90,189.20 L39.40,189.20 L39.90,189.20 L40.40,189.20 L40.90,189.20 L41.40,189.20 L41.90,189.20 L42.40,189.20 L42.90,189.20 L43.40,189.20 L43.90,189.20 L44.40,189.20 L44.90,189.20 L45.40,189.20 L45.90,189.20 L46.40,189.20 L46.90,189.20 L47.40,189.20 L47.90,189.20 L48.40,189.20 L48.90,189.20 L49.40,189.20 L49.90,189.20 L50.40,189.20 L50.90,189.20 L51.40,189.20 L51.90,189.20 L52.40,189.20 L52.90,189.20 L53.40,189.20 L53.90,189.20 L54.40,189.20 L54.90,189.20 L55.40,189.20 L55.90,189.20 L56.40,189.20 L56.90,189.20 L57.40,189.20 L57.90,189.20 L58.40,189.20 L58.90,189.20 L59.40,189.20 L59.90,189.20 L60.40,189.20 L60.90,189.20 L61.40,189.20 L61.90,189.20 L62.40,189.20 L62.90,189.20 L63.40,189.20 L63.90,189.20 L64.40,189.20 L64.90,189.20 L65.40,189.20 L65.90,189.20 L66.40,189.20 L66.90,189.20 L67.40,189.20 L67.90,189.20 L68.40,189.20 L68.90,189.20 L69.40,189.20 L69.90,189.20 L70.40,189.20 L70.90,189.20 L71.40,189.20 L71.90,189.20 L72.40,189.20 L72.90,189.20 L73.40,189.20 L73.90,189.20 L74.40,189.20 L74.90,189.20 L75.40,189.20 L75.90,189.20 L76.40,189.20 L76.90,189.20 L77.40,189.20 L77.90,189.20 L78.40,189.20 L78.90,189.20 L79.40,189.20 L79.90,189.20 L80.40,189.20 L80.90,189.20 L81.40,189.20 L81.90,189.20 L82.40,189.20 L82.90,189.20 L83.40,189.20 L83.90,189.20 L84.40,189.20 L84.90,189.20 L85.40,189.20 L85.90,189.20 L86.40,189.20 L86.90,189.20 L87.40,189.20 L87.90,189.20 L88.40,189.20 L88.90,189.20 L89.40,189.20 L89.90,189.20 L90.40,189.20 L90.90,189.20 L91.40,189.20 L91.90,189.20 L92.40,189.20 L92.90,189.20 L93.40,189.20 L93.90,189.20 L94.40,189.20 L94.90,189.20 L95.40,189.20 L95.90,189.20 L96.40,189.20 L96.90,189.20 L97.40,189.20 L97.90,189.20 L98.40,189.20 L98.90,189.20 L99.40,189.20 L99.90,189.20 L100.40,189.20 L100.90,189.19 L101.40,189.19 L101.90,189.19 L102.40,189.19 L102.90,189.18 L103.40,189.18 L103.90,189.17 L104.40,189.17 L104.90,189.16 L105.40,189.15 L105.90,189.14 L106.40,189.12 L106.90,189.11 L107.40,189.09 L107.90,189.07 L108.40,189.00 L108.90,188.97 L109.40,189.05 L109.90,189.02 L110.40,188.87 L110.90,188.84 L111.40,188.81 L111.90,188.84 L112.40,188.72 L112.90,188.67 L113.40,188.63 L113.90,188.73 L114.40,188.58 L114.90,188.55 L115.40,188.35 L115.90,188.17 L116.40,188.14 L116.90,188.30 L117.40,188.32 L117.90,188.39 L118.40,188.50 L118.90,188.50 L119.40,188.23 L119.90,188.31 L120.40,188.27 L120.90,187.98 L121.40,188.21 L121.90,188.21 L122.40,188.42 L122.90,188.56 L123.40,188.44 L123.90,188.57 L124.40,188.43 L124.90,188.27 L125.40,188.46 L125.90,188.70 L126.40,188.50 L126.90,188.59 L127.40,188.67 L127.90,188.68 L128.40,188.77 L128.90,188.81 L129.40,188.93 L129.90,188.87 L130.40,188.92 L130.90,189.05 L131.40,189.01 L131.90,189.06 L132.40,189.08 L132.90,189.10 L133.40,189.12 L133.90,189.13 L134.40,189.14 L134.90,189.15 L135.40,189.16 L135.90,189.17 L136.40,189.17 L136.90,189.14 L137.40,188.80 L137.90,187.95 L138.40,186.78 L138.90,187.00 L139.40,187.90 L139.90,188.96 L140.40,189.17 L140.90,189.20 L141.40,189.20 L141.90,189.20 L142.40,189.20 L142.90,189.20 L143.40,189.20 L143.90,189.20 L144.40,189.20 L144.90,189.20 L145.40,189.20 L145.90,189.20 L146.40,189.20 L146.90,189.20 L147.40,189.20 L147.90,189.20 L148.40,189.20 L148.90,189.20 L149.40,189.20 L149.90,189.20 L150.40,189.20 L150.90,189.20 L151.40,189.20 L151.90,189.20 L152.40,189.20 L152.90,189.20 L153.40,189.20 L153.90,189.20 L154.40,189.20 L154.90,189.20 L155.40,189.20 L155.90,189.20 L156.40,189.20 L156.90,189.20 L157.40,189.20 L157.90,189.20 L158.40,189.20 L158.90,189.20 L159.40,189.20 L159.90,189.20 L160.40,189.20 L160.90,189.20 L161.40,189.20 L161.90,189.20 L162.40,189.20 L162.90,189.20 L163.40,189.20 L163.90,189.20 L164.40,189.20 L164.90,189.20 L165.40,189.20 L165.90,189.20 L166.40,189.20 L166.90,189.20 L167.40,189.20 L167.90,189.20 L168.40,189.20 L168.90,189.20 L169.40,189.20 L169.90,189.20 L170.40,189.20 L170.90,189.20 L171.40,189.20 L171.90,189.20 L172.40,189.20 L172.90,189.20 L173.40,189.20 L173.90,189.20 L174.40,189.20 L174.90,189.20 L175.40,189.20 L175.90,189.20 L176.40,189.20 L176.90,189.20 L177.40,189.20 L177.90,189.20 L178.40,189.20 L178.90,189.20 L179.40,189.20 L179.90,189.20 L180.40,189.20 L180.90,189.20 L181.40,189.20 L181.90,189.20 L182.40,189.20 L182.90,189.20 L183.40,189.20 L183.90,189.20 L184.40,189.20 L184.90,189.20 L185.40,189.20 L185.90,189.20 L186.40,189.20 L186.90,189.20 L187.40,189.20 L187.90,189.20 L188.40,189.20 L188.90,189.20 L189.40,189.20 L189.90,189.20 L190.40,189.20 L190.90,189.20 L191.40,189.20 L191.90,189.20 L192.40,189.20 L192.90,189.20 L193.40,189.20 L193.90,189.20 L194.40,189.20 L194.90,189.20 L195.40,189.20 L195.90,189.20 L196.40,189.20 L196.90,189.20 L197.40,189.20 L197.90,189.20 L198.40,189.20 L198.90,189.20 L199.40,189.20 L199.90,189.20 L200.40,189.20 L200.90,189.20 L201.40,189.20 L201.90,189.20 L202.40,189.20 L202.90,189.20 L203.40,189.20 L203.90,189.20 L204.40,189.20 L204.90,189.20 L205.40,189.20 L205.90,189.20 L206.40,189.20 L206.90,189.20 L207.40,189.20 L207.90,189.20 L208.40,189.20 L208.90,189.20 L209.40,189.20 L209.90,189.20 L210.40,189.20 L210.90,189.20 L211.40,189.20 L211.90,189.20 L212.40,189.20 L212.90,189.20 L213.40,189.20 L213.90,189.20 L214.40,189.20 L214.90,189.20 L215.40,189.20 L215.90,189.20 L216.40,189.20 L216.90,189.20 L217.40,189.20 L217.90,189.20 L218.40,189.20 L218.90,189.20 L219.40,189.20 L219.90,189.18 L220.40,189.08 L220.90,188.72 L221.40,188.37 L221.90,187.48 L222.40,187.40 L222.90,188.20 L223.40,188.69 L223.90,189.00 L224.40,189.17 L224.90,189.19 L225.40,189.20 L225.90,189.20 L226.40,189.20 L226.90,189.20 L227.40,189.20 L227.90,189.20 L228.40,189.20 L228.90,189.20 L229.40,189.20 L229.90,189.19 L230.40,189.18 L230.90,189.16 L231.40,189.13 L231.90,189.08 L232.40,188.98 L232.90,188.90 L233.40,188.84 L233.90,188.68 L234.40,188.39 L234.90,188.51 L235.40,188.01 L235.90,188.34 L236.40,187.98 L236.90,188.40 L237.40,188.20 L237.90,188.48 L238.40,188.71 L238.90,188.85 L239.40,188.94 L239.90,189.05 L240.40,189.11 L240.90,189.15 L241.40,189.17 L241.90,189.19 L242.40,189.19 L242.90,189.20 L243.40,189.20 L243.90,189.20 L244.40,189.20 L244.90,189.20 L245.40,189.20 L245.90,189.20 L246.40,189.20 L246.90,189.20 L247.40,189.20 L247.90,189.20 L248.40,189.20 L248.90,189.20 L249.40,189.20 L249.90,189.20 L250.40,189.20 L250.90,189.20 L251.40,189.20 L251.90,189.20 L252.40,189.20 L252.90,189.20 L253.40,189.20 L253.90,189.20 L254.40,189.20 L254.90,189.20 L255.40,189.20 L255.40,189.20 Z" fill="#1f5894"/>
<line x1="15.40" y1="203.60" x2="255.40" y2="203.60" stroke="#b9bfc8" stroke-width="0.9" />
<path d="M15.40,203.30 L15.40,203.30 L15.90,203.30 L16.40,203.30 L16.90,203.30 L17.40,203.30 L17.90,203.30 L18.40,203.30 L18.90,203.30 L19.40,203.30 L19.90,203.30 L20.40,203.30 L20.90,203.30 L21.40,203.30 L21.90,203.30 L22.40,203.30 L22.90,203.30 L23.40,203.30 L23.90,203.30 L24.40,203.30 L24.90,203.30 L25.40,203.30 L25.90,203.30 L26.40,203.30 L26.90,203.30 L27.40,203.30 L27.90,203.30 L28.40,203.30 L28.90,203.30 L29.40,203.30 L29.90,203.30 L30.40,203.30 L30.90,203.30 L31.40,203.30 L31.90,203.30 L32.40,203.30 L32.90,203.30 L33.40,203.30 L33.90,203.30 L34.40,203.30 L34.90,203.30 L35.40,203.30 L35.90,203.30 L36.40,203.30 L36.90,203.30 L37.40,203.30 L37.90,203.30 L38.40,203.30 L38.90,203.30 L39.40,203.30 L39.90,203.30 L40.40,203.30 L40.90,203.30 L41.40,203.30 L41.90,203.30 L42.40,203.30 L42.90,203.30 L43.40,203.30 L43.90,203.30 L44.40,203.30 L44.90,203.30 L45.40,203.30 L45.90,203.30 L46.40,203.30 L46.90,203.30 L47.40,203.30 L47.90,203.30 L48.40,203.30 L48.90,203.30 L49.40,203.30 L49.90,203.30 L50.40,203.30 L50.90,203.30 L51.40,203.30 L51.90,203.30 L52.40,203.30 L52.90,203.30 L53.40,203.30 L53.90,196.47 L54.40,195.34 L54.90,196.87 L55.40,196.41 L55.90,197.02 L56.40,199.74 L56.90,200.35 L57.40,198.58 L57.90,201.14 L58.40,201.18 L58.90,199.80 L59.40,200.75 L59.90,200.09 L60.40,200.74 L60.90,200.45 L61.40,201.34 L61.90,200.45 L62.40,200.03 L62.90,202.79 L63.40,202.72 L63.90,202.74 L64.40,202.95 L64.90,202.71 L65.40,202.77 L65.90,202.87 L66.40,202.96 L66.90,202.67 L67.40,202.81 L67.90,202.72 L68.40,202.52 L68.90,202.57 L69.40,202.45 L69.90,202.67 L70.40,202.45 L70.90,202.61 L71.40,202.33 L71.90,202.34 L72.40,202.74 L72.90,202.70 L73.40,202.64 L73.90,202.18 L74.40,202.48 L74.90,202.34 L75.40,202.52 L75.90,202.37 L76.40,202.43 L76.90,202.44 L77.40,202.26 L77.90,202.23 L78.40,201.98 L78.90,202.12 L79.40,201.91 L79.90,201.94 L80.40,201.81 L80.90,202.03 L81.40,202.42 L81.90,201.83 L82.40,201.72 L82.90,201.74 L83.40,202.01 L83.90,201.86 L84.40,202.28 L84.90,201.70 L85.40,201.88 L85.90,201.98 L86.40,201.85 L86.90,200.11 L87.40,200.13 L87.90,202.01 L88.40,201.46 L88.90,201.93 L89.40,202.18 L89.90,202.02 L90.40,201.49 L90.90,201.36 L91.40,202.24 L91.90,201.59 L92.40,202.21 L92.90,201.43 L93.40,201.85 L93.90,201.19 L94.40,201.05 L94.90,201.59 L95.40,200.97 L95.90,201.79 L96.40,202.06 L96.90,201.39 L97.40,202.09 L97.90,201.86 L98.40,201.57 L98.90,201.29 L99.40,201.87 L99.90,202.00 L100.40,200.87 L100.90,201.60 L101.40,200.70 L101.90,200.75 L102.40,201.46 L102.90,201.32 L103.40,201.19 L103.90,200.85 L104.40,200.55 L104.90,200.28 L105.40,200.29 L105.90,200.14 L106.40,201.06 L106.90,201.20 L107.40,200.74 L107.90,201.47 L108.40,201.36 L108.90,200.26 L109.40,200.97 L109.90,200.90 L110.40,201.76 L110.90,201.08 L111.40,200.78 L111.90,201.70 L112.40,200.68 L112.90,200.63 L113.40,201.59 L113.90,200.59 L114.40,200.85 L114.90,200.46 L115.40,201.02 L115.90,200.36 L116.40,200.28 L116.90,201.56 L117.40,201.48 L117.90,200.32 L118.40,199.76 L118.90,201.08 L119.40,200.67 L119.90,200.39 L120.40,200.89 L120.90,200.79 L121.40,200.87 L121.90,200.74 L122.40,200.28 L122.90,200.84 L123.40,200.67 L123.90,199.85 L124.40,197.48 L124.90,194.18 L125.40,193.17 L125.90,195.76 L126.40,196.29 L126.90,192.75 L127.40,202.73 L127.90,202.75 L128.40,202.63 L128.90,202.50 L129.40,202.80 L129.90,202.69 L130.40,202.68 L130.90,202.44 L131.40,202.63 L131.90,202.43 L132.40,202.76 L132.90,202.68 L133.40,202.53 L133.90,202.41 L134.40,202.62 L134.90,202.73 L135.40,202.79 L135.90,202.59 L136.40,202.75 L136.90,202.45 L137.40,202.43 L137.90,202.76 L138.40,202.71 L138.90,202.45 L139.40,202.53 L139.90,202.45 L140.40,202.68 L140.90,202.78 L141.40,202.70 L141.90,202.46 L142.40,202.71 L142.90,202.68 L143.40,202.64 L143.90,202.64 L144.40,202.64 L144.90,202.39 L145.40,202.77 L145.90,202.84 L146.40,202.38 L146.90,202.41 L147.40,202.36 L147.90,202.63 L148.40,202.38 L148.90,202.39 L149.40,202.74 L149.90,202.48 L150.40,202.44 L150.90,202.52 L151.40,202.59 L151.90,202.70 L152.40,202.68 L152.90,202.73 L153.40,202.81 L153.90,202.56 L154.40,202.70 L154.90,202.45 L155.40,202.82 L155.90,202.40 L156.40,202.51 L156.90,202.39 L157.40,202.41 L157.90,202.40 L158.40,202.56 L158.90,202.84 L159.40,202.48 L159.90,202.76 L160.40,202.70 L160.90,202.52 L161.40,202.59 L161.90,202.64 L162.40,202.38 L162.90,202.55 L163.40,202.68 L163.90,202.72 L164.40,202.42 L164.90,202.61 L165.40,202.46 L165.90,202.67 L166.40,202.75 L166.90,202.58 L167.40,202.44 L167.90,202.76 L168.40,202.46 L168.90,202.39 L169.40,202.45 L169.90,202.44 L170.40,202.77 L170.90,202.41 L171.40,202.26 L171.90,202.73 L172.40,202.59 L172.90,202.58 L173.40,202.42 L173.90,202.47 L174.40,202.43 L174.90,202.23 L175.40,202.71 L175.90,202.67 L176.40,202.62 L176.90,202.61 L177.40,202.64 L177.90,202.04 L178.40,202.10 L178.90,202.61 L179.40,202.32 L179.90,202.44 L180.40,202.43 L180.90,202.40 L181.40,202.18 L181.90,202.21 L182.40,202.37 L182.90,202.48 L183.40,202.37 L183.90,202.52 L184.40,202.19 L184.90,202.06 L185.40,202.30 L185.90,202.52 L186.40,202.44 L186.90,202.28 L187.40,202.09 L187.90,201.94 L188.40,202.25 L188.90,201.90 L189.40,202.03 L189.90,202.18 L190.40,202.22 L190.90,202.11 L191.40,201.93 L191.90,202.15 L192.40,201.91 L192.90,202.10 L193.40,202.28 L193.90,202.02 L194.40,201.87 L194.90,202.41 L195.40,202.09 L195.90,202.08 L196.40,201.66 L196.90,201.59 L197.40,202.10 L197.90,201.61 L198.40,201.69 L198.90,202.18 L199.40,201.98 L199.90,202.30 L200.40,201.63 L200.90,201.76 L201.40,201.53 L201.90,201.61 L202.40,201.72 L202.90,201.65 L203.40,201.81 L203.90,202.26 L204.40,201.76 L204.90,202.35 L205.40,202.20 L205.90,201.54 L206.40,202.29 L206.90,202.23 L207.40,202.22 L207.90,201.38 L208.40,202.12 L208.90,202.28 L209.40,201.39 L209.90,202.16 L210.40,201.36 L210.90,201.54 L211.40,201.35 L211.90,201.21 L212.40,201.61 L212.90,201.36 L213.40,202.21 L213.90,201.37 L214.40,201.65 L214.90,201.41 L215.40,202.10 L215.90,201.35 L216.40,201.12 L216.90,202.13 L217.40,201.82 L217.90,201.52 L218.40,201.19 L218.90,201.89 L219.40,201.96 L219.90,201.86 L220.40,201.41 L220.90,201.23 L221.40,201.66 L221.90,201.69 L222.40,201.64 L222.90,201.69 L223.40,201.60 L223.90,202.01 L224.40,201.47 L224.90,200.86 L225.40,201.57 L225.90,201.13 L226.40,201.88 L226.90,201.18 L227.40,201.08 L227.90,201.18 L228.40,201.38 L228.90,201.41 L229.40,201.19 L229.90,200.83 L230.40,201.84 L230.90,201.90 L231.40,201.00 L231.90,200.76 L232.40,201.30 L232.90,201.39 L233.40,201.00 L233.90,201.74 L234.40,201.61 L234.90,201.70 L235.40,201.15 L235.90,201.52 L236.40,201.63 L236.90,200.96 L237.40,200.57 L237.90,201.52 L238.40,200.91 L238.90,201.33 L239.40,203.30 L239.90,203.30 L240.40,203.30 L240.90,203.30 L241.40,203.30 L241.90,203.30 L242.40,203.30 L242.90,203.30 L243.40,203.30 L243.90,203.30 L244.40,203.30 L244.90,203.30 L245.40,203.30 L245.90,203.30 L246.40,203.30 L246.90,203.30 L247.40,203.30 L247.90,203.30 L248.40,203.30 L248.90,203.30 L249.40,203.30 L249.90,203.30 L250.40,203.30 L250.90,203.30 L251.40,203.30 L251.90,203.30 L252.40,203.30 L252.90,203.30 L253.40,203.30 L253.90,203.30 L254.40,203.30 L254.90,203.30 L255.40,203.30 L255.40,203.30 Z" fill="#1f5894"/>
<line x1="15.40" y1="216.70" x2="255.40" y2="216.70" stroke="#b9bfc8" stroke-width="0.9" />
<path d="M15.40,216.40 L15.40,216.40 L15.90,216.40 L16.40,216.40 L16.90,216.40 L17.40,216.40 L17.90,216.40 L18.40,216.40 L18.90,216.40 L19.40,216.40 L19.90,216.40 L20.40,216.40 L20.90,216.40 L21.40,216.40 L21.90,216.40 L22.40,216.40 L22.90,216.40 L23.40,216.40 L23.90,216.40 L24.40,216.40 L24.90,216.40 L25.40,216.40 L25.90,216.40 L26.40,216.40 L26.90,216.40 L27.40,216.40 L27.90,216.40 L28.40,216.40 L28.90,216.40 L29.40,216.40 L29.90,216.40 L30.40,216.40 L30.90,216.40 L31.40,216.40 L31.90,216.40 L32.40,216.40 L32.90,216.40 L33.40,216.40 L33.90,216.40 L34.40,216.40 L34.90,216.40 L35.40,216.40 L35.90,216.40 L36.40,216.40 L36.90,216.40 L37.40,216.40 L37.90,216.40 L38.40,216.40 L38.90,216.40 L39.40,216.40 L39.90,216.40 L40.40,216.40 L40.90,216.40 L41.40,216.40 L41.90,216.40 L42.40,216.40 L42.90,216.40 L43.40,216.40 L43.90,216.40 L44.40,216.40 L44.90,216.40 L45.40,216.40 L45.90,216.40 L46.40,216.40 L46.90,216.40 L47.40,216.40 L47.90,216.40 L48.40,216.40 L48.90,216.40 L49.40,216.40 L49.90,216.40 L50.40,216.40 L50.90,216.40 L51.40,216.40 L51.90,216.40 L52.40,216.40 L52.90,216.40 L53.40,216.40 L53.90,209.58 L54.40,210.82 L54.90,209.84 L55.40,211.53 L55.90,212.38 L56.40,211.63 L56.90,210.62 L57.40,211.78 L57.90,213.32 L58.40,214.31 L58.90,213.73 L59.40,214.21 L59.90,214.40 L60.40,214.52 L60.90,214.32 L61.40,213.02 L61.90,213.20 L62.40,213.24 L62.90,215.79 L63.40,216.01 L63.90,215.97 L64.40,215.86 L64.90,215.82 L65.40,215.78 L65.90,215.77 L66.40,216.04 L66.90,215.86 L67.40,215.84 L67.90,215.90 L68.40,215.92 L68.90,215.77 L69.40,215.93 L69.90,215.52 L70.40,215.52 L70.90,215.66 L71.40,215.76 L71.90,215.42 L72.40,215.58 L72.90,215.38 L73.40,215.38 L73.90,215.55 L74.40,215.59 L74.90,215.46 L75.40,215.54 L75.90,215.69 L76.40,215.58 L76.90,215.22 L77.40,215.73 L77.90,215.71 L78.40,215.28 L78.90,215.51 L79.40,215.31 L79.90,215.33 L80.40,215.41 L80.90,214.88 L81.40,215.49 L81.90,215.30 L82.40,215.46 L82.90,215.08 L83.40,215.36 L83.90,215.27 L84.40,214.91 L84.90,215.27 L85.40,215.00 L85.90,214.40 L86.40,214.90 L86.90,214.63 L87.40,214.49 L87.90,214.26 L88.40,214.76 L88.90,215.20 L89.40,215.10 L89.90,215.24 L90.40,214.92 L90.90,215.35 L91.40,214.62 L91.90,214.38 L92.40,214.29 L92.90,214.51 L93.40,214.23 L93.90,215.30 L94.40,214.96 L94.90,214.14 L95.40,214.34 L95.90,214.76 L96.40,214.09 L96.90,214.46 L97.40,214.19 L97.90,214.84 L98.40,214.95 L98.90,214.60 L99.40,214.99 L99.90,214.65 L100.40,213.85 L100.90,214.68 L101.40,215.11 L101.90,215.04 L102.40,214.85 L102.90,213.96 L103.40,214.52 L103.90,214.50 L104.40,214.55 L104.90,212.52 L105.40,213.77 L105.90,214.48 L106.40,214.86 L106.90,214.88 L107.40,214.70 L107.90,213.88 L108.40,214.69 L108.90,214.85 L109.40,214.11 L109.90,214.49 L110.40,213.24 L110.90,214.66 L111.40,213.97 L111.90,213.54 L112.40,214.13 L112.90,213.12 L113.40,213.97 L113.90,214.36 L114.40,214.05 L114.90,214.69 L115.40,213.99 L115.90,214.28 L116.40,213.11 L116.90,213.19 L117.40,213.77 L117.90,214.62 L118.40,214.19 L118.90,214.19 L119.40,214.24 L119.90,214.18 L120.40,212.94 L120.90,214.32 L121.40,214.48 L121.90,212.74 L122.40,213.44 L122.90,212.56 L123.40,213.72 L123.90,212.69 L124.40,206.76 L124.90,205.93 L125.40,206.21 L125.90,207.73 L126.40,210.18 L126.90,209.46 L127.40,215.52 L127.90,215.50 L128.40,215.49 L128.90,215.78 L129.40,215.62 L129.90,215.55 L130.40,215.63 L130.90,215.55 L131.40,215.69 L131.90,215.62 L132.40,215.61 L132.90,215.81 L133.40,215.49 L133.90,215.48 L134.40,215.91 L134.90,215.47 L135.40,215.47 L135.90,215.62 L136.40,215.92 L136.90,215.50 L137.40,215.88 L137.90,215.47 L138.40,215.62 L138.90,215.92 L139.40,215.86 L139.90,215.63 L140.40,215.67 L140.90,215.58 L141.40,215.49 L141.90,215.84 L142.40,215.94 L142.90,215.49 L143.40,215.94 L143.90,215.52 L144.40,215.89 L144.90,215.55 L145.40,215.56 L145.90,215.51 L146.40,215.68 L146.90,215.51 L147.40,215.85 L147.90,215.62 L148.40,215.78 L148.90,215.51 L149.40,215.57 L149.90,215.71 L150.40,215.69 L150.90,215.93 L151.40,215.93 L151.90,215.65 L152.40,215.71 L152.90,215.52 L153.40,215.65 L153.90,215.88 L154.40,215.77 L154.90,215.57 L155.40,215.69 L155.90,215.94 L156.40,215.53 L156.90,215.54 L157.40,215.90 L157.90,215.68 L158.40,215.76 L158.90,215.56 L159.40,215.79 L159.90,215.83 L160.40,215.71 L160.90,215.47 L161.40,215.90 L161.90,215.89 L162.40,215.64 L162.90,215.51 L163.40,215.69 L163.90,215.73 L164.40,215.52 L164.90,215.56 L165.40,215.91 L165.90,215.51 L166.40,215.85 L166.90,215.80 L167.40,215.54 L167.90,215.74 L168.40,215.55 L168.90,215.86 L169.40,215.52 L169.90,215.86 L170.40,215.79 L170.90,215.59 L171.40,215.67 L171.90,215.54 L172.40,215.32 L172.90,215.42 L173.40,215.83 L173.90,215.64 L174.40,215.49 L174.90,215.52 L175.40,215.36 L175.90,215.50 L176.40,215.75 L176.90,215.64 L177.40,215.23 L177.90,215.55 L178.40,215.26 L178.90,215.10 L179.40,215.34 L179.90,215.29 L180.40,215.33 L180.90,215.53 L181.40,215.09 L181.90,215.40 L182.40,215.07 L182.90,215.50 L183.40,215.08 L183.90,215.12 L184.40,215.24 L184.90,215.36 L185.40,215.58 L185.90,215.09 L186.40,215.40 L186.90,215.15 L187.40,215.56 L187.90,215.60 L188.40,215.54 L188.90,214.99 L189.40,215.50 L189.90,214.89 L190.40,215.32 L190.90,215.14 L191.40,215.32 L191.90,215.08 L192.40,215.53 L192.90,215.25 L193.40,214.78 L193.90,215.43 L194.40,215.00 L194.90,215.28 L195.40,215.30 L195.90,215.54 L196.40,215.54 L196.90,214.68 L197.40,214.78 L197.90,214.79 L198.40,214.78 L198.90,214.63 L199.40,215.37 L199.90,214.96 L200.40,215.03 L200.90,214.95 L201.40,214.58 L201.90,214.74 L202.40,214.53 L202.90,215.36 L203.40,214.82 L203.90,214.78 L204.40,214.70 L204.90,214.82 L205.40,214.59 L205.90,215.13 L206.40,214.47 L206.90,215.00 L207.40,214.79 L207.90,214.47 L208.40,214.66 L208.90,215.07 L209.40,215.15 L209.90,215.04 L210.40,214.70 L210.90,214.28 L211.40,214.38 L211.90,214.92 L212.40,214.91 L212.90,214.43 L213.40,215.03 L213.90,214.87 L214.40,215.32 L214.90,215.12 L215.40,214.70 L215.90,214.51 L216.40,214.59 L216.90,214.88 L217.40,214.17 L217.90,214.55 L218.40,215.10 L218.90,215.20 L219.40,214.10 L219.90,214.07 L220.40,214.14 L220.90,214.51 L221.40,214.86 L221.90,215.13 L222.40,214.92 L222.90,214.95 L223.40,214.05 L223.90,214.09 L224.40,214.22 L224.90,215.02 L225.40,214.89 L225.90,214.81 L226.40,213.95 L226.90,214.97 L227.40,214.14 L227.90,214.27 L228.40,214.44 L228.90,213.88 L229.40,214.80 L229.90,214.44 L230.40,214.93 L230.90,215.00 L231.40,215.08 L231.90,214.69 L232.40,214.95 L232.90,215.02 L233.40,213.72 L233.90,214.69 L234.40,213.84 L234.90,214.09 L235.40,214.04 L235.90,214.14 L236.40,213.70 L236.90,213.79 L237.40,214.01 L237.90,214.23 L238.40,214.03 L238.90,213.97 L239.40,216.40 L239.90,216.40 L240.40,216.40 L240.90,216.40 L241.40,216.40 L241.90,216.40 L242.40,216.40 L242.90,216.40 L243.40,216.40 L243.90,216.40 L244.40,216.40 L244.90,216.40 L245.40,216.40 L245.90,216.40 L246.40,216.40 L246.90,216.40 L247.40,216.40 L247.90,216.40 L248.40,216.40 L248.90,216.40 L249.40,216.40 L249.90,216.40 L250.40,216.40 L250.90,216.40 L251.40,216.40 L251.90,216.40 L252.40,216.40 L252.90,216.40 L253.40,216.40 L253.90,216.40 L254.40,216.40 L254.90,216.40 L255.40,216.40 L255.40,216.40 Z" fill="#1f5894"/>
<line x1="302.90" y1="176.10" x2="486.70" y2="176.10" stroke="#b9bfc8" stroke-width="0.9" />
<path d="M302.90,175.80 L302.90,175.80 L303.40,175.80 L303.90,175.79 L304.40,175.79 L304.90,175.78 L305.40,175.76 L305.90,175.73 L306.40,175.68 L306.90,175.62 L307.40,175.53 L307.90,175.43 L308.40,175.33 L308.90,175.26 L309.40,175.18 L309.90,175.26 L310.40,175.22 L310.90,175.21 L311.40,175.32 L311.90,175.39 L312.40,175.53 L312.90,175.59 L313.40,175.66 L313.90,175.71 L314.40,175.74 L314.90,175.75 L315.40,175.75 L315.90,175.73 L316.40,175.70 L316.90,175.66 L317.40,175.58 L317.90,175.51 L318.40,175.47 L318.90,175.39 L319.40,175.34 L319.90,175.26 L320.40,175.28 L320.90,175.38 L321.40,175.39 L321.90,175.50 L322.40,175.55 L322.90,175.64 L323.40,175.68 L323.90,175.73 L324.40,175.76 L324.90,175.78 L325.40,175.79 L325.90,175.79 L326.40,175.79 L326.90,175.79 L327.40,175.79 L327.90,175.77 L328.40,175.75 L328.90,175.71 L329.40,175.65 L329.90,175.51 L330.40,175.41 L330.90,175.23 L331.40,174.90 L331.90,174.68 L332.40,174.60 L332.90,174.26 L333.40,174.30 L333.90,174.26 L334.40,174.50 L334.90,174.48 L335.40,174.76 L335.90,174.94 L336.40,175.17 L336.90,175.37 L337.40,175.39 L337.90,175.29 L338.40,174.96 L338.90,174.34 L339.40,173.23 L339.90,171.58 L340.40,170.57 L340.90,168.13 L341.40,167.50 L341.90,167.11 L342.40,166.57 L342.90,168.14 L343.40,169.59 L343.90,170.47 L344.40,170.98 L344.90,171.97 L345.40,171.63 L345.90,172.88 L346.40,173.24 L346.90,174.10 L347.40,175.00 L347.90,175.35 L348.40,175.55 L348.90,175.39 L349.40,174.96 L349.90,174.30 L350.40,173.93 L350.90,174.00 L351.40,174.93 L351.90,175.40 L352.40,175.55 L352.90,175.34 L353.40,174.89 L353.90,174.18 L354.40,173.48 L354.90,173.17 L355.40,173.86 L355.90,174.28 L356.40,174.78 L356.90,174.85 L357.40,174.88 L357.90,174.72 L358.40,175.17 L358.90,175.49 L359.40,175.70 L359.90,175.78 L360.40,175.80 L360.90,175.80 L361.40,175.80 L361.90,175.80 L362.40,175.80 L362.90,175.80 L363.40,175.80 L363.90,175.80 L364.40,175.80 L364.90,175.80 L365.40,175.80 L365.90,175.80 L366.40,175.80 L366.90,175.80 L367.40,175.80 L367.90,175.80 L368.40,175.79 L368.90,175.77 L369.40,175.69 L369.90,175.52 L370.40,175.21 L370.90,174.99 L371.40,174.72 L371.90,174.87 L372.40,175.16 L372.90,175.44 L373.40,175.64 L373.90,175.73 L374.40,175.75 L374.90,175.70 L375.40,175.59 L375.90,175.32 L376.40,174.71 L376.90,173.67 L377.40,172.77 L377.90,171.31 L378.40,168.32 L378.90,167.21 L379.40,166.29 L379.90,166.34 L380.40,166.27 L380.90,167.28 L381.40,169.50 L381.90,171.00 L382.40,172.24 L382.90,172.01 L383.40,172.68 L383.90,172.44 L384.40,172.60 L384.90,173.65 L385.40,174.19 L385.90,174.86 L386.40,175.38 L386.90,175.63 L387.40,175.75 L387.90,175.78 L388.40,175.80 L388.90,175.80 L389.40,175.80 L389.90,175.80 L390.40,175.80 L390.90,175.80 L391.40,175.80 L391.90,175.80 L392.40,175.80 L392.90,175.80 L393.40,175.80 L393.90,175.80 L394.40,175.80 L394.90,175.80 L395.40,175.80 L395.90,175.80 L396.40,175.80 L396.90,175.80 L397.40,175.80 L397.90,175.80 L398.40,175.80 L398.90,175.80 L399.40,175.80 L399.90,175.80 L400.40,175.80 L400.90,175.80 L401.40,175.80 L401.90,175.80 L402.40,175.80 L402.90,175.80 L403.40,175.80 L403.90,175.79 L404.40,175.78 L404.90,175.74 L405.40,175.66 L405.90,175.45 L406.40,175.10 L406.90,174.25 L407.40,173.37 L407.90,171.82 L408.40,169.46 L408.90,167.76 L409.40,166.07 L409.90,166.34 L410.40,166.48 L410.90,167.04 L411.40,168.88 L411.90,170.54 L412.40,171.57 L412.90,172.44 L413.40,172.53 L413.90,172.08 L414.40,171.95 L414.90,172.13 L415.40,172.35 L415.90,172.80 L416.40,173.42 L416.90,173.89 L417.40,174.28 L417.90,174.77 L418.40,175.23 L418.90,175.45 L419.40,175.61 L419.90,175.71 L420.40,175.76 L420.90,175.78 L421.40,175.79 L421.90,175.80 L422.40,175.80 L422.90,175.80 L423.40,175.80 L423.90,175.80 L424.40,175.80 L424.90,175.80 L425.40,175.80 L425.90,175.80 L426.40,175.80 L426.90,175.80 L427.40,175.80 L427.90,175.80 L428.40,175.80 L428.90,175.80 L429.40,175.80 L429.90,175.80 L430.40,175.80 L430.90,175.80 L431.40,175.80 L431.90,175.80 L432.40,175.80 L432.90,175.80 L433.40,175.80 L433.90,175.80 L434.40,175.80 L434.90,175.80 L435.40,175.80 L435.90,175.80 L436.40,175.80 L436.90,175.80 L437.40,175.80 L437.90,175.80 L438.40,175.80 L438.90,175.80 L439.40,175.80 L439.90,175.80 L440.40,175.80 L440.90,175.80 L441.40,175.80 L441.90,175.80 L442.40,175.80 L442.90,175.80 L443.40,175.80 L443.90,175.80 L444.40,175.80 L444.90,175.80 L445.40,175.80 L445.90,175.80 L446.40,175.80 L446.90,175.80 L447.40,175.80 L447.90,175.80 L448.40,175.80 L448.90,175.80 L449.40,175.80 L449.90,175.80 L450.40,175.80 L450.90,175.80 L451.40,175.80 L451.90,175.80 L452.40,175.80 L452.90,175.80 L453.40,175.80 L453.90,175.80 L454.40,175.80 L454.90,175.80 L455.40,175.80 L455.90,175.80 L456.40,175.80 L456.90,175.80 L457.40,175.80 L457.90,175.80 L458.40,175.79 L458.90,175.79 L459.40,175.78 L459.90,175.75 L460.40,175.71 L460.90,175.65 L461.40,175.55 L461.90,175.43 L462.40,175.26 L462.90,175.13 L463.40,174.89 L463.90,174.81 L464.40,174.66 L464.90,174.54 L465.40,174.58 L465.90,174.76 L466.40,174.78 L466.90,175.01 L467.40,175.21 L467.90,175.42 L468.40,175.51 L468.90,175.63 L469.40,175.69 L469.90,175.74 L470.40,175.77 L470.90,175.78 L471.40,175.79 L471.90,175.80 L472.40,175.80 L472.90,175.80 L473.40,175.80 L473.90,175.80 L474.40,175.80 L474.90,175.80 L475.40,175.80 L475.90,175.80 L476.40,175.79 L476.90,175.78 L477.40,175.74 L477.90,175.68 L478.40,175.57 L478.90,175.43 L479.40,175.20 L479.90,175.01 L480.40,174.82 L480.90,174.83 L481.40,174.81 L481.90,174.92 L482.40,175.11 L482.90,175.37 L483.40,175.50 L483.90,175.63 L484.40,175.72 L484.90,175.77 L485.40,175.79 L485.90,175.80 L486.40,175.80 L486.70,175.80 Z" fill="#1f5894"/>
<line x1="302.90" y1="189.50" x2="486.70" y2="189.50" stroke="#b9bfc8" stroke-width="0.9" />
<path d="M302.90,189.20 L302.90,189.20 L303.40,189.20 L303.90,189.20 L304.40,189.20 L304.90,189.20 L305.40,189.20 L305.90,189.20 L306.40,189.20 L306.90,189.20 L307.40,189.20 L307.90,189.20 L308.40,189.20 L308.90,189.20 L309.40,189.20 L309.90,189.20 L310.40,189.20 L310.90,189.20 L311.40,189.20 L311.90,189.20 L312.40,189.20 L312.90,189.20 L313.40,189.20 L313.90,189.20 L314.40,189.20 L314.90,189.20 L315.40,189.20 L315.90,189.20 L316.40,189.20 L316.90,189.20 L317.40,189.20 L317.90,189.20 L318.40,189.20 L318.90,189.20 L319.40,189.20 L319.90,189.20 L320.40,189.20 L320.90,189.20 L321.40,189.20 L321.90,189.20 L322.40,189.20 L322.90,189.20 L323.40,189.20 L323.90,189.20 L324.40,189.20 L324.90,189.20 L325.40,189.20 L325.90,189.19 L326.40,189.17 L326.90,189.14 L327.40,189.09 L327.90,188.99 L328.40,188.88 L328.90,188.82 L329.40,188.78 L329.90,188.80 L330.40,188.69 L330.90,188.79 L331.40,188.84 L331.90,188.99 L332.40,189.06 L332.90,189.12 L333.40,189.16 L333.90,189.18 L334.40,189.19 L334.90,189.20 L335.40,189.20 L335.90,189.20 L336.40,189.20 L336.90,189.20 L337.40,189.20 L337.90,189.20 L338.40,189.20 L338.90,189.20 L339.40,189.18 L339.90,189.11 L340.40,188.82 L340.90,188.37 L341.40,187.36 L341.90,187.02 L342.40,187.61 L342.90,188.27 L343.40,188.83 L343.90,189.11 L344.40,189.18 L344.90,189.20 L345.40,189.20 L345.90,189.20 L346.40,189.20 L346.90,189.20 L347.40,189.20 L347.90,189.20 L348.40,189.20 L348.90,189.20 L349.40,189.20 L349.90,189.20 L350.40,189.20 L350.90,189.20 L351.40,189.20 L351.90,189.20 L352.40,189.20 L352.90,189.20 L353.40,189.20 L353.90,189.20 L354.40,189.20 L354.90,189.20 L355.40,189.20 L355.90,189.20 L356.40,189.20 L356.90,189.20 L357.40,189.20 L357.90,189.20 L358.40,189.20 L358.90,189.20 L359.40,189.20 L359.90,189.20 L360.40,189.20 L360.90,189.20 L361.40,189.20 L361.90,189.20 L362.40,189.20 L362.90,189.20 L363.40,189.20 L363.90,189.20 L364.40,189.20 L364.90,189.20 L365.40,189.20 L365.90,189.20 L366.40,189.20 L366.90,189.20 L367.40,189.20 L367.90,189.20 L368.40,189.20 L368.90,189.20 L369.40,189.20 L369.90,189.20 L370.40,189.20 L370.90,189.20 L371.40,189.20 L371.90,189.20 L372.40,189.20 L372.90,189.20 L373.40,189.20 L373.90,189.20 L374.40,189.20 L374.90,189.20 L375.40,189.20 L375.90,189.20 L376.40,189.18 L376.90,189.15 L377.40,189.06 L377.90,188.92 L378.40,188.57 L378.90,188.09 L379.40,188.00 L379.90,187.52 L380.40,187.68 L380.90,187.91 L381.40,188.49 L381.90,188.84 L382.40,188.97 L382.90,189.12 L383.40,189.17 L383.90,189.19 L384.40,189.20 L384.90,189.20 L385.40,189.20 L385.90,189.20 L386.40,189.20 L386.90,189.20 L387.40,189.20 L387.90,189.20 L388.40,189.20 L388.90,189.20 L389.40,189.20 L389.90,189.20 L390.40,189.20 L390.90,189.20 L391.40,189.20 L391.90,189.20 L392.40,189.20 L392.90,189.20 L393.40,189.20 L393.90,189.20 L394.40,189.20 L394.90,189.20 L395.40,189.20 L395.90,189.20 L396.40,189.20 L396.90,189.20 L397.40,189.20 L397.90,189.20 L398.40,189.20 L398.90,189.20 L399.40,189.20 L399.90,189.20 L400.40,189.20 L400.90,189.20 L401.40,189.20 L401.90,189.20 L402.40,189.20 L402.90,189.20 L403.40,189.20 L403.90,189.20 L404.40,189.20 L404.90,189.20 L405.40,189.20 L405.90,189.20 L406.40,189.18 L406.90,189.15 L407.40,189.06 L407.90,188.84 L408.40,188.60 L408.90,188.37 L409.40,188.04 L409.90,187.62 L410.40,187.90 L410.90,187.86 L411.40,188.41 L411.90,188.82 L412.40,188.98 L412.90,189.12 L413.40,189.17 L413.90,189.19 L414.40,189.20 L414.90,189.20 L415.40,189.20 L415.90,189.20 L416.40,189.20 L416.90,189.20 L417.40,189.20 L417.90,189.20 L418.40,189.20 L418.90,189.20 L419.40,189.20 L419.90,189.20 L420.40,189.20 L420.90,189.20 L421.40,189.20 L421.90,189.20 L422.40,189.20 L422.90,189.20 L423.40,189.20 L423.90,189.20 L424.40,189.20 L424.90,189.20 L425.40,189.20 L425.90,189.20 L426.40,189.20 L426.90,189.20 L427.40,189.20 L427.90,189.20 L428.40,189.20 L428.90,189.20 L429.40,189.20 L429.90,189.20 L430.40,189.20 L430.90,189.20 L431.40,189.20 L431.90,189.20 L432.40,189.20 L432.90,189.20 L433.40,189.20 L433.90,189.20 L434.40,189.20 L434.90,189.20 L435.40,189.20 L435.90,189.20 L436.40,189.20 L436.90,189.20 L437.40,189.20 L437.90,189.20 L438.40,189.20 L438.90,189.20 L439.40,189.20 L439.90,189.20 L440.40,189.20 L440.90,189.20 L441.40,189.20 L441.90,189.20 L442.40,189.20 L442.90,189.20 L443.40,189.20 L443.90,189.20 L444.40,189.20 L444.90,189.20 L445.40,189.20 L445.90,189.20 L446.40,189.20 L446.90,189.20 L447.40,189.20 L447.90,189.20 L448.40,189.20 L448.90,189.20 L449.40,189.20 L449.90,189.20 L450.40,189.20 L450.90,189.20 L451.40,189.20 L451.90,189.20 L452.40,189.20 L452.90,189.20 L453.40,189.20 L453.90,189.20 L454.40,189.19 L454.90,189.18 L455.40,189.16 L455.90,189.14 L456.40,189.10 L456.90,189.06 L457.40,188.95 L457.90,188.86 L458.40,188.83 L458.90,188.75 L459.40,188.68 L459.90,188.64 L460.40,188.62 L460.90,188.83 L461.40,188.83 L461.90,188.87 L462.40,188.98 L462.90,189.02 L463.40,189.08 L463.90,189.13 L464.40,189.16 L464.90,189.18 L465.40,189.19 L465.90,189.19 L466.40,189.20 L466.90,189.20 L467.40,189.20 L467.90,189.20 L468.40,189.20 L468.90,189.20 L469.40,189.20 L469.90,189.20 L470.40,189.20 L470.90,189.20 L471.40,189.20 L471.90,189.20 L472.40,189.20 L472.90,189.20 L473.40,189.20 L473.90,189.20 L474.40,189.20 L474.90,189.20 L475.40,189.20 L475.90,189.20 L476.40,189.20 L476.90,189.20 L477.40,189.20 L477.90,189.20 L478.40,189.20 L478.90,189.20 L479.40,189.20 L479.90,189.20 L480.40,189.20 L480.90,189.20 L481.40,189.20 L481.90,189.20 L482.40,189.20 L482.90,189.20 L483.40,189.20 L483.90,189.20 L484.40,189.20 L484.90,189.20 L485.40,189.20 L485.90,189.20 L486.40,189.20 L486.70,189.20 Z" fill="#1f5894"/>
<line x1="302.90" y1="203.60" x2="486.70" y2="203.60" stroke="#b9bfc8" stroke-width="0.9" />
<path d="M302.90,203.30 L302.90,203.30 L303.40,203.30 L303.90,203.30 L304.40,203.30 L304.90,203.30 L305.40,203.30 L305.90,203.30 L306.40,203.30 L306.90,203.30 L307.40,203.30 L307.90,203.30 L308.40,203.30 L308.90,203.30 L309.40,203.30 L309.90,203.30 L310.40,203.30 L310.90,203.30 L311.40,203.30 L311.90,203.30 L312.40,203.30 L312.90,203.30 L313.40,203.30 L313.90,203.30 L314.40,203.30 L314.90,203.30 L315.40,203.30 L315.90,203.30 L316.40,203.30 L316.90,203.30 L317.40,203.30 L317.90,203.30 L318.40,203.30 L318.90,203.30 L319.40,203.30 L319.90,203.30 L320.40,203.30 L320.90,203.30 L321.40,203.30 L321.90,203.30 L322.40,203.30 L322.90,203.30 L323.40,203.30 L323.90,203.30 L324.40,203.30 L324.90,203.30 L325.40,203.30 L325.90,203.30 L326.40,203.30 L326.90,203.30 L327.40,203.30 L327.90,203.30 L328.40,203.30 L328.90,203.30 L329.40,203.30 L329.90,203.30 L330.40,203.30 L330.90,203.30 L331.40,203.30 L331.90,203.30 L332.40,203.30 L332.90,203.29 L333.40,203.29 L333.90,203.28 L334.40,203.28 L334.90,203.26 L335.40,203.24 L335.90,203.21 L336.40,203.17 L336.90,203.11 L337.40,203.05 L337.90,202.94 L338.40,202.86 L338.90,202.71 L339.40,202.58 L339.90,202.46 L340.40,202.27 L340.90,202.18 L341.40,202.01 L341.90,201.96 L342.40,201.89 L342.90,201.81 L343.40,201.76 L343.90,201.92 L344.40,201.99 L344.90,202.06 L345.40,202.16 L345.90,202.35 L346.40,202.52 L346.90,202.62 L347.40,202.81 L347.90,202.89 L348.40,203.01 L348.90,203.09 L349.40,203.15 L349.90,203.19 L350.40,203.22 L350.90,203.25 L351.40,203.26 L351.90,203.27 L352.40,203.28 L352.90,203.28 L353.40,203.28 L353.90,203.28 L354.40,203.27 L354.90,203.27 L355.40,203.26 L355.90,203.25 L356.40,203.24 L356.90,203.23 L357.40,203.22 L357.90,203.21 L358.40,203.19 L358.90,203.17 L359.40,203.15 L359.90,203.13 L360.40,203.10 L360.90,203.08 L361.40,203.04 L361.90,203.00 L362.40,202.97 L362.90,202.93 L363.40,202.91 L363.90,202.86 L364.40,202.81 L364.90,202.73 L365.40,202.69 L365.90,202.65 L366.40,202.57 L366.90,202.53 L367.40,202.48 L367.90,202.38 L368.40,202.34 L368.90,202.33 L369.40,202.24 L369.90,202.20 L370.40,202.12 L370.90,202.09 L371.40,202.11 L371.90,202.00 L372.40,202.08 L372.90,202.03 L373.40,201.97 L373.90,202.05 L374.40,202.00 L374.90,202.07 L375.40,202.00 L375.90,202.01 L376.40,202.07 L376.90,202.06 L377.40,202.17 L377.90,202.17 L378.40,202.22 L378.90,202.27 L379.40,202.34 L379.90,202.36 L380.40,202.41 L380.90,202.50 L381.40,202.54 L381.90,202.64 L382.40,202.65 L382.90,202.71 L383.40,202.75 L383.90,202.81 L384.40,202.88 L384.90,202.92 L385.40,202.95 L385.90,203.01 L386.40,203.03 L386.90,203.07 L387.40,203.10 L387.90,203.13 L388.40,203.14 L388.90,203.17 L389.40,203.18 L389.90,203.20 L390.40,203.22 L390.90,203.23 L391.40,203.24 L391.90,203.25 L392.40,203.26 L392.90,203.27 L393.40,203.27 L393.90,203.28 L394.40,203.28 L394.90,203.28 L395.40,203.29 L395.90,203.29 L396.40,203.29 L396.90,203.29 L397.40,203.30 L397.90,203.30 L398.40,203.30 L398.90,203.30 L399.40,203.30 L399.90,203.30 L400.40,203.30 L400.90,203.30 L401.40,203.30 L401.90,203.30 L402.40,203.30 L402.90,203.29 L403.40,203.28 L403.90,203.27 L404.40,203.24 L404.90,203.20 L405.40,203.13 L405.90,203.01 L406.40,202.82 L406.90,202.51 L407.40,202.20 L407.90,201.63 L408.40,200.94 L408.90,200.01 L409.40,199.05 L409.90,197.95 L410.40,197.19 L410.90,196.07 L411.40,195.20 L411.90,194.00 L412.40,193.42 L412.90,193.95 L413.40,193.94 L413.90,194.09 L414.40,194.44 L414.90,194.63 L415.40,194.96 L415.90,195.58 L416.40,196.04 L416.90,195.87 L417.40,195.94 L417.90,195.72 L418.40,195.27 L418.90,195.29 L419.40,195.29 L419.90,195.17 L420.40,195.25 L420.90,196.03 L421.40,195.91 L421.90,196.70 L422.40,197.47 L422.90,198.41 L423.40,199.47 L423.90,200.29 L424.40,201.08 L424.90,201.58 L425.40,202.15 L425.90,202.51 L426.40,202.76 L426.90,202.95 L427.40,203.06 L427.90,203.14 L428.40,203.17 L428.90,203.19 L429.40,203.20 L429.90,203.19 L430.40,203.18 L430.90,203.17 L431.40,203.16 L431.90,203.15 L432.40,203.13 L432.90,203.11 L433.40,203.08 L433.90,203.07 L434.40,203.03 L434.90,203.02 L435.40,203.01 L435.90,202.99 L436.40,202.97 L436.90,202.95 L437.40,202.95 L437.90,202.91 L438.40,202.89 L438.90,202.91 L439.40,202.90 L439.90,202.92 L440.40,202.92 L440.90,202.91 L441.40,202.92 L441.90,202.91 L442.40,202.94 L442.90,202.96 L443.40,202.94 L443.90,202.98 L444.40,203.01 L444.90,203.01 L445.40,203.05 L445.90,203.05 L446.40,203.06 L446.90,203.09 L447.40,203.11 L447.90,203.14 L448.40,203.15 L448.90,203.17 L449.40,203.18 L449.90,203.20 L450.40,203.21 L450.90,203.22 L451.40,203.23 L451.90,203.24 L452.40,203.25 L452.90,203.26 L453.40,203.27 L453.90,203.27 L454.40,203.28 L454.90,203.28 L455.40,203.29 L455.90,203.29 L456.40,203.29 L456.90,203.29 L457.40,203.29 L457.90,203.29 L458.40,203.30 L458.90,203.30 L459.40,203.29 L459.90,203.29 L460.40,203.28 L460.90,203.27 L461.40,203.25 L461.90,203.22 L462.40,203.16 L462.90,203.07 L463.40,202.90 L463.90,202.68 L464.40,202.33 L464.90,201.94 L465.40,201.40 L465.90,200.57 L466.40,199.69 L466.90,198.85 L467.40,197.96 L467.90,197.06 L468.40,196.29 L468.90,195.94 L469.40,195.11 L469.90,194.73 L470.40,194.64 L470.90,194.37 L471.40,194.00 L471.90,194.03 L472.40,193.81 L472.90,193.95 L473.40,194.93 L473.90,195.22 L474.40,196.00 L474.90,196.92 L475.40,198.14 L475.90,199.04 L476.40,199.82 L476.90,200.54 L477.40,201.15 L477.90,201.60 L478.40,202.01 L478.90,202.37 L479.40,202.67 L479.90,202.86 L480.40,203.00 L480.90,203.12 L481.40,203.18 L481.90,203.22 L482.40,203.25 L482.90,203.27 L483.40,203.28 L483.90,203.29 L484.40,203.29 L484.90,203.30 L485.40,203.30 L485.90,203.30 L486.40,203.30 L486.70,203.30 Z" fill="#1f5894"/>
<line x1="302.90" y1="216.90" x2="486.70" y2="216.90" stroke="#b9bfc8" stroke-width="0.9" />
<path d="M302.90,216.60 L302.90,216.60 L303.40,216.60 L303.90,216.60 L304.40,216.60 L304.90,216.60 L305.40,216.60 L305.90,216.60 L306.40,216.60 L306.90,216.60 L307.40,216.60 L307.90,216.60 L308.40,216.60 L308.90,216.60 L309.40,216.60 L309.90,216.60 L310.40,216.60 L310.90,216.60 L311.40,216.60 L311.90,216.60 L312.40,216.60 L312.90,216.60 L313.40,216.60 L313.90,216.60 L314.40,216.60 L314.90,216.60 L315.40,216.60 L315.90,216.60 L316.40,216.60 L316.90,216.60 L317.40,216.60 L317.90,216.60 L318.40,216.60 L318.90,216.60 L319.40,216.60 L319.90,216.60 L320.40,216.60 L320.90,216.60 L321.40,216.60 L321.90,216.60 L322.40,216.60 L322.90,216.60 L323.40,216.60 L323.90,216.60 L324.40,216.60 L324.90,216.60 L325.40,216.60 L325.90,216.60 L326.40,216.60 L326.90,216.60 L327.40,216.60 L327.90,216.60 L328.40,216.60 L328.90,216.60 L329.40,216.60 L329.90,216.60 L330.40,216.60 L330.90,216.60 L331.40,216.60 L331.90,216.60 L332.40,216.60 L332.90,216.60 L333.40,216.60 L333.90,216.60 L334.40,216.60 L334.90,216.60 L335.40,216.60 L335.90,216.60 L336.40,216.60 L336.90,216.60 L337.40,216.60 L337.90,216.60 L338.40,216.60 L338.90,216.60 L339.40,216.60 L339.90,216.60 L340.40,216.60 L340.90,216.60 L341.40,216.60 L341.90,216.60 L342.40,216.60 L342.90,216.60 L343.40,216.60 L343.90,216.60 L344.40,216.60 L344.90,216.60 L345.40,216.60 L345.90,216.60 L346.40,216.60 L346.90,216.60 L347.40,216.60 L347.90,216.60 L348.40,216.60 L348.90,216.60 L349.40,216.60 L349.90,216.60 L350.40,216.60 L350.90,216.60 L351.40,216.60 L351.90,216.60 L352.40,216.60 L352.90,216.60 L353.40,216.60 L353.90,216.60 L354.40,216.60 L354.90,216.60 L355.40,216.60 L355.90,216.60 L356.40,216.60 L356.90,216.60 L357.40,216.60 L357.90,216.60 L358.40,216.60 L358.90,216.60 L359.40,216.60 L359.90,216.60 L360.40,216.60 L360.90,216.60 L361.40,216.60 L361.90,216.60 L362.40,216.60 L362.90,216.60 L363.40,216.60 L363.90,216.60 L364.40,216.60 L364.90,216.60 L365.40,216.60 L365.90,216.60 L366.40,216.60 L366.90,216.60 L367.40,216.60 L367.90,216.60 L368.40,216.60 L368.90,216.60 L369.40,216.60 L369.90,216.60 L370.40,216.60 L370.90,216.60 L371.40,216.60 L371.90,216.60 L372.40,216.60 L372.90,216.60 L373.40,216.60 L373.90,216.60 L374.40,216.60 L374.90,216.60 L375.40,216.60 L375.90,216.60 L376.40,216.60 L376.90,216.60 L377.40,216.60 L377.90,216.60 L378.40,216.60 L378.90,216.60 L379.40,216.60 L379.90,216.60 L380.40,216.60 L380.90,216.60 L381.40,216.60 L381.90,216.60 L382.40,216.60 L382.90,216.60 L383.40,216.60 L383.90,216.60 L384.40,216.60 L384.90,216.60 L385.40,216.60 L385.90,216.60 L386.40,216.60 L386.90,216.60 L387.40,216.60 L387.90,216.60 L388.40,216.60 L388.90,216.60 L389.40,216.60 L389.90,216.60 L390.40,216.60 L390.90,216.60 L391.40,216.60 L391.90,216.60 L392.40,216.60 L392.90,216.60 L393.40,216.60 L393.90,216.60 L394.40,216.60 L394.90,216.60 L395.40,216.60 L395.90,216.60 L396.40,216.60 L396.90,216.60 L397.40,216.60 L397.90,216.60 L398.40,216.60 L398.90,216.60 L399.40,216.60 L399.90,216.60 L400.40,216.60 L400.90,216.60 L401.40,216.60 L401.90,216.60 L402.40,216.59 L402.90,216.59 L403.40,216.58 L403.90,216.57 L404.40,216.56 L404.90,216.54 L405.40,216.51 L405.90,216.47 L406.40,216.43 L406.90,216.34 L407.40,216.31 L407.90,216.19 L408.40,216.15 L408.90,216.04 L409.40,215.84 L409.90,215.86 L410.40,215.71 L410.90,215.67 L411.40,215.63 L411.90,215.60 L412.40,215.67 L412.90,215.58 L413.40,215.78 L413.90,215.83 L414.40,215.94 L414.90,216.00 L415.40,216.08 L415.90,216.14 L416.40,216.27 L416.90,216.36 L417.40,216.41 L417.90,216.46 L418.40,216.50 L418.90,216.53 L419.40,216.55 L419.90,216.57 L420.40,216.58 L420.90,216.59 L421.40,216.59 L421.90,216.60 L422.40,216.60 L422.90,216.60 L423.40,216.60 L423.90,216.60 L424.40,216.60 L424.90,216.60 L425.40,216.60 L425.90,216.60 L426.40,216.60 L426.90,216.60 L427.40,216.60 L427.90,216.60 L428.40,216.60 L428.90,216.60 L429.40,216.60 L429.90,216.60 L430.40,216.60 L430.90,216.60 L431.40,216.60 L431.90,216.60 L432.40,216.60 L432.90,216.60 L433.40,216.60 L433.90,216.60 L434.40,216.60 L434.90,216.60 L435.40,216.60 L435.90,216.60 L436.40,216.60 L436.90,216.60 L437.40,216.60 L437.90,216.60 L438.40,216.60 L438.90,216.60 L439.40,216.60 L439.90,216.60 L440.40,216.60 L440.90,216.60 L441.40,216.60 L441.90,216.60 L442.40,216.60 L442.90,216.60 L443.40,216.60 L443.90,216.60 L444.40,216.60 L444.90,216.60 L445.40,216.60 L445.90,216.60 L446.40,216.60 L446.90,216.60 L447.40,216.60 L447.90,216.60 L448.40,216.60 L448.90,216.60 L449.40,216.60 L449.90,216.60 L450.40,216.60 L450.90,216.60 L451.40,216.60 L451.90,216.60 L452.40,216.60 L452.90,216.60 L453.40,216.60 L453.90,216.60 L454.40,216.60 L454.90,216.60 L455.40,216.60 L455.90,216.60 L456.40,216.60 L456.90,216.60 L457.40,216.60 L457.90,216.60 L458.40,216.60 L458.90,216.60 L459.40,216.60 L459.90,216.60 L460.40,216.60 L460.90,216.60 L461.40,216.60 L461.90,216.60 L462.40,216.59 L462.90,216.59 L463.40,216.58 L463.90,216.57 L464.40,216.56 L464.90,216.54 L465.40,216.51 L465.90,216.47 L466.40,216.41 L466.90,216.38 L467.40,216.28 L467.90,216.22 L468.40,216.10 L468.90,216.03 L469.40,215.89 L469.90,215.82 L470.40,215.71 L470.90,215.59 L471.40,215.60 L471.90,215.67 L472.40,215.70 L472.90,215.56 L473.40,215.71 L473.90,215.83 L474.40,215.81 L474.90,215.96 L475.40,216.05 L475.90,216.14 L476.40,216.27 L476.90,216.34 L477.40,216.39 L477.90,216.46 L478.40,216.50 L478.90,216.53 L479.40,216.55 L479.90,216.57 L480.40,216.58 L480.90,216.59 L481.40,216.59 L481.90,216.60 L482.40,216.60 L482.90,216.60 L483.40,216.60 L483.90,216.60 L484.40,216.60 L484.90,216.60 L485.40,216.60 L485.90,216.60 L486.40,216.60 L486.70,216.60 Z" fill="#1f5894"/>
<text x="257.50" y="175.15" font-size="8.0" fill="#2a2a2a" textLength="42.00" lengthAdjust="spacingAndGlyphs">BRD4_DMSO</text>
<text x="260.00" y="188.15" font-size="8.0" fill="#2a2a2a" textLength="35.00" lengthAdjust="spacingAndGlyphs">BRD4_BETi</text>
<text x="253.00" y="202.65" font-size="8.0" fill="#2a2a2a" textLength="50.75" lengthAdjust="spacingAndGlyphs">nucRNA_DMSO</text>
<text x="255.50" y="215.65" font-size="8.0" fill="#2a2a2a" textLength="44.00" lengthAdjust="spacingAndGlyphs">nucRNA_BETi</text>
<line x1="54.40" y1="233.60" x2="238.60" y2="233.60" stroke="#7d95b5" stroke-width="0.7" />
<path d="M58.4,232.8 L57.4,233.6 L58.4,234.4" fill="none" stroke="#7d95b5" stroke-width="0.4"/>
<path d="M62.7,232.8 L61.7,233.6 L62.7,234.4" fill="none" stroke="#7d95b5" stroke-width="0.4"/>
<path d="M67.0,232.8 L66.0,233.6 L67.0,234.4" fill="none" stroke="#7d95b5" stroke-width="0.4"/>
<path d="M71.3,232.8 L70.3,233.6 L71.3,234.4" fill="none" stroke="#7d95b5" stroke-width="0.4"/>
<path d="M75.6,232.8 L74.6,233.6 L75.6,234.4" fill="none" stroke="#7d95b5" stroke-width="0.4"/>
<path d="M79.9,232.8 L78.9,233.6 L79.9,234.4" fill="none" stroke="#7d95b5" stroke-width="0.4"/>
<path d="M84.2,232.8 L83.2,233.6 L84.2,234.4" fill="none" stroke="#7d95b5" stroke-width="0.4"/>
<path d="M88.5,232.8 L87.5,233.6 L88.5,234.4" fill="none" stroke="#7d95b5" stroke-width="0.4"/>
<path d="M92.8,232.8 L91.8,233.6 L92.8,234.4" fill="none" stroke="#7d95b5" stroke-width="0.4"/>
<path d="M97.1,232.8 L96.1,233.6 L97.1,234.4" fill="none" stroke="#7d95b5" stroke-width="0.4"/>
<path d="M101.4,232.8 L100.4,233.6 L101.4,234.4" fill="none" stroke="#7d95b5" stroke-width="0.4"/>
<path d="M105.7,232.8 L104.7,233.6 L105.7,234.4" fill="none" stroke="#7d95b5" stroke-width="0.4"/>
<path d="M110.0,232.8 L109.0,233.6 L110.0,234.4" fill="none" stroke="#7d95b5" stroke-width="0.4"/>
<path d="M114.3,232.8 L113.3,233.6 L114.3,234.4" fill="none" stroke="#7d95b5" stroke-width="0.4"/>
<path d="M118.6,232.8 L117.6,233.6 L118.6,234.4" fill="none" stroke="#7d95b5" stroke-width="0.4"/>
<path d="M122.9,232.8 L121.9,233.6 L122.9,234.4" fill="none" stroke="#7d95b5" stroke-width="0.4"/>
<path d="M127.2,232.8 L126.2,233.6 L127.2,234.4" fill="none" stroke="#7d95b5" stroke-width="0.4"/>
<path d="M131.5,232.8 L130.5,233.6 L131.5,234.4" fill="none" stroke="#7d95b5" stroke-width="0.4"/>
<path d="M135.8,232.8 L134.8,233.6 L135.8,234.4" fill="none" stroke="#7d95b5" stroke-width="0.4"/>
<path d="M140.1,232.8 L139.1,233.6 L140.1,234.4" fill="none" stroke="#7d95b5" stroke-width="0.4"/>
<path d="M144.4,232.8 L143.4,233.6 L144.4,234.4" fill="none" stroke="#7d95b5" stroke-width="0.4"/>
<path d="M148.7,232.8 L147.7,233.6 L148.7,234.4" fill="none" stroke="#7d95b5" stroke-width="0.4"/>
<path d="M153.0,232.8 L152.0,233.6 L153.0,234.4" fill="none" stroke="#7d95b5" stroke-width="0.4"/>
<path d="M157.3,232.8 L156.3,233.6 L157.3,234.4" fill="none" stroke="#7d95b5" stroke-width="0.4"/>
<path d="M161.6,232.8 L160.6,233.6 L161.6,234.4" fill="none" stroke="#7d95b5" stroke-width="0.4"/>
<path d="M165.9,232.8 L164.9,233.6 L165.9,234.4" fill="none" stroke="#7d95b5" stroke-width="0.4"/>
<path d="M170.2,232.8 L169.2,233.6 L170.2,234.4" fill="none" stroke="#7d95b5" stroke-width="0.4"/>
<path d="M174.5,232.8 L173.5,233.6 L174.5,234.4" fill="none" stroke="#7d95b5" stroke-width="0.4"/>
<path d="M178.8,232.8 L177.8,233.6 L178.8,234.4" fill="none" stroke="#7d95b5" stroke-width="0.4"/>
<path d="M183.1,232.8 L182.1,233.6 L183.1,234.4" fill="none" stroke="#7d95b5" stroke-width="0.4"/>
<path d="M187.4,232.8 L186.4,233.6 L187.4,234.4" fill="none" stroke="#7d95b5" stroke-width="0.4"/>
<path d="M191.7,232.8 L190.7,233.6 L191.7,234.4" fill="none" stroke="#7d95b5" stroke-width="0.4"/>
<path d="M196.0,232.8 L195.0,233.6 L196.0,234.4" fill="none" stroke="#7d95b5" stroke-width="0.4"/>
<path d="M200.3,232.8 L199.3,233.6 L200.3,234.4" fill="none" stroke="#7d95b5" stroke-width="0.4"/>
<path d="M204.6,232.8 L203.6,233.6 L204.6,234.4" fill="none" stroke="#7d95b5" stroke-width="0.4"/>
<path d="M208.9,232.8 L207.9,233.6 L208.9,234.4" fill="none" stroke="#7d95b5" stroke-width="0.4"/>
<path d="M213.2,232.8 L212.2,233.6 L213.2,234.4" fill="none" stroke="#7d95b5" stroke-width="0.4"/>
<path d="M217.5,232.8 L216.5,233.6 L217.5,234.4" fill="none" stroke="#7d95b5" stroke-width="0.4"/>
<path d="M221.8,232.8 L220.8,233.6 L221.8,234.4" fill="none" stroke="#7d95b5" stroke-width="0.4"/>
<path d="M226.1,232.8 L225.1,233.6 L226.1,234.4" fill="none" stroke="#7d95b5" stroke-width="0.4"/>
<path d="M230.4,232.8 L229.4,233.6 L230.4,234.4" fill="none" stroke="#7d95b5" stroke-width="0.4"/>
<path d="M234.7,232.8 L233.7,233.6 L234.7,234.4" fill="none" stroke="#7d95b5" stroke-width="0.4"/>
<rect x="59.70" y="232.00" width="0.70" height="3.20" fill="#1f4f86"/>
<rect x="65.70" y="232.00" width="0.70" height="3.20" fill="#1f4f86"/>
<rect x="71.70" y="232.00" width="0.70" height="3.20" fill="#1f4f86"/>
<rect x="81.70" y="232.00" width="0.70" height="3.20" fill="#1f4f86"/>
<rect x="95.70" y="232.00" width="0.70" height="3.20" fill="#1f4f86"/>
<rect x="99.70" y="232.00" width="0.70" height="3.20" fill="#1f4f86"/>
<rect x="117.70" y="232.00" width="0.70" height="3.20" fill="#1f4f86"/>
<rect x="123.70" y="232.00" width="0.70" height="3.20" fill="#1f4f86"/>
<rect x="130.70" y="232.00" width="0.70" height="3.20" fill="#1f4f86"/>
<rect x="144.70" y="232.00" width="0.70" height="3.20" fill="#1f4f86"/>
<rect x="149.70" y="232.00" width="0.70" height="3.20" fill="#1f4f86"/>
<rect x="170.70" y="232.00" width="0.70" height="3.20" fill="#1f4f86"/>
<rect x="174.70" y="232.00" width="0.70" height="3.20" fill="#1f4f86"/>
<rect x="194.70" y="232.00" width="0.70" height="3.20" fill="#1f4f86"/>
<rect x="218.70" y="232.00" width="0.70" height="3.20" fill="#1f4f86"/>
<rect x="54.40" y="232.40" width="2.60" height="2.40" fill="#1f4f86"/>
<line x1="54.40" y1="244.70" x2="124.60" y2="244.70" stroke="#7d95b5" stroke-width="0.7" />
<path d="M58.4,243.9 L57.4,244.7 L58.4,245.5" fill="none" stroke="#7d95b5" stroke-width="0.4"/>
<path d="M62.7,243.9 L61.7,244.7 L62.7,245.5" fill="none" stroke="#7d95b5" stroke-width="0.4"/>
<path d="M67.0,243.9 L66.0,244.7 L67.0,245.5" fill="none" stroke="#7d95b5" stroke-width="0.4"/>
<path d="M71.3,243.9 L70.3,244.7 L71.3,245.5" fill="none" stroke="#7d95b5" stroke-width="0.4"/>
<path d="M75.6,243.9 L74.6,244.7 L75.6,245.5" fill="none" stroke="#7d95b5" stroke-width="0.4"/>
<path d="M79.9,243.9 L78.9,244.7 L79.9,245.5" fill="none" stroke="#7d95b5" stroke-width="0.4"/>
<path d="M84.2,243.9 L83.2,244.7 L84.2,245.5" fill="none" stroke="#7d95b5" stroke-width="0.4"/>
<path d="M88.5,243.9 L87.5,244.7 L88.5,245.5" fill="none" stroke="#7d95b5" stroke-width="0.4"/>
<path d="M92.8,243.9 L91.8,244.7 L92.8,245.5" fill="none" stroke="#7d95b5" stroke-width="0.4"/>
<path d="M97.1,243.9 L96.1,244.7 L97.1,245.5" fill="none" stroke="#7d95b5" stroke-width="0.4"/>
<path d="M101.4,243.9 L100.4,244.7 L101.4,245.5" fill="none" stroke="#7d95b5" stroke-width="0.4"/>
<path d="M105.7,243.9 L104.7,244.7 L105.7,245.5" fill="none" stroke="#7d95b5" stroke-width="0.4"/>
<path d="M110.0,243.9 L109.0,244.7 L110.0,245.5" fill="none" stroke="#7d95b5" stroke-width="0.4"/>
<path d="M114.3,243.9 L113.3,244.7 L114.3,245.5" fill="none" stroke="#7d95b5" stroke-width="0.4"/>
<path d="M118.6,243.9 L117.6,244.7 L118.6,245.5" fill="none" stroke="#7d95b5" stroke-width="0.4"/>
<rect x="59.70" y="243.10" width="0.70" height="3.20" fill="#1f4f86"/>
<rect x="65.70" y="243.10" width="0.70" height="3.20" fill="#1f4f86"/>
<rect x="71.70" y="243.10" width="0.70" height="3.20" fill="#1f4f86"/>
<rect x="81.70" y="243.10" width="0.70" height="3.20" fill="#1f4f86"/>
<rect x="95.70" y="243.10" width="0.70" height="3.20" fill="#1f4f86"/>
<rect x="99.70" y="243.10" width="0.70" height="3.20" fill="#1f4f86"/>
<rect x="117.70" y="243.10" width="0.70" height="3.20" fill="#1f4f86"/>
<rect x="54.40" y="243.50" width="2.60" height="2.40" fill="#1f4f86"/>
<rect x="123.20" y="243.40" width="1.80" height="2.60" fill="#1f4f86"/>
<line x1="77.50" y1="256.20" x2="124.60" y2="256.20" stroke="#7d95b5" stroke-width="0.7" />
<path d="M81.5,255.4 L80.5,256.2 L81.5,257.0" fill="none" stroke="#7d95b5" stroke-width="0.4"/>
<path d="M85.8,255.4 L84.8,256.2 L85.8,257.0" fill="none" stroke="#7d95b5" stroke-width="0.4"/>
<path d="M90.1,255.4 L89.1,256.2 L90.1,257.0" fill="none" stroke="#7d95b5" stroke-width="0.4"/>
<path d="M94.4,255.4 L93.4,256.2 L94.4,257.0" fill="none" stroke="#7d95b5" stroke-width="0.4"/>
<path d="M98.7,255.4 L97.7,256.2 L98.7,257.0" fill="none" stroke="#7d95b5" stroke-width="0.4"/>
<path d="M103.0,255.4 L102.0,256.2 L103.0,257.0" fill="none" stroke="#7d95b5" stroke-width="0.4"/>
<path d="M107.3,255.4 L106.3,256.2 L107.3,257.0" fill="none" stroke="#7d95b5" stroke-width="0.4"/>
<path d="M111.6,255.4 L110.6,256.2 L111.6,257.0" fill="none" stroke="#7d95b5" stroke-width="0.4"/>
<path d="M115.9,255.4 L114.9,256.2 L115.9,257.0" fill="none" stroke="#7d95b5" stroke-width="0.4"/>
<path d="M120.2,255.4 L119.2,256.2 L120.2,257.0" fill="none" stroke="#7d95b5" stroke-width="0.4"/>
<rect x="77.70" y="254.60" width="0.70" height="3.20" fill="#1f4f86"/>
<rect x="95.70" y="254.60" width="0.70" height="3.20" fill="#1f4f86"/>
<rect x="99.70" y="254.60" width="0.70" height="3.20" fill="#1f4f86"/>
<rect x="117.70" y="254.60" width="0.70" height="3.20" fill="#1f4f86"/>
<rect x="123.20" y="254.90" width="1.80" height="2.60" fill="#1f4f86"/>
<text x="240.90" y="236.48" font-size="7.2" fill="#2a2a2a" textLength="30.50" lengthAdjust="spacingAndGlyphs">RUNX1_C</text>
<text x="134.00" y="246.57" font-size="6.9" fill="#2a2a2a" textLength="30.50" lengthAdjust="spacingAndGlyphs">RUNX1_B</text>
<text x="133.50" y="258.17" font-size="6.9" fill="#2a2a2a" textLength="31.00" lengthAdjust="spacingAndGlyphs">RUNX1_A</text>
<polyline points="186.80,246.00 186.80,256.00 174.20,256.00" fill="none" stroke="#231f20" stroke-width="1.0" />
<path d="M171.20,256.00 L176.40,253.40 L175.20,256.00 L176.40,258.60 Z" fill="#231f20"/>
<text x="195.50" y="251.97" font-size="6.9" fill="#2a2a2a" textLength="51.20" lengthAdjust="spacingAndGlyphs">Chr 21  - 340 Kb</text>
<line x1="335.00" y1="228.60" x2="451.30" y2="228.60" stroke="#6f8fb5" stroke-width="0.7" />
<path d="M339.0,227.8 L338.0,228.6 L339.0,229.4" fill="none" stroke="#6f8fb5" stroke-width="0.4"/>
<path d="M343.3,227.8 L342.3,228.6 L343.3,229.4" fill="none" stroke="#6f8fb5" stroke-width="0.4"/>
<path d="M347.6,227.8 L346.6,228.6 L347.6,229.4" fill="none" stroke="#6f8fb5" stroke-width="0.4"/>
<path d="M351.9,227.8 L350.9,228.6 L351.9,229.4" fill="none" stroke="#6f8fb5" stroke-width="0.4"/>
<path d="M356.2,227.8 L355.2,228.6 L356.2,229.4" fill="none" stroke="#6f8fb5" stroke-width="0.4"/>
<path d="M360.5,227.8 L359.5,228.6 L360.5,229.4" fill="none" stroke="#6f8fb5" stroke-width="0.4"/>
<path d="M364.8,227.8 L363.8,228.6 L364.8,229.4" fill="none" stroke="#6f8fb5" stroke-width="0.4"/>
<path d="M369.1,227.8 L368.1,228.6 L369.1,229.4" fill="none" stroke="#6f8fb5" stroke-width="0.4"/>
<path d="M373.4,227.8 L372.4,228.6 L373.4,229.4" fill="none" stroke="#6f8fb5" stroke-width="0.4"/>
<path d="M377.7,227.8 L376.7,228.6 L377.7,229.4" fill="none" stroke="#6f8fb5" stroke-width="0.4"/>
<path d="M382.0,227.8 L381.0,228.6 L382.0,229.4" fill="none" stroke="#6f8fb5" stroke-width="0.4"/>
<path d="M386.3,227.8 L385.3,228.6 L386.3,229.4" fill="none" stroke="#6f8fb5" stroke-width="0.4"/>
<path d="M390.6,227.8 L389.6,228.6 L390.6,229.4" fill="none" stroke="#6f8fb5" stroke-width="0.4"/>
<path d="M394.9,227.8 L393.9,228.6 L394.9,229.4" fill="none" stroke="#6f8fb5" stroke-width="0.4"/>
<path d="M399.2,227.8 L398.2,228.6 L399.2,229.4" fill="none" stroke="#6f8fb5" stroke-width="0.4"/>
<path d="M403.5,227.8 L402.5,228.6 L403.5,229.4" fill="none" stroke="#6f8fb5" stroke-width="0.4"/>
<path d="M407.8,227.8 L406.8,228.6 L407.8,229.4" fill="none" stroke="#6f8fb5" stroke-width="0.4"/>
<path d="M412.1,227.8 L411.1,228.6 L412.1,229.4" fill="none" stroke="#6f8fb5" stroke-width="0.4"/>
<path d="M416.4,227.8 L415.4,228.6 L416.4,229.4" fill="none" stroke="#6f8fb5" stroke-width="0.4"/>
<path d="M420.7,227.8 L419.7,228.6 L420.7,229.4" fill="none" stroke="#6f8fb5" stroke-width="0.4"/>
<path d="M425.0,227.8 L424.0,228.6 L425.0,229.4" fill="none" stroke="#6f8fb5" stroke-width="0.4"/>
<path d="M429.3,227.8 L428.3,228.6 L429.3,229.4" fill="none" stroke="#6f8fb5" stroke-width="0.4"/>
<path d="M433.6,227.8 L432.6,228.6 L433.6,229.4" fill="none" stroke="#6f8fb5" stroke-width="0.4"/>
<path d="M437.9,227.8 L436.9,228.6 L437.9,229.4" fill="none" stroke="#6f8fb5" stroke-width="0.4"/>
<path d="M442.2,227.8 L441.2,228.6 L442.2,229.4" fill="none" stroke="#6f8fb5" stroke-width="0.4"/>
<path d="M446.5,227.8 L445.5,228.6 L446.5,229.4" fill="none" stroke="#6f8fb5" stroke-width="0.4"/>
<rect x="365.70" y="227.00" width="0.70" height="3.20" fill="#1f4f86"/>
<rect x="377.00" y="227.00" width="0.70" height="3.20" fill="#1f4f86"/>
<rect x="397.00" y="227.00" width="0.70" height="3.20" fill="#1f4f86"/>
<rect x="399.50" y="227.00" width="0.70" height="3.20" fill="#1f4f86"/>
<rect x="450.70" y="227.00" width="0.70" height="3.20" fill="#1f4f86"/>
<rect x="335.00" y="227.40" width="18.70" height="2.40" fill="#1f4f86"/>
<polyline points="459.60,227.20 459.60,238.30 446.90,238.30" fill="none" stroke="#231f20" stroke-width="1.0" />
<path d="M443.90,238.30 L449.10,235.70 L447.90,238.30 L449.10,240.90 Z" fill="#231f20"/>
<text x="418.00" y="240.67" font-size="6.9" fill="#2a2a2a" textLength="20.80" lengthAdjust="spacingAndGlyphs">BLACE</text>
<text x="467.40" y="234.67" font-size="6.9" fill="#2a2a2a" textLength="44.00" lengthAdjust="spacingAndGlyphs">Chr 7  - 17 Kb</text>
<text x="7.00" y="274.11" font-size="7.3" fill="#3a3a3a" textLength="22.50" lengthAdjust="spacingAndGlyphs">[0 - 57]</text>
<text x="7.00" y="287.51" font-size="7.3" fill="#3a3a3a" textLength="22.50" lengthAdjust="spacingAndGlyphs">[0 - 57]</text>
<text x="7.00" y="301.31" font-size="7.3" fill="#3a3a3a" textLength="22.50" lengthAdjust="spacingAndGlyphs">[0 - 28]</text>
<text x="7.00" y="314.31" font-size="7.3" fill="#3a3a3a" textLength="22.50" lengthAdjust="spacingAndGlyphs">[0 - 28]</text>
<text x="486.00" y="273.51" font-size="7.3" fill="#3a3a3a" textLength="23.00" lengthAdjust="spacingAndGlyphs">[0 - 23]</text>
<text x="486.00" y="286.31" font-size="7.3" fill="#3a3a3a" textLength="23.00" lengthAdjust="spacingAndGlyphs">[0 - 23]</text>
<text x="486.00" y="300.51" font-size="7.3" fill="#3a3a3a" textLength="23.00" lengthAdjust="spacingAndGlyphs">[0 - 13]</text>
<text x="486.00" y="314.51" font-size="7.3" fill="#3a3a3a" textLength="23.00" lengthAdjust="spacingAndGlyphs">[0 - 13]</text>
<line x1="29.50" y1="278.10" x2="275.00" y2="278.10" stroke="#b9bfc8" stroke-width="0.9" />
<path d="M29.50,277.80 L29.50,277.80 L30.00,277.80 L30.50,277.80 L31.00,277.80 L31.50,277.80 L32.00,277.80 L32.50,277.80 L33.00,277.80 L33.50,277.80 L34.00,277.80 L34.50,277.80 L35.00,277.80 L35.50,277.80 L36.00,277.80 L36.50,277.80 L37.00,277.80 L37.50,277.80 L38.00,277.80 L38.50,277.80 L39.00,277.80 L39.50,277.80 L40.00,277.80 L40.50,277.80 L41.00,277.80 L41.50,277.80 L42.00,277.80 L42.50,277.80 L43.00,277.80 L43.50,277.80 L44.00,277.80 L44.50,277.80 L45.00,277.80 L45.50,277.79 L46.00,277.56 L46.50,276.27 L47.00,274.40 L47.50,273.68 L48.00,276.84 L48.50,277.65 L49.00,277.79 L49.50,277.80 L50.00,277.80 L50.50,277.80 L51.00,277.80 L51.50,277.80 L52.00,277.80 L52.50,277.80 L53.00,277.80 L53.50,277.79 L54.00,277.78 L54.50,277.76 L55.00,277.71 L55.50,277.63 L56.00,277.43 L56.50,277.34 L57.00,276.88 L57.50,276.34 L58.00,276.16 L58.50,275.20 L59.00,274.03 L59.50,273.70 L60.00,272.67 L60.50,273.50 L61.00,273.37 L61.50,273.90 L62.00,273.74 L62.50,273.89 L63.00,275.12 L63.50,275.71 L64.00,276.56 L64.50,276.73 L65.00,276.47 L65.50,273.82 L66.00,269.54 L66.50,270.01 L67.00,274.57 L67.50,277.13 L68.00,277.55 L68.50,276.79 L69.00,275.26 L69.50,274.97 L70.00,277.05 L70.50,277.68 L71.00,277.76 L71.50,277.37 L72.00,275.54 L72.50,274.56 L73.00,275.02 L73.50,276.99 L74.00,277.70 L74.50,277.77 L75.00,277.78 L75.50,277.77 L76.00,277.77 L76.50,277.77 L77.00,277.77 L77.50,277.77 L78.00,277.77 L78.50,277.77 L79.00,277.76 L79.50,277.76 L80.00,277.76 L80.50,277.76 L81.00,277.76 L81.50,277.75 L82.00,277.75 L82.50,277.75 L83.00,277.75 L83.50,277.74 L84.00,277.74 L84.50,277.74 L85.00,277.74 L85.50,277.73 L86.00,277.73 L86.50,277.73 L87.00,277.72 L87.50,277.72 L88.00,277.72 L88.50,277.71 L89.00,277.71 L89.50,277.71 L90.00,277.70 L90.50,277.70 L91.00,277.70 L91.50,277.69 L92.00,277.69 L92.50,277.68 L93.00,277.68 L93.50,277.68 L94.00,277.67 L94.50,277.67 L95.00,277.66 L95.50,277.66 L96.00,277.65 L96.50,277.68 L97.00,277.65 L97.50,277.61 L98.00,277.66 L98.50,277.63 L99.00,277.65 L99.50,277.62 L100.00,277.59 L100.50,277.64 L101.00,277.65 L101.50,277.64 L102.00,277.60 L102.50,277.63 L103.00,277.63 L103.50,277.59 L104.00,277.55 L104.50,277.58 L105.00,277.58 L105.50,277.56 L106.00,277.60 L106.50,277.55 L107.00,277.59 L107.50,277.54 L108.00,277.50 L108.50,277.59 L109.00,277.54 L109.50,277.53 L110.00,277.57 L110.50,277.56 L111.00,277.48 L111.50,277.47 L112.00,277.57 L112.50,277.50 L113.00,277.47 L113.50,277.55 L114.00,277.50 L114.50,277.56 L115.00,277.52 L115.50,277.49 L116.00,277.50 L116.50,277.47 L117.00,277.55 L117.50,277.52 L118.00,277.46 L118.50,277.49 L119.00,277.51 L119.50,277.51 L120.00,277.44 L120.50,277.49 L121.00,277.56 L121.50,277.47 L122.00,277.52 L122.50,277.51 L123.00,277.54 L123.50,277.51 L124.00,277.53 L124.50,277.56 L125.00,277.49 L125.50,277.56 L126.00,277.48 L126.50,277.57 L127.00,277.49 L127.50,277.49 L128.00,277.52 L128.50,277.50 L129.00,277.56 L129.50,277.51 L130.00,277.54 L130.50,277.57 L131.00,277.49 L131.50,277.56 L132.00,277.56 L132.50,277.52 L133.00,277.57 L133.50,277.55 L134.00,277.60 L134.50,277.54 L135.00,277.60 L135.50,277.62 L136.00,277.54 L136.50,277.61 L137.00,277.55 L137.50,277.56 L138.00,277.59 L138.50,277.64 L139.00,277.64 L139.50,277.63 L140.00,277.62 L140.50,277.61 L141.00,277.59 L141.50,277.63 L142.00,277.65 L142.50,277.61 L143.00,277.63 L143.50,277.63 L144.00,277.57 L144.50,277.53 L145.00,277.56 L145.50,277.48 L146.00,277.39 L146.50,277.33 L147.00,277.34 L147.50,277.18 L148.00,277.29 L148.50,277.11 L149.00,277.05 L149.50,277.00 L150.00,277.10 L150.50,277.22 L151.00,277.26 L151.50,277.18 L152.00,277.31 L152.50,277.27 L153.00,277.43 L153.50,277.38 L154.00,277.52 L154.50,277.59 L155.00,277.61 L155.50,277.63 L156.00,277.66 L156.50,277.69 L157.00,277.71 L157.50,277.72 L158.00,277.73 L158.50,277.74 L159.00,277.75 L159.50,277.75 L160.00,277.76 L160.50,277.76 L161.00,277.76 L161.50,277.76 L162.00,277.77 L162.50,277.77 L163.00,277.77 L163.50,277.77 L164.00,277.77 L164.50,277.77 L165.00,277.78 L165.50,277.78 L166.00,277.78 L166.50,277.78 L167.00,277.78 L167.50,277.78 L168.00,277.78 L168.50,277.78 L169.00,277.79 L169.50,277.79 L170.00,277.79 L170.50,277.79 L171.00,277.79 L171.50,277.79 L172.00,277.79 L172.50,277.79 L173.00,277.79 L173.50,277.79 L174.00,277.79 L174.50,277.79 L175.00,277.79 L175.50,277.79 L176.00,277.79 L176.50,277.79 L177.00,277.79 L177.50,277.80 L178.00,277.80 L178.50,277.80 L179.00,277.80 L179.50,277.80 L180.00,277.80 L180.50,277.80 L181.00,277.80 L181.50,277.80 L182.00,277.80 L182.50,277.80 L183.00,277.80 L183.50,277.80 L184.00,277.80 L184.50,277.80 L185.00,277.80 L185.50,277.79 L186.00,277.63 L186.50,276.64 L187.00,273.84 L187.50,269.35 L188.00,268.44 L188.50,274.05 L189.00,276.79 L189.50,277.70 L190.00,277.79 L190.50,277.80 L191.00,277.80 L191.50,277.80 L192.00,277.80 L192.50,277.80 L193.00,277.80 L193.50,277.80 L194.00,277.80 L194.50,277.80 L195.00,277.80 L195.50,277.80 L196.00,277.80 L196.50,277.80 L197.00,277.80 L197.50,277.80 L198.00,277.80 L198.50,277.80 L199.00,277.80 L199.50,277.80 L200.00,277.80 L200.50,277.80 L201.00,277.80 L201.50,277.80 L202.00,277.80 L202.50,277.80 L203.00,277.80 L203.50,277.80 L204.00,277.80 L204.50,277.80 L205.00,277.80 L205.50,277.80 L206.00,277.80 L206.50,277.80 L207.00,277.80 L207.50,277.80 L208.00,277.80 L208.50,277.80 L209.00,277.80 L209.50,277.80 L210.00,277.80 L210.50,277.77 L211.00,277.47 L211.50,275.62 L212.00,274.33 L212.50,275.95 L213.00,277.39 L213.50,277.77 L214.00,277.80 L214.50,277.80 L215.00,277.80 L215.50,277.80 L216.00,277.80 L216.50,277.80 L217.00,277.80 L217.50,277.80 L218.00,277.80 L218.50,277.80 L219.00,277.80 L219.50,277.80 L220.00,277.80 L220.50,277.80 L221.00,277.79 L221.50,277.79 L222.00,277.79 L222.50,277.78 L223.00,277.77 L223.50,277.75 L224.00,277.73 L224.50,277.71 L225.00,277.68 L225.50,277.64 L226.00,277.56 L226.50,277.59 L227.00,277.48 L227.50,277.44 L228.00,277.43 L228.50,277.32 L229.00,277.29 L229.50,277.39 L230.00,277.26 L230.50,277.32 L231.00,277.33 L231.50,277.33 L232.00,277.47 L232.50,277.43 L233.00,277.51 L233.50,277.51 L234.00,277.62 L234.50,277.62 L235.00,277.68 L235.50,277.71 L236.00,277.73 L236.50,277.75 L237.00,277.77 L237.50,277.78 L238.00,277.79 L238.50,277.79 L239.00,277.79 L239.50,277.80 L240.00,277.80 L240.50,277.80 L241.00,277.80 L241.50,277.80 L242.00,277.80 L242.50,277.80 L243.00,277.80 L243.50,277.80 L244.00,277.80 L244.50,277.80 L245.00,277.80 L245.50,277.80 L246.00,277.80 L246.50,277.80 L247.00,277.80 L247.50,277.80 L248.00,277.80 L248.50,277.80 L249.00,277.80 L249.50,277.80 L250.00,277.80 L250.50,277.80 L251.00,277.80 L251.50,277.80 L252.00,277.80 L252.50,277.80 L253.00,277.80 L253.50,277.80 L254.00,277.80 L254.50,277.80 L255.00,277.80 L255.50,277.80 L256.00,277.80 L256.50,277.80 L257.00,277.79 L257.50,277.79 L258.00,277.78 L258.50,277.77 L259.00,277.74 L259.50,277.71 L260.00,277.66 L260.50,277.56 L261.00,277.45 L261.50,277.25 L262.00,277.25 L262.50,276.83 L263.00,276.50 L263.50,276.06 L264.00,275.82 L264.50,275.70 L265.00,275.14 L265.50,274.11 L266.00,274.30 L266.50,274.14 L267.00,273.30 L267.50,272.81 L268.00,272.46 L268.50,273.37 L269.00,271.44 L269.50,272.15 L270.00,270.64 L270.50,272.39 L271.00,269.75 L271.50,271.03 L272.00,270.85 L272.50,272.03 L273.00,273.64 L273.50,275.63 L274.00,276.23 L274.50,276.89 L275.00,277.14 L275.00,277.80 Z" fill="#1f5894"/>
<line x1="29.50" y1="291.20" x2="275.00" y2="291.20" stroke="#b9bfc8" stroke-width="0.9" />
<path d="M29.50,290.90 L29.50,290.89 L30.00,290.89 L30.50,290.89 L31.00,290.89 L31.50,290.89 L32.00,290.88 L32.50,290.88 L33.00,290.88 L33.50,290.88 L34.00,290.87 L34.50,290.87 L35.00,290.86 L35.50,290.86 L36.00,290.86 L36.50,290.85 L37.00,290.84 L37.50,290.84 L38.00,290.83 L38.50,290.82 L39.00,290.81 L39.50,290.80 L40.00,290.79 L40.50,290.78 L41.00,290.77 L41.50,290.76 L42.00,290.73 L42.50,290.74 L43.00,290.70 L43.50,290.74 L44.00,290.62 L44.50,290.60 L45.00,290.61 L45.50,290.70 L46.00,290.59 L46.50,290.62 L47.00,290.63 L47.50,290.40 L48.00,290.36 L48.50,290.64 L49.00,290.34 L49.50,290.40 L50.00,290.46 L50.50,290.48 L51.00,290.29 L51.50,290.36 L52.00,290.23 L52.50,290.22 L53.00,290.46 L53.50,290.11 L54.00,289.97 L54.50,289.95 L55.00,290.13 L55.50,290.44 L56.00,290.45 L56.50,290.37 L57.00,289.87 L57.50,290.25 L58.00,290.20 L58.50,289.86 L59.00,290.22 L59.50,290.07 L60.00,290.14 L60.50,290.38 L61.00,290.05 L61.50,289.89 L62.00,290.33 L62.50,290.30 L63.00,290.19 L63.50,290.43 L64.00,290.16 L64.50,289.99 L65.00,290.10 L65.50,290.19 L66.00,290.04 L66.50,290.43 L67.00,290.24 L67.50,290.36 L68.00,290.27 L68.50,290.52 L69.00,290.25 L69.50,290.55 L70.00,290.54 L70.50,290.33 L71.00,290.31 L71.50,290.51 L72.00,290.54 L72.50,290.61 L73.00,290.62 L73.50,290.55 L74.00,290.68 L74.50,290.71 L75.00,290.65 L75.50,290.72 L76.00,290.65 L76.50,290.64 L77.00,290.67 L77.50,290.73 L78.00,290.76 L78.50,290.76 L79.00,290.77 L79.50,290.78 L80.00,290.79 L80.50,290.80 L81.00,290.81 L81.50,290.82 L82.00,290.83 L82.50,290.84 L83.00,290.84 L83.50,290.85 L84.00,290.86 L84.50,290.86 L85.00,290.86 L85.50,290.87 L86.00,290.87 L86.50,290.88 L87.00,290.88 L87.50,290.88 L88.00,290.88 L88.50,290.89 L89.00,290.89 L89.50,290.89 L90.00,290.89 L90.50,290.89 L91.00,290.89 L91.50,290.89 L92.00,290.90 L92.50,290.90 L93.00,290.90 L93.50,290.90 L94.00,290.90 L94.50,290.90 L95.00,290.90 L95.50,290.90 L96.00,290.90 L96.50,290.90 L97.00,290.90 L97.50,290.90 L98.00,290.90 L98.50,290.90 L99.00,290.90 L99.50,290.90 L100.00,290.90 L100.50,290.90 L101.00,290.90 L101.50,290.90 L102.00,290.90 L102.50,290.90 L103.00,290.90 L103.50,290.90 L104.00,290.90 L104.50,290.90 L105.00,290.90 L105.50,290.90 L106.00,290.90 L106.50,290.90 L107.00,290.90 L107.50,290.90 L108.00,290.90 L108.50,290.90 L109.00,290.90 L109.50,290.90 L110.00,290.90 L110.50,290.90 L111.00,290.90 L111.50,290.90 L112.00,290.90 L112.50,290.90 L113.00,290.90 L113.50,290.90 L114.00,290.90 L114.50,290.90 L115.00,290.90 L115.50,290.90 L116.00,290.90 L116.50,290.90 L117.00,290.90 L117.50,290.90 L118.00,290.90 L118.50,290.90 L119.00,290.90 L119.50,290.90 L120.00,290.90 L120.50,290.90 L121.00,290.90 L121.50,290.90 L122.00,290.90 L122.50,290.90 L123.00,290.90 L123.50,290.90 L124.00,290.90 L124.50,290.90 L125.00,290.90 L125.50,290.90 L126.00,290.90 L126.50,290.90 L127.00,290.90 L127.50,290.90 L128.00,290.90 L128.50,290.90 L129.00,290.90 L129.50,290.90 L130.00,290.90 L130.50,290.90 L131.00,290.90 L131.50,290.90 L132.00,290.90 L132.50,290.90 L133.00,290.90 L133.50,290.90 L134.00,290.90 L134.50,290.90 L135.00,290.90 L135.50,290.90 L136.00,290.90 L136.50,290.90 L137.00,290.90 L137.50,290.90 L138.00,290.90 L138.50,290.90 L139.00,290.90 L139.50,290.90 L140.00,290.90 L140.50,290.90 L141.00,290.90 L141.50,290.90 L142.00,290.90 L142.50,290.90 L143.00,290.90 L143.50,290.90 L144.00,290.90 L144.50,290.90 L145.00,290.90 L145.50,290.90 L146.00,290.90 L146.50,290.90 L147.00,290.90 L147.50,290.90 L148.00,290.90 L148.50,290.90 L149.00,290.90 L149.50,290.90 L150.00,290.90 L150.50,290.90 L151.00,290.90 L151.50,290.90 L152.00,290.90 L152.50,290.90 L153.00,290.90 L153.50,290.90 L154.00,290.90 L154.50,290.90 L155.00,290.90 L155.50,290.90 L156.00,290.90 L156.50,290.90 L157.00,290.90 L157.50,290.90 L158.00,290.90 L158.50,290.90 L159.00,290.90 L159.50,290.90 L160.00,290.90 L160.50,290.90 L161.00,290.90 L161.50,290.90 L162.00,290.90 L162.50,290.90 L163.00,290.90 L163.50,290.90 L164.00,290.90 L164.50,290.90 L165.00,290.90 L165.50,290.90 L166.00,290.90 L166.50,290.90 L167.00,290.90 L167.50,290.90 L168.00,290.90 L168.50,290.90 L169.00,290.90 L169.50,290.90 L170.00,290.90 L170.50,290.90 L171.00,290.90 L171.50,290.90 L172.00,290.90 L172.50,290.90 L173.00,290.90 L173.50,290.90 L174.00,290.90 L174.50,290.90 L175.00,290.90 L175.50,290.90 L176.00,290.90 L176.50,290.90 L177.00,290.90 L177.50,290.90 L178.00,290.90 L178.50,290.90 L179.00,290.90 L179.50,290.90 L180.00,290.90 L180.50,290.90 L181.00,290.90 L181.50,290.90 L182.00,290.90 L182.50,290.90 L183.00,290.90 L183.50,290.90 L184.00,290.90 L184.50,290.90 L185.00,290.90 L185.50,290.90 L186.00,290.90 L186.50,290.82 L187.00,290.37 L187.50,290.06 L188.00,289.43 L188.50,290.54 L189.00,290.85 L189.50,290.90 L190.00,290.90 L190.50,290.90 L191.00,290.90 L191.50,290.90 L192.00,290.90 L192.50,290.90 L193.00,290.90 L193.50,290.90 L194.00,290.90 L194.50,290.90 L195.00,290.90 L195.50,290.90 L196.00,290.90 L196.50,290.90 L197.00,290.90 L197.50,290.90 L198.00,290.90 L198.50,290.90 L199.00,290.90 L199.50,290.90 L200.00,290.90 L200.50,290.90 L201.00,290.90 L201.50,290.90 L202.00,290.90 L202.50,290.90 L203.00,290.90 L203.50,290.90 L204.00,290.90 L204.50,290.90 L205.00,290.90 L205.50,290.90 L206.00,290.90 L206.50,290.90 L207.00,290.90 L207.50,290.90 L208.00,290.90 L208.50,290.90 L209.00,290.90 L209.50,290.90 L210.00,290.90 L210.50,290.90 L211.00,290.90 L211.50,290.90 L212.00,290.90 L212.50,290.90 L213.00,290.90 L213.50,290.90 L214.00,290.90 L214.50,290.90 L215.00,290.90 L215.50,290.90 L216.00,290.90 L216.50,290.90 L217.00,290.90 L217.50,290.90 L218.00,290.90 L218.50,290.90 L219.00,290.90 L219.50,290.90 L220.00,290.90 L220.50,290.90 L221.00,290.90 L221.50,290.90 L222.00,290.90 L222.50,290.90 L223.00,290.90 L223.50,290.90 L224.00,290.90 L224.50,290.90 L225.00,290.90 L225.50,290.90 L226.00,290.90 L226.50,290.90 L227.00,290.90 L227.50,290.90 L228.00,290.90 L228.50,290.90 L229.00,290.90 L229.50,290.90 L230.00,290.90 L230.50,290.90 L231.00,290.90 L231.50,290.90 L232.00,290.90 L232.50,290.90 L233.00,290.90 L233.50,290.90 L234.00,290.90 L234.50,290.90 L235.00,290.90 L235.50,290.90 L236.00,290.90 L236.50,290.90 L237.00,290.90 L237.50,290.90 L238.00,290.90 L238.50,290.90 L239.00,290.90 L239.50,290.90 L240.00,290.90 L240.50,290.90 L241.00,290.89 L241.50,290.89 L242.00,290.89 L242.50,290.88 L243.00,290.87 L243.50,290.85 L244.00,290.83 L244.50,290.81 L245.00,290.78 L245.50,290.76 L246.00,290.76 L246.50,290.66 L247.00,290.58 L247.50,290.58 L248.00,290.38 L248.50,290.40 L249.00,290.52 L249.50,290.40 L250.00,290.24 L250.50,290.40 L251.00,290.39 L251.50,290.61 L252.00,290.50 L252.50,290.56 L253.00,290.62 L253.50,290.66 L254.00,290.68 L254.50,290.73 L255.00,290.78 L255.50,290.81 L256.00,290.83 L256.50,290.85 L257.00,290.87 L257.50,290.87 L258.00,290.88 L258.50,290.88 L259.00,290.88 L259.50,290.87 L260.00,290.86 L260.50,290.83 L261.00,290.80 L261.50,290.76 L262.00,290.70 L262.50,290.70 L263.00,290.54 L263.50,290.23 L264.00,290.33 L264.50,290.42 L265.00,290.35 L265.50,289.81 L266.00,290.13 L266.50,290.01 L267.00,289.93 L267.50,289.48 L268.00,288.81 L268.50,289.44 L269.00,289.53 L269.50,289.64 L270.00,289.70 L270.50,289.88 L271.00,289.83 L271.50,289.90 L272.00,290.19 L272.50,290.44 L273.00,290.48 L273.50,290.53 L274.00,290.75 L274.50,290.76 L275.00,290.80 L275.00,290.90 Z" fill="#1f5894"/>
<line x1="29.50" y1="303.80" x2="275.00" y2="303.80" stroke="#b9bfc8" stroke-width="0.9" />
<path d="M29.50,303.50 L29.50,303.50 L30.00,303.50 L30.50,294.76 L31.00,294.18 L31.50,292.21 L32.00,294.69 L32.50,294.46 L33.00,294.03 L33.50,296.20 L34.00,294.44 L34.50,294.66 L35.00,293.86 L35.50,297.30 L36.00,296.27 L36.50,297.31 L37.00,293.78 L37.50,294.35 L38.00,296.97 L38.50,291.90 L39.00,291.99 L39.50,293.67 L40.00,293.88 L40.50,296.35 L41.00,297.12 L41.50,294.35 L42.00,303.50 L42.50,303.50 L43.00,303.50 L43.50,302.03 L44.00,301.87 L44.50,301.81 L45.00,302.06 L45.50,303.50 L46.00,303.50 L46.50,303.50 L47.00,303.50 L47.50,303.50 L48.00,302.72 L48.50,302.73 L49.00,302.54 L49.50,302.69 L50.00,302.63 L50.50,302.70 L51.00,302.62 L51.50,302.72 L52.00,302.81 L52.50,302.46 L53.00,302.46 L53.50,302.54 L54.00,302.60 L54.50,302.79 L55.00,302.83 L55.50,302.80 L56.00,302.91 L56.50,302.57 L57.00,302.75 L57.50,302.53 L58.00,302.75 L58.50,302.48 L59.00,302.53 L59.50,302.94 L60.00,302.84 L60.50,302.50 L61.00,302.71 L61.50,302.47 L62.00,302.75 L62.50,302.90 L63.00,302.64 L63.50,302.57 L64.00,302.81 L64.50,302.90 L65.00,302.78 L65.50,302.48 L66.00,302.58 L66.50,302.88 L67.00,302.82 L67.50,302.89 L68.00,302.91 L68.50,302.56 L69.00,302.85 L69.50,302.67 L70.00,302.73 L70.50,302.85 L71.00,302.59 L71.50,302.88 L72.00,302.63 L72.50,302.88 L73.00,302.74 L73.50,302.84 L74.00,302.81 L74.50,302.47 L75.00,302.55 L75.50,302.79 L76.00,302.52 L76.50,302.84 L77.00,302.75 L77.50,302.53 L78.00,302.63 L78.50,302.89 L79.00,302.47 L79.50,302.84 L80.00,302.82 L80.50,302.57 L81.00,302.78 L81.50,302.80 L82.00,302.90 L82.50,302.90 L83.00,302.66 L83.50,302.82 L84.00,302.65 L84.50,302.76 L85.00,302.72 L85.50,302.48 L86.00,302.71 L86.50,302.66 L87.00,302.52 L87.50,302.85 L88.00,302.87 L88.50,302.50 L89.00,302.55 L89.50,302.82 L90.00,302.85 L90.50,302.59 L91.00,302.49 L91.50,302.85 L92.00,302.48 L92.50,302.52 L93.00,302.65 L93.50,302.74 L94.00,302.89 L94.50,302.92 L95.00,302.48 L95.50,302.83 L96.00,302.60 L96.50,302.82 L97.00,302.54 L97.50,302.65 L98.00,302.80 L98.50,302.85 L99.00,302.46 L99.50,302.54 L100.00,301.94 L100.50,301.50 L101.00,301.79 L101.50,302.47 L102.00,302.79 L102.50,302.50 L103.00,302.84 L103.50,302.93 L104.00,302.81 L104.50,302.73 L105.00,302.91 L105.50,302.86 L106.00,302.76 L106.50,302.67 L107.00,302.88 L107.50,302.77 L108.00,302.51 L108.50,302.47 L109.00,302.62 L109.50,302.61 L110.00,302.66 L110.50,302.87 L111.00,302.92 L111.50,302.93 L112.00,302.50 L112.50,302.60 L113.00,302.48 L113.50,302.93 L114.00,302.63 L114.50,302.71 L115.00,302.59 L115.50,302.79 L116.00,302.46 L116.50,302.90 L117.00,302.68 L117.50,302.59 L118.00,302.51 L118.50,302.59 L119.00,302.60 L119.50,302.56 L120.00,302.50 L120.50,302.77 L121.00,302.61 L121.50,302.51 L122.00,302.52 L122.50,302.74 L123.00,302.56 L123.50,302.53 L124.00,302.67 L124.50,302.64 L125.00,302.76 L125.50,302.66 L126.00,302.65 L126.50,302.90 L127.00,302.63 L127.50,302.46 L128.00,302.52 L128.50,302.59 L129.00,302.75 L129.50,302.59 L130.00,302.66 L130.50,302.73 L131.00,302.54 L131.50,302.90 L132.00,302.58 L132.50,302.93 L133.00,302.65 L133.50,302.71 L134.00,302.83 L134.50,302.60 L135.00,302.70 L135.50,302.65 L136.00,302.50 L136.50,302.82 L137.00,302.93 L137.50,302.80 L138.00,302.61 L138.50,302.84 L139.00,302.86 L139.50,302.51 L140.00,302.62 L140.50,302.73 L141.00,302.51 L141.50,302.78 L142.00,302.62 L142.50,302.84 L143.00,302.73 L143.50,302.55 L144.00,302.50 L144.50,302.52 L145.00,302.76 L145.50,302.66 L146.00,302.79 L146.50,302.87 L147.00,302.70 L147.50,302.54 L148.00,302.53 L148.50,302.60 L149.00,302.48 L149.50,302.81 L150.00,302.86 L150.50,302.72 L151.00,302.81 L151.50,302.84 L152.00,302.74 L152.50,302.64 L153.00,302.70 L153.50,302.79 L154.00,302.54 L154.50,302.47 L155.00,302.72 L155.50,302.86 L156.00,302.66 L156.50,301.22 L157.00,301.83 L157.50,301.41 L158.00,302.28 L158.50,302.73 L159.00,302.55 L159.50,302.93 L160.00,302.87 L160.50,302.72 L161.00,302.93 L161.50,302.54 L162.00,302.83 L162.50,302.87 L163.00,302.92 L163.50,302.64 L164.00,302.73 L164.50,302.64 L165.00,302.63 L165.50,302.55 L166.00,302.48 L166.50,302.61 L167.00,302.84 L167.50,302.71 L168.00,302.85 L168.50,302.93 L169.00,302.71 L169.50,302.60 L170.00,302.85 L170.50,302.81 L171.00,302.77 L171.50,302.61 L172.00,302.69 L172.50,302.65 L173.00,302.58 L173.50,302.75 L174.00,302.56 L174.50,302.51 L175.00,302.90 L175.50,302.49 L176.00,302.59 L176.50,302.88 L177.00,302.72 L177.50,302.64 L178.00,302.50 L178.50,302.76 L179.00,302.67 L179.50,302.52 L180.00,302.56 L180.50,302.49 L181.00,302.72 L181.50,302.63 L182.00,302.84 L182.50,302.59 L183.00,302.55 L183.50,302.63 L184.00,302.60 L184.50,302.84 L185.00,302.51 L185.50,302.47 L186.00,302.47 L186.50,302.68 L187.00,302.56 L187.50,302.79 L188.00,302.50 L188.50,302.53 L189.00,302.77 L189.50,302.90 L190.00,302.73 L190.50,302.68 L191.00,302.57 L191.50,302.71 L192.00,302.93 L192.50,302.55 L193.00,302.91 L193.50,302.56 L194.00,302.86 L194.50,302.78 L195.00,302.56 L195.50,302.87 L196.00,302.87 L196.50,302.69 L197.00,302.59 L197.50,302.54 L198.00,302.61 L198.50,302.49 L199.00,302.70 L199.50,302.48 L200.00,302.90 L200.50,302.83 L201.00,302.69 L201.50,302.80 L202.00,302.59 L202.50,302.63 L203.00,302.69 L203.50,302.54 L204.00,302.67 L204.50,302.79 L205.00,302.76 L205.50,302.53 L206.00,302.50 L206.50,302.79 L207.00,302.08 L207.50,301.12 L208.00,301.17 L208.50,301.56 L209.00,302.54 L209.50,302.62 L210.00,302.69 L210.50,302.65 L211.00,302.93 L211.50,302.47 L212.00,302.69 L212.50,302.75 L213.00,302.56 L213.50,302.67 L214.00,302.70 L214.50,302.61 L215.00,302.91 L215.50,302.68 L216.00,302.74 L216.50,302.48 L217.00,302.50 L217.50,302.81 L218.00,302.71 L218.50,302.88 L219.00,302.73 L219.50,302.55 L220.00,302.51 L220.50,302.71 L221.00,302.79 L221.50,302.85 L222.00,302.64 L222.50,302.50 L223.00,302.88 L223.50,302.57 L224.00,302.93 L224.50,302.85 L225.00,302.83 L225.50,302.61 L226.00,302.79 L226.50,302.77 L227.00,302.64 L227.50,302.89 L228.00,302.59 L228.50,302.88 L229.00,302.69 L229.50,302.82 L230.00,302.85 L230.50,302.69 L231.00,302.73 L231.50,302.76 L232.00,302.74 L232.50,302.69 L233.00,302.86 L233.50,302.84 L234.00,302.64 L234.50,302.63 L235.00,302.69 L235.50,302.53 L236.00,302.65 L236.50,302.53 L237.00,302.83 L237.50,302.58 L238.00,302.55 L238.50,302.51 L239.00,302.79 L239.50,302.79 L240.00,302.50 L240.50,302.84 L241.00,302.46 L241.50,302.51 L242.00,302.88 L242.50,302.83 L243.00,302.59 L243.50,302.82 L244.00,302.89 L244.50,302.54 L245.00,302.74 L245.50,302.56 L246.00,302.88 L246.50,302.75 L247.00,302.61 L247.50,302.93 L248.00,302.84 L248.50,302.61 L249.00,302.50 L249.50,302.48 L250.00,302.88 L250.50,302.70 L251.00,302.58 L251.50,302.70 L252.00,302.61 L252.50,302.85 L253.00,302.91 L253.50,302.89 L254.00,302.92 L254.50,302.68 L255.00,302.69 L255.50,302.67 L256.00,302.87 L256.50,302.85 L257.00,302.84 L257.50,302.54 L258.00,302.46 L258.50,302.50 L259.00,302.89 L259.50,302.91 L260.00,302.48 L260.50,302.72 L261.00,302.57 L261.50,302.78 L262.00,302.72 L262.50,302.69 L263.00,302.73 L263.50,302.65 L264.00,302.93 L264.50,302.60 L265.00,302.53 L265.50,302.85 L266.00,302.72 L266.50,302.59 L267.00,302.75 L267.50,302.84 L268.00,302.79 L268.50,301.60 L269.00,299.49 L269.50,292.62 L270.00,296.82 L270.50,302.28 L271.00,303.41 L271.50,303.50 L272.00,303.50 L272.50,303.50 L273.00,303.50 L273.50,303.50 L274.00,303.50 L274.50,303.50 L275.00,303.50 L275.00,303.50 Z" fill="#1f5894"/>
<line x1="29.50" y1="316.90" x2="275.00" y2="316.90" stroke="#b9bfc8" stroke-width="0.9" />
<path d="M29.50,316.60 L29.50,316.60 L30.00,316.60 L30.50,307.93 L31.00,306.97 L31.50,306.92 L32.00,309.69 L32.50,310.38 L33.00,308.46 L33.50,308.99 L34.00,306.16 L34.50,307.69 L35.00,308.11 L35.50,308.32 L36.00,307.83 L36.50,310.30 L37.00,308.89 L37.50,310.22 L38.00,305.66 L38.50,310.13 L39.00,306.12 L39.50,310.05 L40.00,306.81 L40.50,308.66 L41.00,308.30 L41.50,305.99 L42.00,316.60 L42.50,316.60 L43.00,316.60 L43.50,315.18 L44.00,315.13 L44.50,314.10 L45.00,314.59 L45.50,316.60 L46.00,316.60 L46.50,316.60 L47.00,316.60 L47.50,316.60 L48.00,316.00 L48.50,315.57 L49.00,315.59 L49.50,315.99 L50.00,315.84 L50.50,315.98 L51.00,315.89 L51.50,315.74 L52.00,315.96 L52.50,315.71 L53.00,316.02 L53.50,315.96 L54.00,315.65 L54.50,315.85 L55.00,315.84 L55.50,315.75 L56.00,315.81 L56.50,315.86 L57.00,316.03 L57.50,315.69 L58.00,315.58 L58.50,315.57 L59.00,315.72 L59.50,315.87 L60.00,315.87 L60.50,315.71 L61.00,315.72 L61.50,315.99 L62.00,315.93 L62.50,315.87 L63.00,315.79 L63.50,315.65 L64.00,315.80 L64.50,316.03 L65.00,315.65 L65.50,315.83 L66.00,315.79 L66.50,315.93 L67.00,315.83 L67.50,315.85 L68.00,315.67 L68.50,315.99 L69.00,315.78 L69.50,315.95 L70.00,315.71 L70.50,316.02 L71.00,315.91 L71.50,315.87 L72.00,315.73 L72.50,316.02 L73.00,315.82 L73.50,315.94 L74.00,315.90 L74.50,315.81 L75.00,315.58 L75.50,315.81 L76.00,315.58 L76.50,315.96 L77.00,315.60 L77.50,315.87 L78.00,315.95 L78.50,315.68 L79.00,315.60 L79.50,316.04 L80.00,315.91 L80.50,315.67 L81.00,315.88 L81.50,315.92 L82.00,316.04 L82.50,316.02 L83.00,315.74 L83.50,315.57 L84.00,315.56 L84.50,315.80 L85.00,316.03 L85.50,315.89 L86.00,315.66 L86.50,315.64 L87.00,315.73 L87.50,315.93 L88.00,315.79 L88.50,315.81 L89.00,315.74 L89.50,315.91 L90.00,315.59 L90.50,315.61 L91.00,315.96 L91.50,315.90 L92.00,315.62 L92.50,315.91 L93.00,315.59 L93.50,315.79 L94.00,315.71 L94.50,315.70 L95.00,315.94 L95.50,315.90 L96.00,315.92 L96.50,315.71 L97.00,315.71 L97.50,315.98 L98.00,315.61 L98.50,315.83 L99.00,315.83 L99.50,315.36 L100.00,314.21 L100.50,314.60 L101.00,315.09 L101.50,315.40 L102.00,315.55 L102.50,315.67 L103.00,315.84 L103.50,315.76 L104.00,315.61 L104.50,315.66 L105.00,315.76 L105.50,315.87 L106.00,315.86 L106.50,315.69 L107.00,315.77 L107.50,316.03 L108.00,315.70 L108.50,315.61 L109.00,315.66 L109.50,315.61 L110.00,315.60 L110.50,315.78 L111.00,315.66 L111.50,315.86 L112.00,315.99 L112.50,315.87 L113.00,315.89 L113.50,315.59 L114.00,315.71 L114.50,315.78 L115.00,315.74 L115.50,315.98 L116.00,315.78 L116.50,315.70 L117.00,315.85 L117.50,315.92 L118.00,315.84 L118.50,315.88 L119.00,315.71 L119.50,315.97 L120.00,316.00 L120.50,315.89 L121.00,315.71 L121.50,315.68 L122.00,315.72 L122.50,315.59 L123.00,315.86 L123.50,316.03 L124.00,315.81 L124.50,315.83 L125.00,315.95 L125.50,315.72 L126.00,315.88 L126.50,315.93 L127.00,315.88 L127.50,315.59 L128.00,316.04 L128.50,315.87 L129.00,315.91 L129.50,315.94 L130.00,315.83 L130.50,315.93 L131.00,315.60 L131.50,315.80 L132.00,315.70 L132.50,315.96 L133.00,315.82 L133.50,315.75 L134.00,315.64 L134.50,315.92 L135.00,315.82 L135.50,315.63 L136.00,315.64 L136.50,315.93 L137.00,315.78 L137.50,315.67 L138.00,315.85 L138.50,315.72 L139.00,315.72 L139.50,315.57 L140.00,315.77 L140.50,315.71 L141.00,315.87 L141.50,315.69 L142.00,315.89 L142.50,315.80 L143.00,315.87 L143.50,315.89 L144.00,315.97 L144.50,315.93 L145.00,315.78 L145.50,315.92 L146.00,316.02 L146.50,315.65 L147.00,315.90 L147.50,315.59 L148.00,315.75 L148.50,315.85 L149.00,315.62 L149.50,315.61 L150.00,315.89 L150.50,315.98 L151.00,315.73 L151.50,315.64 L152.00,315.75 L152.50,315.66 L153.00,315.84 L153.50,315.74 L154.00,315.91 L154.50,315.84 L155.00,315.85 L155.50,315.79 L156.00,315.50 L156.50,314.40 L157.00,314.76 L157.50,315.07 L158.00,315.60 L158.50,315.49 L159.00,315.78 L159.50,316.01 L160.00,315.64 L160.50,315.62 L161.00,315.65 L161.50,315.87 L162.00,315.69 L162.50,315.89 L163.00,315.97 L163.50,315.62 L164.00,315.64 L164.50,315.94 L165.00,315.62 L165.50,316.03 L166.00,315.89 L166.50,316.03 L167.00,315.96 L167.50,315.96 L168.00,315.70 L168.50,315.90 L169.00,315.95 L169.50,315.95 L170.00,315.89 L170.50,315.63 L171.00,315.75 L171.50,315.99 L172.00,315.71 L172.50,315.78 L173.00,315.82 L173.50,315.79 L174.00,315.73 L174.50,315.66 L175.00,315.80 L175.50,315.73 L176.00,315.82 L176.50,315.74 L177.00,315.85 L177.50,315.84 L178.00,315.79 L178.50,315.70 L179.00,315.91 L179.50,315.60 L180.00,315.80 L180.50,315.63 L181.00,315.71 L181.50,315.58 L182.00,315.71 L182.50,315.84 L183.00,315.85 L183.50,315.75 L184.00,315.68 L184.50,315.64 L185.00,315.98 L185.50,316.01 L186.00,315.99 L186.50,316.00 L187.00,316.01 L187.50,316.04 L188.00,315.92 L188.50,315.99 L189.00,315.71 L189.50,315.74 L190.00,315.58 L190.50,315.58 L191.00,315.68 L191.50,315.58 L192.00,316.03 L192.50,315.93 L193.00,315.60 L193.50,315.81 L194.00,315.94 L194.50,315.68 L195.00,315.84 L195.50,315.78 L196.00,315.89 L196.50,315.92 L197.00,316.00 L197.50,315.75 L198.00,315.58 L198.50,315.57 L199.00,315.67 L199.50,315.59 L200.00,315.87 L200.50,315.90 L201.00,315.60 L201.50,315.75 L202.00,315.72 L202.50,316.03 L203.00,315.93 L203.50,315.81 L204.00,315.69 L204.50,315.64 L205.00,315.68 L205.50,315.88 L206.00,315.85 L206.50,315.55 L207.00,315.08 L207.50,314.76 L208.00,314.72 L208.50,314.60 L209.00,315.40 L209.50,315.81 L210.00,315.92 L210.50,315.85 L211.00,315.75 L211.50,315.98 L212.00,315.78 L212.50,315.58 L213.00,315.68 L213.50,315.92 L214.00,315.84 L214.50,315.99 L215.00,315.69 L215.50,315.74 L216.00,315.96 L216.50,315.78 L217.00,315.75 L217.50,315.76 L218.00,315.86 L218.50,315.89 L219.00,315.87 L219.50,315.56 L220.00,315.88 L220.50,315.80 L221.00,315.82 L221.50,315.96 L222.00,315.85 L222.50,315.94 L223.00,315.89 L223.50,315.86 L224.00,315.87 L224.50,315.59 L225.00,315.90 L225.50,315.88 L226.00,315.72 L226.50,315.85 L227.00,315.79 L227.50,315.73 L228.00,316.00 L228.50,315.72 L229.00,315.99 L229.50,315.92 L230.00,315.65 L230.50,315.57 L231.00,315.72 L231.50,315.96 L232.00,315.83 L232.50,315.90 L233.00,315.64 L233.50,315.93 L234.00,315.95 L234.50,315.73 L235.00,315.73 L235.50,315.76 L236.00,315.81 L236.50,315.58 L237.00,315.82 L237.50,315.59 L238.00,315.85 L238.50,315.82 L239.00,315.87 L239.50,315.70 L240.00,315.68 L240.50,315.93 L241.00,315.79 L241.50,315.69 L242.00,315.80 L242.50,315.72 L243.00,315.74 L243.50,315.70 L244.00,315.87 L244.50,315.89 L245.00,316.03 L245.50,315.61 L246.00,315.66 L246.50,315.85 L247.00,315.58 L247.50,315.61 L248.00,315.97 L248.50,315.64 L249.00,315.84 L249.50,315.89 L250.00,315.92 L250.50,315.84 L251.00,316.02 L251.50,316.02 L252.00,315.98 L252.50,315.89 L253.00,315.96 L253.50,315.98 L254.00,315.64 L254.50,315.86 L255.00,315.80 L255.50,315.75 L256.00,315.59 L256.50,315.97 L257.00,315.93 L257.50,315.63 L258.00,315.60 L258.50,315.59 L259.00,315.79 L259.50,315.86 L260.00,315.95 L260.50,315.60 L261.00,315.67 L261.50,315.78 L262.00,315.66 L262.50,315.91 L263.00,315.78 L263.50,315.60 L264.00,315.99 L264.50,315.74 L265.00,315.95 L265.50,315.64 L266.00,315.64 L266.50,315.73 L267.00,315.83 L267.50,316.03 L268.00,315.71 L268.50,314.88 L269.00,311.29 L269.50,310.03 L270.00,309.52 L270.50,315.50 L271.00,316.51 L271.50,316.60 L272.00,316.60 L272.50,316.60 L273.00,316.60 L273.50,316.60 L274.00,316.60 L274.50,316.60 L275.00,316.60 L275.00,316.60 Z" fill="#1f5894"/>
<line x1="321.00" y1="277.50" x2="481.50" y2="277.50" stroke="#b9bfc8" stroke-width="0.9" />
<path d="M321.00,277.20 L321.00,277.20 L321.50,277.20 L322.00,277.20 L322.50,277.20 L323.00,277.20 L323.50,277.20 L324.00,277.19 L324.50,277.18 L325.00,277.16 L325.50,277.14 L326.00,277.09 L326.50,277.04 L327.00,276.93 L327.50,276.82 L328.00,276.68 L328.50,276.63 L329.00,276.53 L329.50,276.48 L330.00,276.44 L330.50,276.39 L331.00,276.55 L331.50,276.59 L332.00,276.74 L332.50,276.85 L333.00,276.94 L333.50,277.02 L334.00,277.09 L334.50,277.14 L335.00,277.16 L335.50,277.18 L336.00,277.19 L336.50,277.20 L337.00,277.20 L337.50,277.20 L338.00,277.20 L338.50,277.20 L339.00,277.19 L339.50,277.19 L340.00,277.17 L340.50,277.15 L341.00,277.12 L341.50,277.07 L342.00,277.00 L342.50,276.95 L343.00,276.85 L343.50,276.78 L344.00,276.63 L344.50,276.58 L345.00,276.56 L345.50,276.58 L346.00,276.64 L346.50,276.71 L347.00,276.81 L347.50,276.94 L348.00,276.99 L348.50,277.07 L349.00,277.12 L349.50,277.15 L350.00,277.17 L350.50,277.19 L351.00,277.19 L351.50,277.20 L352.00,277.20 L352.50,277.20 L353.00,277.20 L353.50,277.20 L354.00,277.20 L354.50,277.20 L355.00,277.20 L355.50,277.20 L356.00,277.20 L356.50,277.20 L357.00,277.20 L357.50,277.20 L358.00,277.20 L358.50,277.20 L359.00,277.20 L359.50,277.20 L360.00,277.20 L360.50,277.20 L361.00,277.20 L361.50,277.20 L362.00,277.20 L362.50,277.20 L363.00,277.20 L363.50,277.20 L364.00,277.20 L364.50,277.20 L365.00,277.20 L365.50,277.20 L366.00,277.20 L366.50,277.20 L367.00,277.20 L367.50,277.20 L368.00,277.20 L368.50,277.20 L369.00,277.20 L369.50,277.20 L370.00,277.20 L370.50,277.20 L371.00,277.20 L371.50,277.20 L372.00,277.20 L372.50,277.20 L373.00,277.20 L373.50,277.20 L374.00,277.19 L374.50,277.19 L375.00,277.17 L375.50,277.15 L376.00,277.12 L376.50,277.07 L377.00,277.01 L377.50,276.91 L378.00,276.83 L378.50,276.75 L379.00,276.68 L379.50,276.63 L380.00,276.62 L380.50,276.66 L381.00,276.64 L381.50,276.72 L382.00,276.80 L382.50,276.91 L383.00,277.00 L383.50,277.07 L384.00,277.12 L384.50,277.15 L385.00,277.17 L385.50,277.19 L386.00,277.19 L386.50,277.20 L387.00,277.20 L387.50,277.20 L388.00,277.20 L388.50,277.20 L389.00,277.20 L389.50,277.20 L390.00,277.20 L390.50,277.20 L391.00,277.20 L391.50,277.19 L392.00,277.19 L392.50,277.18 L393.00,277.16 L393.50,277.12 L394.00,277.06 L394.50,276.97 L395.00,276.90 L395.50,276.73 L396.00,276.60 L396.50,276.49 L397.00,276.37 L397.50,276.23 L398.00,276.25 L398.50,276.24 L399.00,276.30 L399.50,276.46 L400.00,276.64 L400.50,276.74 L401.00,276.89 L401.50,277.00 L402.00,277.06 L402.50,277.12 L403.00,277.15 L403.50,277.17 L404.00,277.18 L404.50,277.18 L405.00,277.16 L405.50,277.14 L406.00,277.09 L406.50,277.04 L407.00,276.95 L407.50,276.86 L408.00,276.70 L408.50,276.54 L409.00,276.51 L409.50,276.39 L410.00,276.33 L410.50,276.50 L411.00,276.54 L411.50,276.56 L412.00,276.68 L412.50,276.82 L413.00,276.96 L413.50,277.03 L414.00,277.09 L414.50,277.13 L415.00,277.16 L415.50,277.16 L416.00,277.13 L416.50,277.06 L417.00,276.91 L417.50,276.66 L418.00,276.33 L418.50,276.06 L419.00,275.49 L419.50,275.36 L420.00,275.11 L420.50,275.45 L421.00,275.45 L421.50,275.96 L422.00,276.34 L422.50,276.73 L423.00,276.92 L423.50,277.07 L424.00,277.14 L424.50,277.18 L425.00,277.19 L425.50,277.20 L426.00,277.20 L426.50,277.20 L427.00,277.20 L427.50,277.20 L428.00,277.20 L428.50,277.20 L429.00,277.19 L429.50,277.18 L430.00,277.15 L430.50,277.09 L431.00,276.96 L431.50,276.72 L432.00,276.32 L432.50,275.53 L433.00,274.66 L433.50,273.36 L434.00,271.92 L434.50,269.49 L435.00,268.83 L435.50,267.49 L436.00,267.31 L436.50,266.26 L437.00,267.31 L437.50,268.65 L438.00,270.85 L438.50,271.68 L439.00,272.92 L439.50,273.94 L440.00,274.49 L440.50,274.19 L441.00,274.67 L441.50,274.33 L442.00,273.85 L442.50,272.83 L443.00,272.38 L443.50,270.92 L444.00,270.14 L444.50,268.81 L445.00,269.99 L445.50,269.86 L446.00,270.51 L446.50,271.19 L447.00,273.01 L447.50,274.27 L448.00,275.21 L448.50,276.08 L449.00,276.60 L449.50,276.86 L450.00,277.02 L450.50,277.13 L451.00,277.17 L451.50,277.19 L452.00,277.20 L452.50,277.20 L453.00,277.20 L453.50,277.20 L454.00,277.20 L454.50,277.20 L455.00,277.20 L455.50,277.20 L456.00,277.20 L456.50,277.20 L457.00,277.20 L457.50,277.20 L458.00,277.20 L458.50,277.20 L459.00,277.20 L459.50,277.20 L460.00,277.20 L460.50,277.20 L461.00,277.20 L461.50,277.20 L462.00,277.20 L462.50,277.20 L463.00,277.20 L463.50,277.20 L464.00,277.19 L464.50,277.19 L465.00,277.17 L465.50,277.15 L466.00,277.12 L466.50,277.07 L467.00,277.00 L467.50,276.94 L468.00,276.82 L468.50,276.72 L469.00,276.70 L469.50,276.61 L470.00,276.62 L470.50,276.65 L471.00,276.69 L471.50,276.77 L472.00,276.85 L472.50,276.95 L473.00,277.01 L473.50,277.07 L474.00,277.12 L474.50,277.15 L475.00,277.17 L475.50,277.19 L476.00,277.19 L476.50,277.20 L477.00,277.20 L477.50,277.20 L478.00,277.20 L478.50,277.20 L479.00,277.20 L479.50,277.20 L480.00,277.20 L480.50,277.20 L481.00,277.20 L481.50,277.20 L481.50,277.20 Z" fill="#1f5894"/>
<line x1="321.00" y1="290.90" x2="481.50" y2="290.90" stroke="#b9bfc8" stroke-width="0.9" />
<path d="M321.00,290.60 L321.00,290.60 L321.50,290.60 L322.00,290.60 L322.50,290.60 L323.00,290.60 L323.50,290.60 L324.00,290.60 L324.50,290.60 L325.00,290.60 L325.50,290.60 L326.00,290.60 L326.50,290.60 L327.00,290.60 L327.50,290.60 L328.00,290.60 L328.50,290.60 L329.00,290.60 L329.50,290.60 L330.00,290.60 L330.50,290.60 L331.00,290.60 L331.50,290.60 L332.00,290.60 L332.50,290.60 L333.00,290.60 L333.50,290.60 L334.00,290.60 L334.50,290.60 L335.00,290.59 L335.50,290.57 L336.00,290.51 L336.50,290.39 L337.00,290.16 L337.50,289.96 L338.00,289.84 L338.50,290.01 L339.00,290.20 L339.50,290.36 L340.00,290.51 L340.50,290.57 L341.00,290.59 L341.50,290.60 L342.00,290.59 L342.50,290.57 L343.00,290.51 L343.50,290.37 L344.00,290.19 L344.50,289.96 L345.00,289.91 L345.50,289.95 L346.00,290.21 L346.50,290.39 L347.00,290.51 L347.50,290.57 L348.00,290.59 L348.50,290.60 L349.00,290.60 L349.50,290.60 L350.00,290.60 L350.50,290.60 L351.00,290.60 L351.50,290.60 L352.00,290.59 L352.50,290.57 L353.00,290.52 L353.50,290.39 L354.00,290.25 L354.50,290.10 L355.00,289.96 L355.50,290.06 L356.00,290.26 L356.50,290.40 L357.00,290.52 L357.50,290.57 L358.00,290.59 L358.50,290.60 L359.00,290.60 L359.50,290.60 L360.00,290.60 L360.50,290.60 L361.00,290.60 L361.50,290.60 L362.00,290.60 L362.50,290.60 L363.00,290.60 L363.50,290.60 L364.00,290.60 L364.50,290.60 L365.00,290.60 L365.50,290.60 L366.00,290.60 L366.50,290.60 L367.00,290.60 L367.50,290.60 L368.00,290.60 L368.50,290.60 L369.00,290.60 L369.50,290.60 L370.00,290.60 L370.50,290.60 L371.00,290.60 L371.50,290.60 L372.00,290.60 L372.50,290.60 L373.00,290.60 L373.50,290.60 L374.00,290.60 L374.50,290.60 L375.00,290.60 L375.50,290.60 L376.00,290.60 L376.50,290.60 L377.00,290.60 L377.50,290.60 L378.00,290.60 L378.50,290.60 L379.00,290.60 L379.50,290.60 L380.00,290.60 L380.50,290.60 L381.00,290.60 L381.50,290.60 L382.00,290.60 L382.50,290.60 L383.00,290.59 L383.50,290.56 L384.00,290.49 L384.50,290.33 L385.00,290.15 L385.50,289.87 L386.00,289.86 L386.50,289.92 L387.00,290.16 L387.50,290.36 L388.00,290.49 L388.50,290.56 L389.00,290.59 L389.50,290.60 L390.00,290.60 L390.50,290.60 L391.00,290.60 L391.50,290.60 L392.00,290.60 L392.50,290.60 L393.00,290.60 L393.50,290.60 L394.00,290.60 L394.50,290.60 L395.00,290.60 L395.50,290.60 L396.00,290.60 L396.50,290.60 L397.00,290.60 L397.50,290.60 L398.00,290.60 L398.50,290.60 L399.00,290.60 L399.50,290.60 L400.00,290.60 L400.50,290.60 L401.00,290.60 L401.50,290.60 L402.00,290.60 L402.50,290.60 L403.00,290.60 L403.50,290.60 L404.00,290.60 L404.50,290.60 L405.00,290.60 L405.50,290.60 L406.00,290.60 L406.50,290.60 L407.00,290.60 L407.50,290.60 L408.00,290.60 L408.50,290.60 L409.00,290.60 L409.50,290.60 L410.00,290.60 L410.50,290.60 L411.00,290.60 L411.50,290.60 L412.00,290.60 L412.50,290.60 L413.00,290.60 L413.50,290.60 L414.00,290.60 L414.50,290.60 L415.00,290.60 L415.50,290.60 L416.00,290.60 L416.50,290.60 L417.00,290.59 L417.50,290.57 L418.00,290.52 L418.50,290.39 L419.00,290.24 L419.50,290.02 L420.00,290.01 L420.50,290.06 L421.00,290.21 L421.50,290.40 L422.00,290.52 L422.50,290.57 L423.00,290.59 L423.50,290.60 L424.00,290.60 L424.50,290.60 L425.00,290.60 L425.50,290.60 L426.00,290.60 L426.50,290.60 L427.00,290.60 L427.50,290.60 L428.00,290.60 L428.50,290.60 L429.00,290.60 L429.50,290.60 L430.00,290.60 L430.50,290.60 L431.00,290.60 L431.50,290.60 L432.00,290.60 L432.50,290.60 L433.00,290.60 L433.50,290.60 L434.00,290.60 L434.50,290.60 L435.00,290.60 L435.50,290.60 L436.00,290.60 L436.50,290.60 L437.00,290.59 L437.50,290.57 L438.00,290.52 L438.50,290.42 L439.00,290.23 L439.50,290.06 L440.00,290.04 L440.50,290.11 L441.00,290.21 L441.50,290.40 L442.00,290.52 L442.50,290.57 L443.00,290.59 L443.50,290.60 L444.00,290.60 L444.50,290.60 L445.00,290.60 L445.50,290.60 L446.00,290.60 L446.50,290.60 L447.00,290.60 L447.50,290.60 L448.00,290.60 L448.50,290.60 L449.00,290.60 L449.50,290.60 L450.00,290.60 L450.50,290.60 L451.00,290.60 L451.50,290.60 L452.00,290.59 L452.50,290.57 L453.00,290.51 L453.50,290.39 L454.00,290.18 L454.50,290.02 L455.00,289.86 L455.50,289.98 L456.00,290.21 L456.50,290.36 L457.00,290.51 L457.50,290.57 L458.00,290.59 L458.50,290.60 L459.00,290.60 L459.50,290.60 L460.00,290.60 L460.50,290.60 L461.00,290.60 L461.50,290.60 L462.00,290.60 L462.50,290.60 L463.00,290.60 L463.50,290.60 L464.00,290.60 L464.50,290.60 L465.00,290.60 L465.50,290.60 L466.00,290.60 L466.50,290.60 L467.00,290.60 L467.50,290.60 L468.00,290.60 L468.50,290.60 L469.00,290.60 L469.50,290.60 L470.00,290.60 L470.50,290.60 L471.00,290.60 L471.50,290.60 L472.00,290.60 L472.50,290.60 L473.00,290.60 L473.50,290.60 L474.00,290.60 L474.50,290.60 L475.00,290.60 L475.50,290.60 L476.00,290.60 L476.50,290.60 L477.00,290.60 L477.50,290.60 L478.00,290.60 L478.50,290.60 L479.00,290.60 L479.50,290.60 L480.00,290.60 L480.50,290.60 L481.00,290.60 L481.50,290.60 L481.50,290.60 Z" fill="#1f5894"/>
<line x1="321.00" y1="303.70" x2="481.50" y2="303.70" stroke="#b9bfc8" stroke-width="0.9" />
<path d="M321.00,303.40 L321.00,303.40 L321.50,303.40 L322.00,303.40 L322.50,303.40 L323.00,303.40 L323.50,303.40 L324.00,303.40 L324.50,303.40 L325.00,303.40 L325.50,303.40 L326.00,303.40 L326.50,303.40 L327.00,303.40 L327.50,303.40 L328.00,303.40 L328.50,303.40 L329.00,303.40 L329.50,303.40 L330.00,303.40 L330.50,303.40 L331.00,303.40 L331.50,303.40 L332.00,303.40 L332.50,303.40 L333.00,303.40 L333.50,303.40 L334.00,303.40 L334.50,303.40 L335.00,303.40 L335.50,303.40 L336.00,303.40 L336.50,303.40 L337.00,303.40 L337.50,303.40 L338.00,303.40 L338.50,303.40 L339.00,303.40 L339.50,303.30 L340.00,303.19 L340.50,303.15 L341.00,303.00 L341.50,302.96 L342.00,302.76 L342.50,302.81 L343.00,302.57 L343.50,302.51 L344.00,302.37 L344.50,302.23 L345.00,302.33 L345.50,302.21 L346.00,302.00 L346.50,302.05 L347.00,301.96 L347.50,301.89 L348.00,301.54 L348.50,301.43 L349.00,301.36 L349.50,301.53 L350.00,301.09 L350.50,301.20 L351.00,301.26 L351.50,301.04 L352.00,300.97 L352.50,301.09 L353.00,300.69 L353.50,300.73 L354.00,300.50 L354.50,300.14 L355.00,300.25 L355.50,300.33 L356.00,299.88 L356.50,299.67 L357.00,299.98 L357.50,299.50 L358.00,300.20 L358.50,300.01 L359.00,299.89 L359.50,299.08 L360.00,298.69 L360.50,298.66 L361.00,299.13 L361.50,298.91 L362.00,298.48 L362.50,299.33 L363.00,299.31 L363.50,299.39 L364.00,298.93 L364.50,298.53 L365.00,298.84 L365.50,299.01 L366.00,300.60 L366.50,300.82 L367.00,300.30 L367.50,300.70 L368.00,300.78 L368.50,300.73 L369.00,300.38 L369.50,300.72 L370.00,300.33 L370.50,300.71 L371.00,300.64 L371.50,300.89 L372.00,299.01 L372.50,299.12 L373.00,299.42 L373.50,299.77 L374.00,299.41 L374.50,299.52 L375.00,299.07 L375.50,298.99 L376.00,299.17 L376.50,299.60 L377.00,299.84 L377.50,299.02 L378.00,298.97 L378.50,299.73 L379.00,299.40 L379.50,299.42 L380.00,298.94 L380.50,299.84 L381.00,299.82 L381.50,299.07 L382.00,301.16 L382.50,301.22 L383.00,301.05 L383.50,301.15 L384.00,301.10 L384.50,301.33 L385.00,301.42 L385.50,301.46 L386.00,301.29 L386.50,301.12 L387.00,301.26 L387.50,301.28 L388.00,301.14 L388.50,300.95 L389.00,300.87 L389.50,300.91 L390.00,300.44 L390.50,300.31 L391.00,300.09 L391.50,299.94 L392.00,300.49 L392.50,299.83 L393.00,299.96 L393.50,299.79 L394.00,299.54 L394.50,299.76 L395.00,299.53 L395.50,298.65 L396.00,299.19 L396.50,298.42 L397.00,298.53 L397.50,298.81 L398.00,298.67 L398.50,298.19 L399.00,297.93 L399.50,298.25 L400.00,298.49 L400.50,298.22 L401.00,297.14 L401.50,297.18 L402.00,297.93 L402.50,296.73 L403.00,296.97 L403.50,297.21 L404.00,296.19 L404.50,297.28 L405.00,297.20 L405.50,296.67 L406.00,295.86 L406.50,296.05 L407.00,296.02 L407.50,295.12 L408.00,295.91 L408.50,295.04 L409.00,296.39 L409.50,294.76 L410.00,295.85 L410.50,294.72 L411.00,294.21 L411.50,294.44 L412.00,294.46 L412.50,294.38 L413.00,293.80 L413.50,294.50 L414.00,294.67 L414.50,293.81 L415.00,293.75 L415.50,294.98 L416.00,294.39 L416.50,294.85 L417.00,295.80 L417.50,295.05 L418.00,295.26 L418.50,296.38 L419.00,295.82 L419.50,295.98 L420.00,296.84 L420.50,297.55 L421.00,298.05 L421.50,298.55 L422.00,298.67 L422.50,298.17 L423.00,299.52 L423.50,298.99 L424.00,299.54 L424.50,299.82 L425.00,300.67 L425.50,300.61 L426.00,301.20 L426.50,301.28 L427.00,301.57 L427.50,301.95 L428.00,302.34 L428.50,302.61 L429.00,303.03 L429.50,303.33 L430.00,303.40 L430.50,303.40 L431.00,303.40 L431.50,303.40 L432.00,303.40 L432.50,303.40 L433.00,303.40 L433.50,303.40 L434.00,303.40 L434.50,303.40 L435.00,301.75 L435.50,301.44 L436.00,301.79 L436.50,301.64 L437.00,301.63 L437.50,301.44 L438.00,301.66 L438.50,301.57 L439.00,301.60 L439.50,301.61 L440.00,301.61 L440.50,301.61 L441.00,301.56 L441.50,301.63 L442.00,301.63 L442.50,301.42 L443.00,301.39 L443.50,301.71 L444.00,301.41 L444.50,301.81 L445.00,301.67 L445.50,301.43 L446.00,301.74 L446.50,301.53 L447.00,301.39 L447.50,301.55 L448.00,301.62 L448.50,301.80 L449.00,301.62 L449.50,303.40 L450.00,303.40 L450.50,303.40 L451.00,303.40 L451.50,303.40 L452.00,303.40 L452.50,303.40 L453.00,303.40 L453.50,303.40 L454.00,303.40 L454.50,303.40 L455.00,303.40 L455.50,303.40 L456.00,303.40 L456.50,303.40 L457.00,303.40 L457.50,303.40 L458.00,303.40 L458.50,303.40 L459.00,303.40 L459.50,303.40 L460.00,303.40 L460.50,303.40 L461.00,303.40 L461.50,303.40 L462.00,303.40 L462.50,303.40 L463.00,303.40 L463.50,303.40 L464.00,303.40 L464.50,303.40 L465.00,303.40 L465.50,303.40 L466.00,303.40 L466.50,303.40 L467.00,303.40 L467.50,303.40 L468.00,303.40 L468.50,303.40 L469.00,303.40 L469.50,303.40 L470.00,303.40 L470.50,303.40 L471.00,303.40 L471.50,303.40 L472.00,303.40 L472.50,303.40 L473.00,303.40 L473.50,303.40 L474.00,303.40 L474.50,303.40 L475.00,303.40 L475.50,303.40 L476.00,303.40 L476.50,303.40 L477.00,303.40 L477.50,303.40 L478.00,303.40 L478.50,303.40 L479.00,303.40 L479.50,303.40 L480.00,303.40 L480.50,303.40 L481.00,303.40 L481.50,303.40 L481.50,303.40 Z" fill="#1f5894"/>
<line x1="321.00" y1="317.30" x2="481.50" y2="317.30" stroke="#b9bfc8" stroke-width="0.9" />
<path d="M321.00,317.00 L321.00,317.00 L321.50,317.00 L322.00,317.00 L322.50,317.00 L323.00,317.00 L323.50,317.00 L324.00,317.00 L324.50,317.00 L325.00,317.00 L325.50,317.00 L326.00,317.00 L326.50,317.00 L327.00,317.00 L327.50,317.00 L328.00,317.00 L328.50,317.00 L329.00,317.00 L329.50,317.00 L330.00,317.00 L330.50,317.00 L331.00,317.00 L331.50,317.00 L332.00,317.00 L332.50,317.00 L333.00,317.00 L333.50,317.00 L334.00,317.00 L334.50,317.00 L335.00,317.00 L335.50,317.00 L336.00,317.00 L336.50,317.00 L337.00,317.00 L337.50,317.00 L338.00,317.00 L338.50,317.00 L339.00,317.00 L339.50,317.00 L340.00,317.00 L340.50,317.00 L341.00,317.00 L341.50,317.00 L342.00,317.00 L342.50,317.00 L343.00,317.00 L343.50,317.00 L344.00,317.00 L344.50,317.00 L345.00,317.00 L345.50,317.00 L346.00,317.00 L346.50,317.00 L347.00,317.00 L347.50,317.00 L348.00,317.00 L348.50,317.00 L349.00,317.00 L349.50,317.00 L350.00,317.00 L350.50,317.00 L351.00,316.99 L351.50,316.99 L352.00,316.99 L352.50,316.99 L353.00,316.99 L353.50,316.98 L354.00,316.98 L354.50,316.97 L355.00,316.96 L355.50,316.96 L356.00,316.95 L356.50,316.94 L357.00,316.92 L357.50,316.91 L358.00,316.89 L358.50,316.87 L359.00,316.85 L359.50,316.84 L360.00,316.80 L360.50,316.78 L361.00,316.75 L361.50,316.72 L362.00,316.65 L362.50,316.67 L363.00,316.57 L363.50,316.64 L364.00,316.55 L364.50,316.51 L365.00,316.52 L365.50,316.34 L366.00,316.41 L366.50,316.25 L367.00,316.17 L367.50,316.34 L368.00,316.12 L368.50,316.13 L369.00,316.16 L369.50,316.35 L370.00,316.21 L370.50,316.16 L371.00,316.28 L371.50,316.31 L372.00,316.30 L372.50,316.34 L373.00,316.21 L373.50,316.37 L374.00,316.38 L374.50,316.36 L375.00,316.33 L375.50,316.52 L376.00,316.60 L376.50,316.47 L377.00,316.54 L377.50,316.59 L378.00,316.67 L378.50,316.74 L379.00,316.78 L379.50,316.79 L380.00,316.80 L380.50,316.86 L381.00,316.85 L381.50,316.87 L382.00,316.89 L382.50,316.91 L383.00,316.92 L383.50,316.93 L384.00,316.94 L384.50,316.95 L385.00,316.96 L385.50,316.96 L386.00,316.96 L386.50,316.96 L387.00,316.96 L387.50,316.95 L388.00,316.95 L388.50,316.94 L389.00,316.92 L389.50,316.91 L390.00,316.89 L390.50,316.87 L391.00,316.83 L391.50,316.79 L392.00,316.82 L392.50,316.70 L393.00,316.70 L393.50,316.60 L394.00,316.61 L394.50,316.51 L395.00,316.52 L395.50,316.44 L396.00,316.42 L396.50,316.49 L397.00,316.43 L397.50,316.37 L398.00,316.29 L398.50,316.28 L399.00,316.20 L399.50,316.15 L400.00,316.23 L400.50,316.26 L401.00,316.21 L401.50,316.10 L402.00,316.18 L402.50,316.25 L403.00,316.25 L403.50,316.44 L404.00,316.51 L404.50,316.55 L405.00,316.59 L405.50,316.65 L406.00,316.59 L406.50,316.59 L407.00,316.74 L407.50,316.70 L408.00,316.70 L408.50,316.74 L409.00,316.81 L409.50,316.76 L410.00,316.78 L410.50,316.76 L411.00,316.74 L411.50,316.61 L412.00,316.47 L412.50,316.54 L413.00,316.46 L413.50,316.30 L414.00,316.33 L414.50,316.12 L415.00,315.96 L415.50,316.02 L416.00,316.18 L416.50,316.20 L417.00,316.17 L417.50,316.06 L418.00,316.06 L418.50,316.29 L419.00,316.49 L419.50,316.55 L420.00,316.60 L420.50,316.73 L421.00,316.79 L421.50,316.82 L422.00,316.86 L422.50,316.90 L423.00,316.93 L423.50,316.96 L424.00,316.97 L424.50,316.98 L425.00,316.99 L425.50,316.99 L426.00,317.00 L426.50,317.00 L427.00,317.00 L427.50,317.00 L428.00,317.00 L428.50,317.00 L429.00,317.00 L429.50,317.00 L430.00,317.00 L430.50,317.00 L431.00,317.00 L431.50,317.00 L432.00,317.00 L432.50,317.00 L433.00,317.00 L433.50,317.00 L434.00,317.00 L434.50,317.00 L435.00,317.00 L435.50,317.00 L436.00,317.00 L436.50,317.00 L437.00,317.00 L437.50,317.00 L438.00,317.00 L438.50,317.00 L439.00,317.00 L439.50,317.00 L440.00,317.00 L440.50,317.00 L441.00,317.00 L441.50,317.00 L442.00,317.00 L442.50,317.00 L443.00,317.00 L443.50,317.00 L444.00,317.00 L444.50,317.00 L445.00,317.00 L445.50,317.00 L446.00,317.00 L446.50,317.00 L447.00,317.00 L447.50,317.00 L448.00,317.00 L448.50,317.00 L449.00,317.00 L449.50,317.00 L450.00,317.00 L450.50,317.00 L451.00,317.00 L451.50,317.00 L452.00,317.00 L452.50,317.00 L453.00,317.00 L453.50,317.00 L454.00,317.00 L454.50,317.00 L455.00,317.00 L455.50,317.00 L456.00,317.00 L456.50,317.00 L457.00,317.00 L457.50,317.00 L458.00,317.00 L458.50,317.00 L459.00,317.00 L459.50,317.00 L460.00,317.00 L460.50,317.00 L461.00,317.00 L461.50,317.00 L462.00,317.00 L462.50,317.00 L463.00,317.00 L463.50,317.00 L464.00,317.00 L464.50,317.00 L465.00,317.00 L465.50,317.00 L466.00,317.00 L466.50,317.00 L467.00,317.00 L467.50,317.00 L468.00,317.00 L468.50,317.00 L469.00,317.00 L469.50,317.00 L470.00,317.00 L470.50,317.00 L471.00,317.00 L471.50,317.00 L472.00,317.00 L472.50,317.00 L473.00,317.00 L473.50,317.00 L474.00,317.00 L474.50,317.00 L475.00,317.00 L475.50,317.00 L476.00,317.00 L476.50,317.00 L477.00,317.00 L477.50,317.00 L478.00,317.00 L478.50,317.00 L479.00,317.00 L479.50,317.00 L480.00,317.00 L480.50,317.00 L481.00,317.00 L481.50,317.00 L481.50,317.00 Z" fill="#1f5894"/>
<text x="277.50" y="274.45" font-size="8.0" fill="#2a2a2a" textLength="42.50" lengthAdjust="spacingAndGlyphs">BRD4_DMSO</text>
<text x="280.00" y="287.65" font-size="8.0" fill="#2a2a2a" textLength="38.75" lengthAdjust="spacingAndGlyphs">BRD4_BETi</text>
<text x="273.00" y="302.45" font-size="8.0" fill="#2a2a2a" textLength="51.50" lengthAdjust="spacingAndGlyphs">nucRNA_DMSO</text>
<text x="275.50" y="315.65" font-size="8.0" fill="#2a2a2a" textLength="44.00" lengthAdjust="spacingAndGlyphs">nucRNA_BETi</text>
<line x1="30.00" y1="329.30" x2="270.00" y2="329.30" stroke="#a9bad0" stroke-width="0.6" />
<path d="M34.0,328.5 L33.0,329.3 L34.0,330.1" fill="none" stroke="#a9bad0" stroke-width="0.4"/>
<path d="M38.3,328.5 L37.3,329.3 L38.3,330.1" fill="none" stroke="#a9bad0" stroke-width="0.4"/>
<path d="M42.6,328.5 L41.6,329.3 L42.6,330.1" fill="none" stroke="#a9bad0" stroke-width="0.4"/>
<path d="M46.9,328.5 L45.9,329.3 L46.9,330.1" fill="none" stroke="#a9bad0" stroke-width="0.4"/>
<path d="M51.2,328.5 L50.2,329.3 L51.2,330.1" fill="none" stroke="#a9bad0" stroke-width="0.4"/>
<path d="M55.5,328.5 L54.5,329.3 L55.5,330.1" fill="none" stroke="#a9bad0" stroke-width="0.4"/>
<path d="M59.8,328.5 L58.8,329.3 L59.8,330.1" fill="none" stroke="#a9bad0" stroke-width="0.4"/>
<path d="M64.1,328.5 L63.1,329.3 L64.1,330.1" fill="none" stroke="#a9bad0" stroke-width="0.4"/>
<path d="M68.4,328.5 L67.4,329.3 L68.4,330.1" fill="none" stroke="#a9bad0" stroke-width="0.4"/>
<path d="M72.7,328.5 L71.7,329.3 L72.7,330.1" fill="none" stroke="#a9bad0" stroke-width="0.4"/>
<path d="M77.0,328.5 L76.0,329.3 L77.0,330.1" fill="none" stroke="#a9bad0" stroke-width="0.4"/>
<path d="M81.3,328.5 L80.3,329.3 L81.3,330.1" fill="none" stroke="#a9bad0" stroke-width="0.4"/>
<path d="M85.6,328.5 L84.6,329.3 L85.6,330.1" fill="none" stroke="#a9bad0" stroke-width="0.4"/>
<path d="M89.9,328.5 L88.9,329.3 L89.9,330.1" fill="none" stroke="#a9bad0" stroke-width="0.4"/>
<path d="M94.2,328.5 L93.2,329.3 L94.2,330.1" fill="none" stroke="#a9bad0" stroke-width="0.4"/>
<path d="M98.5,328.5 L97.5,329.3 L98.5,330.1" fill="none" stroke="#a9bad0" stroke-width="0.4"/>
<path d="M102.8,328.5 L101.8,329.3 L102.8,330.1" fill="none" stroke="#a9bad0" stroke-width="0.4"/>
<path d="M107.1,328.5 L106.1,329.3 L107.1,330.1" fill="none" stroke="#a9bad0" stroke-width="0.4"/>
<path d="M111.4,328.5 L110.4,329.3 L111.4,330.1" fill="none" stroke="#a9bad0" stroke-width="0.4"/>
<path d="M115.7,328.5 L114.7,329.3 L115.7,330.1" fill="none" stroke="#a9bad0" stroke-width="0.4"/>
<path d="M120.0,328.5 L119.0,329.3 L120.0,330.1" fill="none" stroke="#a9bad0" stroke-width="0.4"/>
<path d="M124.3,328.5 L123.3,329.3 L124.3,330.1" fill="none" stroke="#a9bad0" stroke-width="0.4"/>
<path d="M128.6,328.5 L127.6,329.3 L128.6,330.1" fill="none" stroke="#a9bad0" stroke-width="0.4"/>
<path d="M132.9,328.5 L131.9,329.3 L132.9,330.1" fill="none" stroke="#a9bad0" stroke-width="0.4"/>
<path d="M137.2,328.5 L136.2,329.3 L137.2,330.1" fill="none" stroke="#a9bad0" stroke-width="0.4"/>
<path d="M141.5,328.5 L140.5,329.3 L141.5,330.1" fill="none" stroke="#a9bad0" stroke-width="0.4"/>
<path d="M145.8,328.5 L144.8,329.3 L145.8,330.1" fill="none" stroke="#a9bad0" stroke-width="0.4"/>
<path d="M150.1,328.5 L149.1,329.3 L150.1,330.1" fill="none" stroke="#a9bad0" stroke-width="0.4"/>
<path d="M154.4,328.5 L153.4,329.3 L154.4,330.1" fill="none" stroke="#a9bad0" stroke-width="0.4"/>
<path d="M158.7,328.5 L157.7,329.3 L158.7,330.1" fill="none" stroke="#a9bad0" stroke-width="0.4"/>
<path d="M163.0,328.5 L162.0,329.3 L163.0,330.1" fill="none" stroke="#a9bad0" stroke-width="0.4"/>
<path d="M167.3,328.5 L166.3,329.3 L167.3,330.1" fill="none" stroke="#a9bad0" stroke-width="0.4"/>
<path d="M171.6,328.5 L170.6,329.3 L171.6,330.1" fill="none" stroke="#a9bad0" stroke-width="0.4"/>
<path d="M175.9,328.5 L174.9,329.3 L175.9,330.1" fill="none" stroke="#a9bad0" stroke-width="0.4"/>
<path d="M180.2,328.5 L179.2,329.3 L180.2,330.1" fill="none" stroke="#a9bad0" stroke-width="0.4"/>
<path d="M184.5,328.5 L183.5,329.3 L184.5,330.1" fill="none" stroke="#a9bad0" stroke-width="0.4"/>
<path d="M188.8,328.5 L187.8,329.3 L188.8,330.1" fill="none" stroke="#a9bad0" stroke-width="0.4"/>
<path d="M193.1,328.5 L192.1,329.3 L193.1,330.1" fill="none" stroke="#a9bad0" stroke-width="0.4"/>
<path d="M197.4,328.5 L196.4,329.3 L197.4,330.1" fill="none" stroke="#a9bad0" stroke-width="0.4"/>
<path d="M201.7,328.5 L200.7,329.3 L201.7,330.1" fill="none" stroke="#a9bad0" stroke-width="0.4"/>
<path d="M206.0,328.5 L205.0,329.3 L206.0,330.1" fill="none" stroke="#a9bad0" stroke-width="0.4"/>
<path d="M210.3,328.5 L209.3,329.3 L210.3,330.1" fill="none" stroke="#a9bad0" stroke-width="0.4"/>
<path d="M214.6,328.5 L213.6,329.3 L214.6,330.1" fill="none" stroke="#a9bad0" stroke-width="0.4"/>
<path d="M218.9,328.5 L217.9,329.3 L218.9,330.1" fill="none" stroke="#a9bad0" stroke-width="0.4"/>
<path d="M223.2,328.5 L222.2,329.3 L223.2,330.1" fill="none" stroke="#a9bad0" stroke-width="0.4"/>
<path d="M227.5,328.5 L226.5,329.3 L227.5,330.1" fill="none" stroke="#a9bad0" stroke-width="0.4"/>
<path d="M231.8,328.5 L230.8,329.3 L231.8,330.1" fill="none" stroke="#a9bad0" stroke-width="0.4"/>
<path d="M236.1,328.5 L235.1,329.3 L236.1,330.1" fill="none" stroke="#a9bad0" stroke-width="0.4"/>
<path d="M240.4,328.5 L239.4,329.3 L240.4,330.1" fill="none" stroke="#a9bad0" stroke-width="0.4"/>
<path d="M244.7,328.5 L243.7,329.3 L244.7,330.1" fill="none" stroke="#a9bad0" stroke-width="0.4"/>
<path d="M249.0,328.5 L248.0,329.3 L249.0,330.1" fill="none" stroke="#a9bad0" stroke-width="0.4"/>
<path d="M253.3,328.5 L252.3,329.3 L253.3,330.1" fill="none" stroke="#a9bad0" stroke-width="0.4"/>
<path d="M257.6,328.5 L256.6,329.3 L257.6,330.1" fill="none" stroke="#a9bad0" stroke-width="0.4"/>
<path d="M261.9,328.5 L260.9,329.3 L261.9,330.1" fill="none" stroke="#a9bad0" stroke-width="0.4"/>
<path d="M266.2,328.5 L265.2,329.3 L266.2,330.1" fill="none" stroke="#a9bad0" stroke-width="0.4"/>
<rect x="43.45" y="327.70" width="0.70" height="3.20" fill="#1f4f86"/>
<rect x="49.20" y="327.70" width="0.70" height="3.20" fill="#1f4f86"/>
<rect x="99.70" y="327.70" width="0.70" height="3.20" fill="#1f4f86"/>
<rect x="156.40" y="327.70" width="0.70" height="3.20" fill="#1f4f86"/>
<rect x="209.20" y="327.70" width="0.70" height="3.20" fill="#1f4f86"/>
<rect x="269.10" y="327.70" width="0.70" height="3.20" fill="#1f4f86"/>
<rect x="30.00" y="328.20" width="11.30" height="2.20" fill="#1f4f86"/>
<polyline points="270.70,334.80 270.70,345.60 257.50,345.60" fill="none" stroke="#231f20" stroke-width="1.0" />
<path d="M254.50,345.60 L259.70,343.00 L258.50,345.60 L259.70,348.20 Z" fill="#231f20"/>
<text x="231.60" y="346.67" font-size="6.9" fill="#2a2a2a" textLength="18.40" lengthAdjust="spacingAndGlyphs">CDK6</text>
<text x="140.00" y="341.27" font-size="6.9" fill="#2a2a2a" textLength="48.50" lengthAdjust="spacingAndGlyphs">Chr 7  - 235 Kb</text>
<line x1="367.00" y1="329.70" x2="458.00" y2="329.70" stroke="#9fb2cc" stroke-width="0.7" />
<rect x="367.00" y="328.60" width="39.00" height="2.30" fill="#1f4f86"/>
<rect x="406.00" y="327.40" width="15.00" height="4.60" fill="#1f4f86"/>
<rect x="436.00" y="328.20" width="6.70" height="3.00" fill="#1f4f86"/>
<rect x="453.50" y="328.20" width="4.50" height="3.00" fill="#1f4f86"/>
<polyline points="461.60,331.50 461.60,343.00 449.00,343.00" fill="none" stroke="#231f20" stroke-width="1.0" />
<path d="M446.00,343.00 L451.20,340.40 L450.00,343.00 L451.20,345.60 Z" fill="#231f20"/>
<text x="420.50" y="345.47" font-size="6.9" fill="#2a2a2a" textLength="22.20" lengthAdjust="spacingAndGlyphs">GPR85</text>
<text x="468.70" y="338.37" font-size="6.9" fill="#2a2a2a" textLength="43.30" lengthAdjust="spacingAndGlyphs">Chr 7  - 13 Kb</text>
<rect x="48.30" y="399.20" width="7.30" height="2.80" fill="#38a4dc"/>
<rect x="60.60" y="378.50" width="8.20" height="23.50" fill="#38a4dc"/>
<rect x="73.50" y="396.00" width="7.70" height="6.00" fill="#38a4dc"/>
<rect x="85.80" y="390.60" width="8.20" height="11.40" fill="#38a4dc"/>
<rect x="98.60" y="396.00" width="7.80" height="6.00" fill="#38a4dc"/>
<rect x="111.40" y="402.00" width="8.60" height="14.60" fill="#38a4dc"/>
<line x1="115.70" y1="416.60" x2="115.70" y2="424.30" stroke="#231f20" stroke-width="0.8" />
<line x1="35.3" y1="402.0" x2="123" y2="402.0" stroke="#4a5a7a" stroke-width="0.9" stroke-dasharray="0.9,1.6"/>
<circle cx="50.00" cy="399.20" r="1.95" fill="#111"/>
<circle cx="52.80" cy="398.60" r="1.95" fill="#111"/>
<circle cx="55.00" cy="399.30" r="1.95" fill="#111"/>
<circle cx="61.90" cy="379.90" r="1.95" fill="#111"/>
<circle cx="64.70" cy="377.20" r="1.95" fill="#111"/>
<circle cx="67.30" cy="378.10" r="1.95" fill="#111"/>
<circle cx="75.00" cy="397.80" r="1.95" fill="#111"/>
<circle cx="78.00" cy="395.00" r="1.95" fill="#111"/>
<circle cx="80.20" cy="396.20" r="1.95" fill="#111"/>
<circle cx="87.50" cy="392.30" r="1.95" fill="#111"/>
<circle cx="90.80" cy="390.00" r="1.95" fill="#111"/>
<circle cx="93.20" cy="390.40" r="1.95" fill="#111"/>
<circle cx="100.50" cy="398.20" r="1.95" fill="#111"/>
<circle cx="103.50" cy="395.20" r="1.95" fill="#111"/>
<circle cx="106.00" cy="396.00" r="1.95" fill="#111"/>
<circle cx="113.50" cy="411.70" r="1.95" fill="#111"/>
<circle cx="118.00" cy="415.30" r="1.95" fill="#111"/>
<circle cx="115.70" cy="424.30" r="1.95" fill="#111"/>
<line x1="35.30" y1="376.40" x2="35.30" y2="436.80" stroke="#231f20" stroke-width="1.1" />
<line x1="34.80" y1="436.80" x2="123.50" y2="436.80" stroke="#231f20" stroke-width="1.1" />
<line x1="32.90" y1="380.40" x2="35.30" y2="380.40" stroke="#231f20" stroke-width="0.9" />
<line x1="32.90" y1="402.00" x2="35.30" y2="402.00" stroke="#231f20" stroke-width="0.9" />
<line x1="32.90" y1="423.00" x2="35.30" y2="423.00" stroke="#231f20" stroke-width="0.9" />
<line x1="52.20" y1="436.80" x2="52.20" y2="439.20" stroke="#231f20" stroke-width="0.9" />
<line x1="64.70" y1="436.80" x2="64.70" y2="439.20" stroke="#231f20" stroke-width="0.9" />
<line x1="77.20" y1="436.80" x2="77.20" y2="439.20" stroke="#231f20" stroke-width="0.9" />
<line x1="89.80" y1="436.80" x2="89.80" y2="439.20" stroke="#231f20" stroke-width="0.9" />
<line x1="102.70" y1="436.80" x2="102.70" y2="439.20" stroke="#231f20" stroke-width="0.9" />
<line x1="115.30" y1="436.80" x2="115.30" y2="439.20" stroke="#231f20" stroke-width="0.9" />
<text x="24.80" y="382.81" font-size="7" textLength="3.70" lengthAdjust="spacingAndGlyphs">2</text>
<text x="24.80" y="404.41" font-size="7" textLength="3.70" lengthAdjust="spacingAndGlyphs">0</text>
<text x="21.20" y="425.41" font-size="7" textLength="7.00" lengthAdjust="spacingAndGlyphs">−2</text>
<text x="60.40" y="417.51" font-size="7.6" fill="#333" textLength="31.80" lengthAdjust="spacingAndGlyphs">KASUMI-1</text>
<text x="0" y="0" font-size="6.9" text-anchor="end" transform="translate(54.60,445.60) rotate(-45)">RUNX1</text>
<text x="0" y="0" font-size="6.9" text-anchor="end" transform="translate(67.10,445.60) rotate(-45)">RUNX1A</text>
<text x="0" y="0" font-size="6.9" text-anchor="end" transform="translate(79.60,445.60) rotate(-45)">RUNX1B</text>
<text x="0" y="0" font-size="6.9" text-anchor="end" transform="translate(92.20,445.60) rotate(-45)">CDK6</text>
<text x="0" y="0" font-size="6.9" text-anchor="end" transform="translate(105.10,445.60) rotate(-45)">ST3GAL1</text>
<text x="0" y="0" font-size="6.9" text-anchor="end" transform="translate(117.70,445.60) rotate(-45)">MYC</text>
<rect x="47.90" y="477.30" width="7.70" height="3.90" fill="#38a4dc"/>
<rect x="60.20" y="479.20" width="8.20" height="2.00" fill="#38a4dc"/>
<rect x="73.00" y="479.60" width="8.20" height="1.60" fill="#38a4dc"/>
<rect x="85.80" y="481.20" width="8.20" height="4.00" fill="#38a4dc"/>
<rect x="98.60" y="481.20" width="8.20" height="8.20" fill="#38a4dc"/>
<rect x="111.40" y="481.20" width="8.60" height="38.00" fill="#38a4dc"/>
<line x1="115.70" y1="512.50" x2="115.70" y2="519.20" stroke="#231f20" stroke-width="0.8" />
<line x1="35.3" y1="481.2" x2="123" y2="481.2" stroke="#6a4a60" stroke-width="0.9" stroke-dasharray="0.9,1.6"/>
<circle cx="49.50" cy="477.50" r="1.95" fill="#111"/>
<circle cx="52.00" cy="476.80" r="1.95" fill="#111"/>
<circle cx="54.50" cy="477.50" r="1.95" fill="#111"/>
<circle cx="62.00" cy="480.00" r="1.95" fill="#111"/>
<circle cx="63.00" cy="474.60" r="1.95" fill="#111"/>
<circle cx="66.80" cy="477.20" r="1.95" fill="#111"/>
<circle cx="74.50" cy="480.50" r="1.95" fill="#111"/>
<circle cx="77.50" cy="476.60" r="1.95" fill="#111"/>
<circle cx="79.60" cy="478.20" r="1.95" fill="#111"/>
<circle cx="87.50" cy="484.00" r="1.95" fill="#111"/>
<circle cx="90.50" cy="484.40" r="1.95" fill="#111"/>
<circle cx="93.00" cy="484.00" r="1.95" fill="#111"/>
<circle cx="100.50" cy="489.50" r="1.95" fill="#111"/>
<circle cx="103.50" cy="488.60" r="1.95" fill="#111"/>
<circle cx="106.00" cy="488.20" r="1.95" fill="#111"/>
<circle cx="114.00" cy="512.60" r="1.95" fill="#111"/>
<circle cx="117.60" cy="520.80" r="1.95" fill="#111"/>
<circle cx="113.00" cy="523.80" r="1.95" fill="#111"/>
<line x1="35.30" y1="472.60" x2="35.30" y2="533.40" stroke="#231f20" stroke-width="1.1" />
<line x1="34.80" y1="533.40" x2="123.50" y2="533.40" stroke="#231f20" stroke-width="1.1" />
<line x1="32.90" y1="481.20" x2="35.30" y2="481.20" stroke="#231f20" stroke-width="0.9" />
<line x1="32.90" y1="499.10" x2="35.30" y2="499.10" stroke="#231f20" stroke-width="0.9" />
<line x1="32.90" y1="516.40" x2="35.30" y2="516.40" stroke="#231f20" stroke-width="0.9" />
<line x1="52.20" y1="533.40" x2="52.20" y2="535.80" stroke="#231f20" stroke-width="0.9" />
<line x1="64.70" y1="533.40" x2="64.70" y2="535.80" stroke="#231f20" stroke-width="0.9" />
<line x1="77.20" y1="533.40" x2="77.20" y2="535.80" stroke="#231f20" stroke-width="0.9" />
<line x1="89.80" y1="533.40" x2="89.80" y2="535.80" stroke="#231f20" stroke-width="0.9" />
<line x1="102.70" y1="533.40" x2="102.70" y2="535.80" stroke="#231f20" stroke-width="0.9" />
<line x1="115.30" y1="533.40" x2="115.30" y2="535.80" stroke="#231f20" stroke-width="0.9" />
<text x="24.80" y="483.61" font-size="7" textLength="3.70" lengthAdjust="spacingAndGlyphs">0</text>
<text x="21.20" y="501.51" font-size="7" textLength="7.00" lengthAdjust="spacingAndGlyphs">−1</text>
<text x="21.20" y="518.81" font-size="7" textLength="7.00" lengthAdjust="spacingAndGlyphs">−2</text>
<text x="57.00" y="507.21" font-size="7.6" fill="#333" textLength="24.60" lengthAdjust="spacingAndGlyphs">SKNO-1</text>
<text x="0" y="0" font-size="6.9" text-anchor="end" transform="translate(54.60,541.60) rotate(-45)">RUNX1</text>
<text x="0" y="0" font-size="6.9" text-anchor="end" transform="translate(67.10,541.60) rotate(-45)">RUNX1A</text>
<text x="0" y="0" font-size="6.9" text-anchor="end" transform="translate(79.60,541.60) rotate(-45)">RUNX1B</text>
<text x="0" y="0" font-size="6.9" text-anchor="end" transform="translate(92.20,541.60) rotate(-45)">ST3GAL1</text>
<text x="0" y="0" font-size="6.9" text-anchor="end" transform="translate(105.10,541.60) rotate(-45)">CDK6</text>
<text x="0" y="0" font-size="6.9" text-anchor="end" transform="translate(117.70,541.60) rotate(-45)">MYC</text>
<text x="0" y="0" font-size="9.4" transform="translate(16.30,482.20) rotate(-90)" textLength="55.70" lengthAdjust="spacingAndGlyphs">Log2FC to DMSO</text>
<line x1="168.90" y1="385.10" x2="168.90" y2="484.50" stroke="#231f20" stroke-width="1.1" />
<line x1="168.40" y1="484.50" x2="265.00" y2="484.50" stroke="#231f20" stroke-width="1.1" />
<line x1="166.50" y1="387.80" x2="168.90" y2="387.80" stroke="#231f20" stroke-width="0.9" />
<line x1="166.50" y1="428.00" x2="168.90" y2="428.00" stroke="#231f20" stroke-width="0.9" />
<line x1="166.50" y1="468.20" x2="168.90" y2="468.20" stroke="#231f20" stroke-width="0.9" />
<line x1="183.30" y1="484.50" x2="183.30" y2="487.00" stroke="#231f20" stroke-width="0.9" />
<line x1="201.90" y1="484.50" x2="201.90" y2="487.00" stroke="#231f20" stroke-width="0.9" />
<line x1="254.30" y1="484.50" x2="254.30" y2="487.00" stroke="#231f20" stroke-width="0.9" />
<text x="160.60" y="390.21" font-size="7" textLength="3.80" lengthAdjust="spacingAndGlyphs">4</text>
<text x="158.60" y="430.41" font-size="7" textLength="3.80" lengthAdjust="spacingAndGlyphs">0</text>
<text x="155.20" y="470.61" font-size="7" textLength="7.20" lengthAdjust="spacingAndGlyphs">−4</text>
<line x1="168.9" y1="428.0" x2="265" y2="428.0" stroke="#5a5a5a" stroke-width="0.9" stroke-dasharray="0.9,1.6"/>
<path d="M183.6,422.6 Q184.4,427.6 189.6,428.7 Q184.4,429.8 183.6,434.7 Q182.8,429.8 178.0,428.7 Q182.8,427.6 183.6,422.6 Z" fill="#fff" stroke="#231f20" stroke-width="1.2" stroke-linejoin="round"/>
<line x1="179.50" y1="428.50" x2="187.80" y2="428.50" stroke="#c4163c" stroke-width="0.9" />
<path d="M201.8,464.4 L201.8,446 Q199.5,440 196.6,432.6 Q196.8,431.2 199,431.3 L204.8,431.3 Q207.4,431.3 207.4,432.6 Q204.2,440 201.8,446" fill="#fff" stroke="#231f20" stroke-width="1.2" stroke-linejoin="round"/>
<ellipse cx="202" cy="434.2" rx="4.2" ry="1.6" fill="#e8a0b0" opacity="0.8"/>
<line x1="254.10" y1="396.90" x2="254.10" y2="457.40" stroke="#3a3a3a" stroke-width="1.2" />
<path d="M254.1,418.5 Q256,423.5 259.9,427.9 Q256,432.4 254.1,437.2 Q252.2,432.4 248.4,427.9 Q252.2,423.5 254.1,418.5 Z" fill="#fff" stroke="#231f20" stroke-width="1.2" stroke-linejoin="round"/>
<ellipse cx="254.1" cy="428" rx="4.4" ry="2.4" fill="#f2c4cf"/>
<line x1="249.80" y1="428.20" x2="258.40" y2="428.20" stroke="#c4163c" stroke-width="1.0" />
<polyline points="178.60,427.60 198.00,433.40 202.00,434.30 215.00,433.20 249.00,428.60 254.10,428.20" fill="none" stroke="#c4163c" stroke-width="1.3" />
<polyline points="182.40,386.20 182.40,379.80 254.30,379.80 254.30,386.20" fill="none" stroke="#231f20" stroke-width="1" />
<polyline points="183.70,404.10 183.70,399.30 204.80,399.30 204.80,404.10" fill="none" stroke="#231f20" stroke-width="1" />
<polyline points="201.40,468.70 201.40,474.60 254.30,474.60 254.30,468.70" fill="none" stroke="#231f20" stroke-width="1" />
<text x="212.20" y="376.98" font-size="7.2" fill="#333" textLength="12.50" lengthAdjust="spacingAndGlyphs">0.46</text>
<text x="181.20" y="396.68" font-size="7.2" fill="#333" textLength="24.90" lengthAdjust="spacingAndGlyphs">&lt;0.0001</text>
<text x="215.40" y="472.28" font-size="7.2" fill="#333" textLength="25.40" lengthAdjust="spacingAndGlyphs">&lt;0.0001</text>
<text x="0" y="0" font-size="9.0" transform="translate(150.50,467.90) rotate(-90)" textLength="67.00" lengthAdjust="spacingAndGlyphs">Log2FC (to BETi_0h)</text>
<text x="0" y="0" font-size="7.6" text-anchor="end" transform="translate(186.40,492.90) rotate(-45)" textLength="57.50" lengthAdjust="spacingAndGlyphs">SLAMSeq_BETi_0h</text>
<text x="0" y="0" font-size="7.6" text-anchor="end" transform="translate(206.40,492.90) rotate(-45)" textLength="58.00" lengthAdjust="spacingAndGlyphs">SLAMSeq_BETi_4h</text>
<text x="0" y="0" font-size="7.6" text-anchor="end" transform="translate(257.00,492.90) rotate(-45)" textLength="61.00" lengthAdjust="spacingAndGlyphs">SLAMSeq_BETi_24h</text>
<line x1="316.00" y1="383.30" x2="316.00" y2="472.80" stroke="#231f20" stroke-width="1.1" />
<line x1="315.50" y1="472.80" x2="414.80" y2="472.80" stroke="#231f20" stroke-width="1.1" />
<line x1="313.60" y1="399.90" x2="316.00" y2="399.90" stroke="#231f20" stroke-width="0.9" />
<line x1="313.60" y1="433.50" x2="316.00" y2="433.50" stroke="#231f20" stroke-width="0.9" />
<line x1="313.60" y1="467.40" x2="316.00" y2="467.40" stroke="#231f20" stroke-width="0.9" />
<line x1="329.00" y1="472.80" x2="329.00" y2="475.30" stroke="#231f20" stroke-width="0.9" />
<line x1="344.20" y1="472.80" x2="344.20" y2="475.30" stroke="#231f20" stroke-width="0.9" />
<line x1="404.50" y1="472.80" x2="404.50" y2="475.30" stroke="#231f20" stroke-width="0.9" />
<text x="309.60" y="402.31" font-size="7" text-anchor="end" textLength="10.10" lengthAdjust="spacingAndGlyphs">0.5</text>
<text x="309.60" y="435.91" font-size="7" text-anchor="end" textLength="13.00" lengthAdjust="spacingAndGlyphs">−0.5</text>
<text x="309.60" y="469.81" font-size="7" text-anchor="end" textLength="13.00" lengthAdjust="spacingAndGlyphs">−1.5</text>
<line x1="318" y1="416.6" x2="404" y2="416.6" stroke="#b5563e" stroke-width="0.9" stroke-dasharray="0.9,1.6"/>
<polyline points="329.20,417.00 344.20,454.60 403.90,442.50" fill="none" stroke="#9a9acb" stroke-width="1.4" stroke-linejoin="round"/>
<polyline points="329.20,417.00 344.20,441.60 403.90,436.40" fill="none" stroke="#2c5a98" stroke-width="1.4" stroke-linejoin="round"/>
<polyline points="329.20,417.00 344.20,451.10 403.90,433.80" fill="none" stroke="#652a6a" stroke-width="1.4" stroke-linejoin="round"/>
<polyline points="329.20,417.00 344.20,443.30 403.90,424.30" fill="none" stroke="#2a7a6a" stroke-width="1.4" stroke-linejoin="round"/>
<polyline points="329.20,417.00 344.20,445.00 403.90,419.50" fill="none" stroke="#d8a834" stroke-width="1.4" stroke-linejoin="round"/>
<polyline points="329.20,417.00 344.20,447.00 403.90,415.70" fill="none" stroke="#f2b8ac" stroke-width="1.4" stroke-linejoin="round"/>
<polyline points="329.20,417.00 344.20,444.20 403.90,412.20" fill="none" stroke="#f0b440" stroke-width="1.4" stroke-linejoin="round"/>
<polyline points="329.20,417.00 344.20,450.30 403.90,404.40" fill="none" stroke="#c4308a" stroke-width="1.4" stroke-linejoin="round"/>
<polyline points="329.20,417.00 344.20,427.80 403.90,399.20" fill="none" stroke="#d6a0a8" stroke-width="1.4" stroke-linejoin="round"/>
<polyline points="329.20,417.00 344.20,439.90 403.90,385.40" fill="none" stroke="#b41f48" stroke-width="1.4" stroke-linejoin="round"/>
<text x="406.20" y="385.98" font-size="7.2" fill="#b41f48" textLength="29.20" lengthAdjust="spacingAndGlyphs">ST3GAL1</text>
<text x="406.20" y="393.28" font-size="7.2" fill="#d6a0a8" textLength="22.50" lengthAdjust="spacingAndGlyphs">RUNX1</text>
<text x="406.20" y="400.38" font-size="7.2" fill="#c4308a" textLength="18.60" lengthAdjust="spacingAndGlyphs">CDK6</text>
<text x="406.20" y="407.08" font-size="7.2" fill="#f0b440" textLength="14.80" lengthAdjust="spacingAndGlyphs">MYB</text>
<text x="406.20" y="413.48" font-size="7.2" fill="#f2b8ac" textLength="9.60" lengthAdjust="spacingAndGlyphs">KIT</text>
<text x="406.20" y="419.58" font-size="7.2" fill="#d8a834" textLength="13.50" lengthAdjust="spacingAndGlyphs">LYL1</text>
<text x="406.20" y="426.68" font-size="7.2" fill="#2a7a6a" textLength="16.70" lengthAdjust="spacingAndGlyphs">ETV6</text>
<text x="406.20" y="434.38" font-size="7.2" fill="#652a6a" textLength="52.60" lengthAdjust="spacingAndGlyphs">PVT1 (MYC_enh)</text>
<text x="406.20" y="441.68" font-size="7.2" fill="#2c5a98" textLength="16.70" lengthAdjust="spacingAndGlyphs">MPO</text>
<text x="406.20" y="449.38" font-size="7.2" fill="#9a9acb" textLength="15.50" lengthAdjust="spacingAndGlyphs">MYC</text>
<text x="0" y="0" font-size="9.0" transform="translate(291.20,460.20) rotate(-90)" textLength="65.70" lengthAdjust="spacingAndGlyphs">Log2FC (to BETi_0h)</text>
<text x="0" y="0" font-size="7.6" text-anchor="end" transform="translate(331.70,481.90) rotate(-45)" textLength="57.50" lengthAdjust="spacingAndGlyphs">SLAMSeq_BETi_0h</text>
<text x="0" y="0" font-size="7.6" text-anchor="end" transform="translate(347.90,481.90) rotate(-45)" textLength="57.50" lengthAdjust="spacingAndGlyphs">SLAMSeq_BETi_4h</text>
<text x="0" y="0" font-size="7.6" text-anchor="end" transform="translate(408.50,481.90) rotate(-45)" textLength="62.00" lengthAdjust="spacingAndGlyphs">SLAMSeq_BETi_24h</text>
<line x1="63.50" y1="594.40" x2="63.50" y2="650.40" stroke="#cfd3d8" stroke-width="0.8" />
<line x1="74.60" y1="594.40" x2="74.60" y2="650.40" stroke="#cfd3d8" stroke-width="0.8" />
<line x1="37.50" y1="594.40" x2="37.50" y2="650.40" stroke="#231f20" stroke-width="1.1" />
<line x1="37.00" y1="650.40" x2="97.80" y2="650.40" stroke="#231f20" stroke-width="1.3" />
<line x1="34.90" y1="608.60" x2="37.50" y2="608.60" stroke="#231f20" stroke-width="0.9" />
<text x="21.00" y="610.91" font-size="7.3" fill="#333" textLength="9.80" lengthAdjust="spacingAndGlyphs">1.0</text>
<line x1="34.90" y1="643.30" x2="37.50" y2="643.30" stroke="#231f20" stroke-width="0.9" />
<text x="21.00" y="645.61" font-size="7.3" fill="#333" textLength="9.80" lengthAdjust="spacingAndGlyphs">0.2</text>
<path d="M40.00,646.30 C42.29,645.67 50.42,643.97 53.75,642.50 C57.08,641.03 58.64,640.00 60.00,637.50 C61.36,635.00 61.38,632.28 61.90,627.50 C62.42,622.72 62.58,613.80 63.10,608.80 C63.62,603.80 64.17,599.75 65.00,597.50 C65.83,595.25 66.85,595.22 68.10,595.30 C69.35,595.38 71.45,596.38 72.50,598.00 C73.55,599.62 73.88,601.17 74.40,605.00 C74.92,608.83 75.18,616.33 75.60,621.00 C76.02,625.67 75.96,630.03 76.90,633.00 C77.84,635.97 79.28,637.22 81.25,638.80 C83.22,640.38 86.04,641.30 88.75,642.50 C91.46,643.70 96.04,645.42 97.50,646.00" fill="none" stroke="#5d6876" stroke-width="1.3" stroke-linejoin="round" stroke-linecap="round"/>
<path d="M40.00,647.80 C42.29,647.55 50.21,647.60 53.75,646.30 C57.29,645.00 59.48,641.98 61.25,640.00 C63.02,638.02 63.26,635.55 64.40,634.40 C65.54,633.25 66.75,633.10 68.10,633.10 C69.45,633.10 71.35,633.45 72.50,634.40 C73.65,635.35 74.27,637.37 75.00,638.80 C75.73,640.23 74.61,641.65 76.90,643.00 C79.19,644.35 85.32,646.10 88.75,646.90 C92.18,647.70 96.04,647.65 97.50,647.80" fill="none" stroke="#d23a4e" stroke-width="1.3" stroke-linejoin="round" stroke-linecap="round"/>
<text x="55.80" y="587.29" font-size="8.4" fill="#222" textLength="23.00" lengthAdjust="spacingAndGlyphs">BRD4</text>
<line x1="146.50" y1="594.80" x2="146.50" y2="650.40" stroke="#cfd3d8" stroke-width="0.8" />
<line x1="158.60" y1="594.80" x2="158.60" y2="650.40" stroke="#cfd3d8" stroke-width="0.8" />
<line x1="121.40" y1="594.80" x2="121.40" y2="650.40" stroke="#231f20" stroke-width="1.1" />
<line x1="120.90" y1="650.40" x2="181.30" y2="650.40" stroke="#231f20" stroke-width="1.3" />
<line x1="118.80" y1="598.50" x2="121.40" y2="598.50" stroke="#231f20" stroke-width="0.9" />
<text x="105.00" y="600.81" font-size="7.3" fill="#333" textLength="10.00" lengthAdjust="spacingAndGlyphs">0.6</text>
<line x1="118.80" y1="643.80" x2="121.40" y2="643.80" stroke="#231f20" stroke-width="0.9" />
<text x="105.00" y="646.11" font-size="7.3" fill="#333" textLength="10.00" lengthAdjust="spacingAndGlyphs">0.1</text>
<path d="M123.60,647.50 C125.79,647.08 133.20,646.77 136.75,645.00 C140.30,643.23 143.34,638.98 144.90,636.90 C146.46,634.82 145.58,634.90 146.10,632.50 C146.62,630.10 147.06,624.90 148.00,622.50 C148.94,620.10 150.50,618.10 151.75,618.10 C153.00,618.10 154.46,620.31 155.50,622.50 C156.54,624.69 156.75,627.92 158.00,631.25 C159.25,634.58 160.92,640.04 163.00,642.50 C165.08,644.96 167.58,645.25 170.50,646.00 C173.42,646.75 178.83,646.83 180.50,647.00" fill="none" stroke="#5d6876" stroke-width="1.3" stroke-linejoin="round" stroke-linecap="round"/>
<path d="M123.60,647.25 C125.79,646.77 133.62,645.71 136.75,644.40 C139.88,643.09 141.04,641.59 142.40,639.40 C143.76,637.21 144.18,635.32 144.90,631.25 C145.62,627.18 146.13,620.21 146.75,615.00 C147.37,609.79 147.77,603.29 148.60,600.00 C149.43,596.71 150.60,595.35 151.75,595.25 C152.90,595.15 154.50,596.94 155.50,599.40 C156.50,601.86 157.02,604.69 157.75,610.00 C158.48,615.31 159.03,626.04 159.90,631.25 C160.78,636.46 161.23,638.86 163.00,641.25 C164.77,643.64 167.58,644.73 170.50,645.60 C173.42,646.48 178.83,646.35 180.50,646.50" fill="none" stroke="#d23a4e" stroke-width="1.3" stroke-linejoin="round" stroke-linecap="round"/>
<text x="136.70" y="587.29" font-size="8.4" fill="#222" textLength="28.70" lengthAdjust="spacingAndGlyphs">RUNX1</text>
<line x1="242.50" y1="594.40" x2="242.50" y2="650.40" stroke="#cfd3d8" stroke-width="0.8" />
<line x1="254.60" y1="594.40" x2="254.60" y2="650.40" stroke="#cfd3d8" stroke-width="0.8" />
<line x1="217.10" y1="594.40" x2="217.10" y2="650.40" stroke="#231f20" stroke-width="1.1" />
<line x1="216.60" y1="650.40" x2="277.30" y2="650.40" stroke="#231f20" stroke-width="1.3" />
<line x1="214.50" y1="597.30" x2="217.10" y2="597.30" stroke="#231f20" stroke-width="0.9" />
<text x="197.00" y="599.61" font-size="7.3" fill="#333" textLength="13.40" lengthAdjust="spacingAndGlyphs">0.18</text>
<line x1="214.50" y1="646.20" x2="217.10" y2="646.20" stroke="#231f20" stroke-width="0.9" />
<text x="197.00" y="648.51" font-size="7.3" fill="#333" textLength="13.40" lengthAdjust="spacingAndGlyphs">0.06</text>
<path d="M219.60,648.10 C222.00,647.58 230.77,646.25 234.00,645.00 C237.23,643.75 237.75,642.06 239.00,640.60 C240.25,639.14 240.77,638.85 241.50,636.25 C242.23,633.65 242.78,627.81 243.40,625.00 C244.03,622.19 244.63,620.75 245.25,619.40 C245.87,618.05 246.16,616.90 247.10,616.90 C248.04,616.90 249.96,618.67 250.90,619.40 C251.84,620.12 252.23,620.52 252.75,621.25 C253.27,621.98 253.58,622.08 254.00,623.75 C254.42,625.42 254.73,628.64 255.25,631.25 C255.77,633.86 256.06,637.21 257.10,639.40 C258.14,641.59 259.93,643.43 261.50,644.40 C263.07,645.37 264.00,644.58 266.50,645.20 C269.00,645.82 274.83,647.62 276.50,648.10" fill="none" stroke="#5d6876" stroke-width="1.3" stroke-linejoin="round" stroke-linecap="round"/>
<path d="M219.60,647.50 C220.75,647.29 224.10,647.08 226.50,646.25 C228.90,645.42 231.92,643.96 234.00,642.50 C236.08,641.04 237.75,640.00 239.00,637.50 C240.25,635.00 240.77,632.29 241.50,627.50 C242.23,622.71 242.78,613.75 243.40,608.75 C244.03,603.75 244.63,599.75 245.25,597.50 C245.87,595.25 246.16,595.35 247.10,595.25 C248.04,595.15 249.96,596.21 250.90,596.90 C251.84,597.59 252.23,598.05 252.75,599.40 C253.27,600.75 253.58,601.77 254.00,605.00 C254.42,608.23 254.73,613.75 255.25,618.75 C255.77,623.75 256.06,630.94 257.10,635.00 C258.14,639.06 259.93,641.53 261.50,643.10 C263.07,644.67 264.00,643.67 266.50,644.40 C269.00,645.13 274.83,646.98 276.50,647.50" fill="none" stroke="#d23a4e" stroke-width="1.3" stroke-linejoin="round" stroke-linecap="round"/>
<text x="236.70" y="587.29" font-size="8.4" fill="#222" textLength="21.80" lengthAdjust="spacingAndGlyphs">p300</text>
<line x1="63.50" y1="678.10" x2="63.50" y2="735.60" stroke="#cfd3d8" stroke-width="0.8" />
<line x1="74.70" y1="678.10" x2="74.70" y2="735.60" stroke="#cfd3d8" stroke-width="0.8" />
<line x1="37.50" y1="678.10" x2="37.50" y2="735.60" stroke="#231f20" stroke-width="1.1" />
<line x1="37.00" y1="735.60" x2="97.80" y2="735.60" stroke="#231f20" stroke-width="1.3" />
<line x1="34.90" y1="682.00" x2="37.50" y2="682.00" stroke="#231f20" stroke-width="0.9" />
<text x="20.80" y="684.31" font-size="7.3" fill="#333" textLength="10.00" lengthAdjust="spacingAndGlyphs">2.5</text>
<line x1="34.90" y1="725.50" x2="37.50" y2="725.50" stroke="#231f20" stroke-width="0.9" />
<text x="20.80" y="727.81" font-size="7.3" fill="#333" textLength="10.00" lengthAdjust="spacingAndGlyphs">0.5</text>
<path d="M40.00,733.75 C42.29,733.44 50.62,732.86 53.75,731.90 C56.88,730.94 57.50,729.57 58.75,728.00 C60.00,726.43 60.62,725.08 61.25,722.50 C61.88,719.92 62.12,716.25 62.50,712.50 C62.88,708.75 63.08,703.33 63.50,700.00 C63.92,696.67 64.17,694.27 65.00,692.50 C65.83,690.73 67.33,689.40 68.50,689.40 C69.67,689.40 71.17,690.73 72.00,692.50 C72.83,694.27 73.08,696.67 73.50,700.00 C73.92,703.33 74.12,708.75 74.50,712.50 C74.88,716.25 75.12,719.92 75.75,722.50 C76.38,725.08 76.29,726.37 78.25,728.00 C80.21,729.63 84.29,731.40 87.50,732.30 C90.71,733.20 95.83,733.22 97.50,733.40" fill="none" stroke="#5d6876" stroke-width="1.3" stroke-linejoin="round" stroke-linecap="round"/>
<path d="M40.00,733.50 C42.29,733.23 50.62,732.90 53.75,731.90 C56.88,730.90 57.50,729.27 58.75,727.50 C60.00,725.73 60.52,724.79 61.25,721.25 C61.98,717.71 62.58,711.46 63.10,706.25 C63.62,701.04 63.88,693.96 64.40,690.00 C64.93,686.04 65.57,684.07 66.25,682.50 C66.93,680.93 67.67,680.60 68.50,680.60 C69.33,680.60 70.48,680.93 71.25,682.50 C72.02,684.07 72.52,686.04 73.10,690.00 C73.68,693.96 74.22,701.04 74.75,706.25 C75.28,711.46 75.38,717.50 76.25,721.25 C77.12,725.00 78.12,726.92 80.00,728.75 C81.88,730.58 84.58,731.52 87.50,732.25 C90.42,732.98 95.83,732.96 97.50,733.10" fill="none" stroke="#d23a4e" stroke-width="1.3" stroke-linejoin="round" stroke-linecap="round"/>
<text x="58.70" y="668.19" font-size="8.4" fill="#222" textLength="16.70" lengthAdjust="spacingAndGlyphs">FLI1</text>
<line x1="147.00" y1="678.50" x2="147.00" y2="735.60" stroke="#cfd3d8" stroke-width="0.8" />
<line x1="158.60" y1="678.50" x2="158.60" y2="735.60" stroke="#cfd3d8" stroke-width="0.8" />
<line x1="121.50" y1="678.50" x2="121.50" y2="735.60" stroke="#231f20" stroke-width="1.1" />
<line x1="121.00" y1="735.60" x2="181.80" y2="735.60" stroke="#231f20" stroke-width="1.3" />
<line x1="118.90" y1="680.60" x2="121.50" y2="680.60" stroke="#231f20" stroke-width="0.9" />
<text x="104.80" y="682.91" font-size="7.3" fill="#333" textLength="10.60" lengthAdjust="spacingAndGlyphs">0.3</text>
<line x1="118.90" y1="722.60" x2="121.50" y2="722.60" stroke="#231f20" stroke-width="0.9" />
<text x="104.80" y="724.91" font-size="7.3" fill="#333" textLength="10.60" lengthAdjust="spacingAndGlyphs">0.1</text>
<path d="M124.25,733.00 C126.33,732.87 133.72,733.03 136.75,732.20 C139.78,731.37 141.04,730.03 142.40,728.00 C143.76,725.97 144.18,723.42 144.90,720.00 C145.62,716.58 146.13,711.46 146.75,707.50 C147.37,703.54 147.66,698.75 148.60,696.25 C149.54,693.75 151.13,692.50 152.40,692.50 C153.67,692.50 155.27,694.38 156.20,696.25 C157.13,698.12 157.38,699.79 158.00,703.75 C158.62,707.71 159.07,715.88 159.90,720.00 C160.73,724.12 161.23,726.47 163.00,728.50 C164.77,730.53 167.50,731.45 170.50,732.20 C173.50,732.95 179.25,732.87 181.00,733.00" fill="none" stroke="#5d6876" stroke-width="1.3" stroke-linejoin="round" stroke-linecap="round"/>
<path d="M124.25,732.75 C126.33,732.61 133.72,732.77 136.75,731.90 C139.78,731.02 141.04,729.58 142.40,727.50 C143.76,725.42 144.18,723.98 144.90,719.40 C145.62,714.82 146.13,705.94 146.75,700.00 C147.37,694.06 147.66,686.98 148.60,683.75 C149.54,680.52 151.15,680.60 152.40,680.60 C153.65,680.60 155.17,680.52 156.10,683.75 C157.03,686.98 157.37,694.06 158.00,700.00 C158.63,705.94 159.07,714.73 159.90,719.40 C160.73,724.07 161.23,725.92 163.00,728.00 C164.77,730.08 167.50,731.11 170.50,731.90 C173.50,732.69 179.25,732.61 181.00,732.75" fill="none" stroke="#d23a4e" stroke-width="1.3" stroke-linejoin="round" stroke-linecap="round"/>
<text x="114.30" y="668.19" font-size="8.4" fill="#222" textLength="74.00" lengthAdjust="spacingAndGlyphs">RUNX1-RUNX1T1</text>
<line x1="242.50" y1="678.10" x2="242.50" y2="735.90" stroke="#cfd3d8" stroke-width="0.8" />
<line x1="254.30" y1="678.10" x2="254.30" y2="735.90" stroke="#cfd3d8" stroke-width="0.8" />
<line x1="217.10" y1="678.10" x2="217.10" y2="735.90" stroke="#231f20" stroke-width="1.1" />
<line x1="216.60" y1="735.90" x2="277.30" y2="735.90" stroke="#231f20" stroke-width="1.3" />
<line x1="214.50" y1="683.50" x2="217.10" y2="683.50" stroke="#231f20" stroke-width="0.9" />
<text x="200.60" y="685.81" font-size="7.3" fill="#333" textLength="9.60" lengthAdjust="spacingAndGlyphs">1.5</text>
<line x1="214.50" y1="735.00" x2="217.10" y2="735.00" stroke="#231f20" stroke-width="0.9" />
<text x="200.60" y="737.31" font-size="7.3" fill="#333" textLength="9.60" lengthAdjust="spacingAndGlyphs">0.0</text>
<path d="M219.60,720.60 C220.75,719.20 224.31,715.47 226.50,712.20 C228.69,708.93 231.08,704.62 232.75,701.00 C234.42,697.38 235.36,693.21 236.50,690.50 C237.64,687.79 238.67,685.46 239.60,684.75 C240.53,684.04 241.16,686.52 242.10,686.25 C243.04,685.98 244.00,684.04 245.25,683.10 C246.50,682.16 248.24,680.70 249.60,680.60 C250.96,680.50 252.25,681.87 253.40,682.50 C254.55,683.13 255.36,682.94 256.50,684.40 C257.64,685.86 259.00,688.65 260.25,691.25 C261.50,693.85 262.54,696.79 264.00,700.00 C265.46,703.21 266.92,706.85 269.00,710.50 C271.08,714.15 275.25,720.00 276.50,721.90" fill="none" stroke="#5d6876" stroke-width="1.3" stroke-linejoin="round" stroke-linecap="round"/>
<path d="M219.60,718.75 C220.75,717.50 224.31,714.38 226.50,711.25 C228.69,708.12 231.08,703.54 232.75,700.00 C234.42,696.46 235.36,692.54 236.50,690.00 C237.64,687.46 238.67,685.17 239.60,684.75 C240.53,684.33 241.16,687.36 242.10,687.50 C243.04,687.64 244.00,686.12 245.25,685.60 C246.50,685.08 248.24,684.50 249.60,684.40 C250.96,684.30 252.25,685.00 253.40,685.00 C254.55,685.00 255.36,683.36 256.50,684.40 C257.64,685.44 259.00,688.65 260.25,691.25 C261.50,693.85 262.54,696.88 264.00,700.00 C265.46,703.12 266.92,706.77 269.00,710.00 C271.08,713.23 275.25,717.83 276.50,719.40" fill="none" stroke="#d23a4e" stroke-width="1.3" stroke-linejoin="round" stroke-linecap="round"/>
<text x="228.50" y="669.59" font-size="8.4" fill="#222" textLength="37.50" lengthAdjust="spacingAndGlyphs">H3K27ac</text>
<line x1="117.00" y1="745.70" x2="186.50" y2="745.70" stroke="#231f20" stroke-width="1.2" />
<path d="M113.6,745.7 L120,742.8 L118.6,745.7 L120,748.6 Z" fill="#231f20"/>
<path d="M189.9,745.7 L183.5,742.8 L184.9,745.7 L183.5,748.6 Z" fill="#231f20"/>
<text x="130.60" y="753.34" font-size="6.8" fill="#333" textLength="42.30" lengthAdjust="spacingAndGlyphs">Peak ± 2 Kbp</text>
<text x="0" y="0" font-size="8.6" transform="translate(15.60,718.70) rotate(-90)" textLength="107.40" lengthAdjust="spacingAndGlyphs">KASUMI-1 RPM at rescued genes</text>
<line x1="349.90" y1="598.10" x2="349.90" y2="650.30" stroke="#cfd3d8" stroke-width="0.8" />
<line x1="361.70" y1="598.10" x2="361.70" y2="650.30" stroke="#cfd3d8" stroke-width="0.8" />
<line x1="324.70" y1="598.10" x2="324.70" y2="650.30" stroke="#231f20" stroke-width="1.1" />
<line x1="324.20" y1="650.30" x2="384.60" y2="650.30" stroke="#231f20" stroke-width="1.3" />
<line x1="322.10" y1="601.40" x2="324.70" y2="601.40" stroke="#231f20" stroke-width="0.9" />
<text x="308.30" y="603.71" font-size="7.3" fill="#333" textLength="8.00" lengthAdjust="spacingAndGlyphs">0.8</text>
<line x1="322.10" y1="644.40" x2="324.70" y2="644.40" stroke="#231f20" stroke-width="0.9" />
<text x="308.30" y="646.71" font-size="7.3" fill="#333" textLength="8.00" lengthAdjust="spacingAndGlyphs">0.2</text>
<path d="M327.40,641.40 C329.08,641.13 334.58,639.88 337.50,639.80 C340.42,639.72 343.10,641.80 344.90,640.90 C346.70,640.00 347.18,639.52 348.30,634.40 C349.42,629.28 350.72,616.03 351.60,610.20 C352.48,604.37 352.88,601.87 353.60,599.40 C354.32,596.93 355.10,595.40 355.90,595.40 C356.70,595.40 357.65,596.93 358.40,599.40 C359.15,601.87 359.62,604.37 360.40,610.20 C361.18,616.03 362.10,629.35 363.10,634.40 C364.10,639.45 364.42,639.37 366.40,640.50 C368.38,641.63 372.07,640.98 375.00,641.20 C377.93,641.42 382.50,641.70 384.00,641.80" fill="none" stroke="#5d6876" stroke-width="1.3" stroke-linejoin="round" stroke-linecap="round"/>
<path d="M327.40,648.10 C330.32,647.73 341.42,646.83 344.90,645.90 C348.38,644.97 347.18,644.30 348.30,642.50 C349.42,640.70 350.72,637.02 351.60,635.10 C352.48,633.18 352.88,631.97 353.60,631.00 C354.32,630.03 355.10,629.30 355.90,629.30 C356.70,629.30 357.65,629.92 358.40,631.00 C359.15,632.08 359.62,633.77 360.40,635.80 C361.18,637.83 362.10,641.52 363.10,643.20 C364.10,644.88 362.92,645.08 366.40,645.90 C369.88,646.72 381.07,647.73 384.00,648.10" fill="none" stroke="#d23a4e" stroke-width="1.3" stroke-linejoin="round" stroke-linecap="round"/>
<text x="343.50" y="586.79" font-size="8.4" fill="#222" textLength="23.00" lengthAdjust="spacingAndGlyphs">BRD4</text>
<line x1="350.30" y1="684.40" x2="350.30" y2="735.60" stroke="#cfd3d8" stroke-width="0.8" />
<line x1="361.50" y1="684.40" x2="361.50" y2="735.60" stroke="#cfd3d8" stroke-width="0.8" />
<line x1="325.10" y1="684.40" x2="325.10" y2="735.60" stroke="#231f20" stroke-width="1.1" />
<line x1="324.60" y1="735.60" x2="384.60" y2="735.60" stroke="#231f20" stroke-width="1.3" />
<line x1="322.50" y1="687.80" x2="325.10" y2="687.80" stroke="#231f20" stroke-width="0.9" />
<text x="308.30" y="690.11" font-size="7.3" fill="#333" textLength="8.00" lengthAdjust="spacingAndGlyphs">0.3</text>
<line x1="322.50" y1="733.10" x2="325.10" y2="733.10" stroke="#231f20" stroke-width="0.9" />
<text x="308.30" y="735.41" font-size="7.3" fill="#333" textLength="8.00" lengthAdjust="spacingAndGlyphs">0.1</text>
<path d="M327.40,732.60 C330.43,732.20 341.90,731.28 345.60,730.20 C349.30,729.12 348.48,728.80 349.60,726.10 C350.72,723.40 351.52,718.03 352.30,714.00 C353.08,709.97 353.73,704.70 354.30,701.90 C354.87,699.10 355.13,697.20 355.70,697.20 C356.27,697.20 357.03,699.10 357.70,701.90 C358.37,704.70 358.92,709.97 359.70,714.00 C360.48,718.03 361.28,723.40 362.40,726.10 C363.52,728.80 362.80,729.03 366.40,730.20 C370.00,731.37 381.07,732.62 384.00,733.10" fill="none" stroke="#5d6876" stroke-width="1.3" stroke-linejoin="round" stroke-linecap="round"/>
<path d="M327.40,730.20 C329.30,730.08 335.77,730.28 338.80,729.50 C341.83,728.72 343.80,727.18 345.60,725.50 C347.40,723.82 348.48,723.33 349.60,719.40 C350.72,715.47 351.52,707.50 352.30,701.90 C353.08,696.30 353.73,689.33 354.30,685.80 C354.87,682.27 355.13,680.70 355.70,680.70 C356.27,680.70 357.03,682.27 357.70,685.80 C358.37,689.33 358.92,696.30 359.70,701.90 C360.48,707.50 361.28,715.25 362.40,719.40 C363.52,723.55 364.50,725.03 366.40,726.80 C368.30,728.57 370.87,729.10 373.80,730.00 C376.73,730.90 382.30,731.83 384.00,732.20" fill="none" stroke="#d23a4e" stroke-width="1.3" stroke-linejoin="round" stroke-linecap="round"/>
<text x="344.60" y="672.49" font-size="8.4" fill="#222" textLength="20.40" lengthAdjust="spacingAndGlyphs">p300</text>
<text x="386.90" y="608.11" font-size="7.0" fill="#666a70" textLength="20.80" lengthAdjust="spacingAndGlyphs">DMSO</text>
<text x="386.90" y="618.61" font-size="7.0" fill="#c8405a" textLength="14.30" lengthAdjust="spacingAndGlyphs">BETi</text>
<text x="0" y="0" font-size="8.0" transform="translate(301.20,718.90) rotate(-90)" textLength="102.40" lengthAdjust="spacingAndGlyphs">SKNO-1 RPM at rescued genes</text>
<rect x="0.5" y="0.5" width="519" height="761" fill="none" stroke="#575757" stroke-width="1"/>
</svg>
</body></html>
